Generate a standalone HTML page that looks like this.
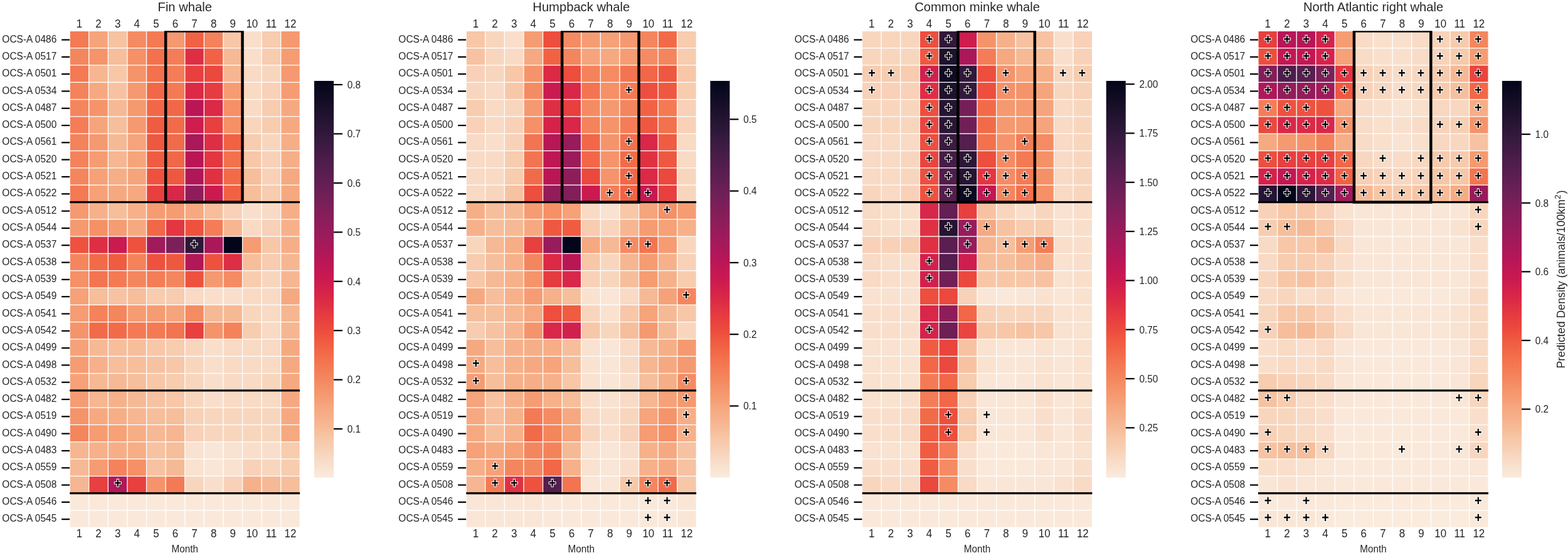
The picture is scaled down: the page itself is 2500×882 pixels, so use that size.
<!DOCTYPE html>
<html><head><meta charset="utf-8"><title>Predicted whale density by lease area and month</title>
<style>
html,body{margin:0;padding:0;background:#fff;}
body{width:2500px;height:882px;overflow:hidden;}
svg{display:block;}
svg text{font-family:'Liberation Sans', Arial, Helvetica, sans-serif;fill:#262626;}
.tl{font-size:17.5px;text-anchor:middle;}
.yl{font-size:16.5px;text-anchor:end;}
.ttl{font-size:20.2px;text-anchor:middle;}
.ml{font-size:15.3px;text-anchor:middle;}
.cl{font-size:16.5px;}
.pl{font-size:20px;font-weight:bold;text-anchor:middle;fill:#000;stroke:#fff;stroke-width:2.0px;paint-order:stroke;stroke-linejoin:round;}
</style></head><body>
<svg width="2500" height="882" viewBox="0 0 2500 882">
<defs>
<linearGradient id="rk" x1="0" y1="1" x2="0" y2="0">

<stop offset="0.0000" stop-color="#faebdd"/>
<stop offset="0.0250" stop-color="#f9e2d0"/>
<stop offset="0.0500" stop-color="#f8d9c3"/>
<stop offset="0.0750" stop-color="#f7cfb3"/>
<stop offset="0.1000" stop-color="#f7c6a6"/>
<stop offset="0.1250" stop-color="#f6bb97"/>
<stop offset="0.1500" stop-color="#f6b18b"/>
<stop offset="0.1750" stop-color="#f6a880"/>
<stop offset="0.2000" stop-color="#f69c73"/>
<stop offset="0.2250" stop-color="#f59269"/>
<stop offset="0.2500" stop-color="#f4865e"/>
<stop offset="0.2750" stop-color="#f47c55"/>
<stop offset="0.3000" stop-color="#f3714d"/>
<stop offset="0.3250" stop-color="#f16445"/>
<stop offset="0.3500" stop-color="#ef5840"/>
<stop offset="0.3750" stop-color="#ec4a3e"/>
<stop offset="0.4000" stop-color="#e83f3f"/>
<stop offset="0.4250" stop-color="#e23442"/>
<stop offset="0.4500" stop-color="#db2946"/>
<stop offset="0.4750" stop-color="#d3214b"/>
<stop offset="0.5000" stop-color="#ca1a50"/>
<stop offset="0.5250" stop-color="#c11754"/>
<stop offset="0.5500" stop-color="#b71657"/>
<stop offset="0.5750" stop-color="#ab185a"/>
<stop offset="0.6000" stop-color="#a11a5b"/>
<stop offset="0.6250" stop-color="#951c5b"/>
<stop offset="0.6500" stop-color="#8b1d5b"/>
<stop offset="0.6750" stop-color="#811e5a"/>
<stop offset="0.7000" stop-color="#751f58"/>
<stop offset="0.7250" stop-color="#6b1f56"/>
<stop offset="0.7500" stop-color="#601f52"/>
<stop offset="0.7750" stop-color="#561e4f"/>
<stop offset="0.8000" stop-color="#4c1d4b"/>
<stop offset="0.8250" stop-color="#421b45"/>
<stop offset="0.8500" stop-color="#381a40"/>
<stop offset="0.8750" stop-color="#2e1739"/>
<stop offset="0.9000" stop-color="#251433"/>
<stop offset="0.9250" stop-color="#1d112c"/>
<stop offset="0.9500" stop-color="#130d25"/>
<stop offset="0.9750" stop-color="#0a091f"/>
<stop offset="1.0000" stop-color="#03051a"/>
</linearGradient>
<clipPath id="c0"><rect x="111.15" y="49.35" width="367.20" height="791.99"/></clipPath>
<clipPath id="c1"><rect x="743.15" y="49.35" width="367.20" height="791.99"/></clipPath>
<clipPath id="c2"><rect x="1374.45" y="49.35" width="367.20" height="791.99"/></clipPath>
<clipPath id="c3"><rect x="2005.95" y="49.35" width="367.20" height="791.99"/></clipPath>
</defs>
<g id="panel1">
<rect x="111.15" y="49.35" width="30.65" height="27.36" fill="#f47a54"/>
<rect x="141.75" y="49.35" width="30.65" height="27.36" fill="#f6a47c"/>
<rect x="172.35" y="49.35" width="30.65" height="27.36" fill="#f7c2a2"/>
<rect x="202.95" y="49.35" width="30.65" height="27.36" fill="#f58b63"/>
<rect x="233.55" y="49.35" width="30.65" height="27.36" fill="#f47a54"/>
<rect x="264.15" y="49.35" width="30.65" height="27.36" fill="#f59970"/>
<rect x="294.75" y="49.35" width="30.65" height="27.36" fill="#f16244"/>
<rect x="325.35" y="49.35" width="30.65" height="27.36" fill="#f4835b"/>
<rect x="355.95" y="49.35" width="30.65" height="27.36" fill="#f7c7a8"/>
<rect x="386.55" y="49.35" width="30.65" height="27.36" fill="#f9dfcb"/>
<rect x="417.15" y="49.35" width="30.65" height="27.36" fill="#f7ccaf"/>
<rect x="447.75" y="49.35" width="30.65" height="27.36" fill="#f59970"/>
<rect x="111.15" y="76.66" width="30.65" height="27.36" fill="#f4865e"/>
<rect x="141.75" y="76.66" width="30.65" height="27.36" fill="#f5946b"/>
<rect x="172.35" y="76.66" width="30.65" height="27.36" fill="#f6be9b"/>
<rect x="202.95" y="76.66" width="30.65" height="27.36" fill="#f59067"/>
<rect x="233.55" y="76.66" width="30.65" height="27.36" fill="#f3714d"/>
<rect x="264.15" y="76.66" width="30.65" height="27.36" fill="#f47d57"/>
<rect x="294.75" y="76.66" width="30.65" height="27.36" fill="#de2e44"/>
<rect x="325.35" y="76.66" width="30.65" height="27.36" fill="#f16244"/>
<rect x="355.95" y="76.66" width="30.65" height="27.36" fill="#f6b995"/>
<rect x="386.55" y="76.66" width="30.65" height="27.36" fill="#f9dfcb"/>
<rect x="417.15" y="76.66" width="30.65" height="27.36" fill="#f7ccaf"/>
<rect x="447.75" y="76.66" width="30.65" height="27.36" fill="#f69c73"/>
<rect x="111.15" y="103.97" width="30.65" height="27.36" fill="#f47a54"/>
<rect x="141.75" y="103.97" width="30.65" height="27.36" fill="#f6b691"/>
<rect x="172.35" y="103.97" width="30.65" height="27.36" fill="#f7c7a8"/>
<rect x="202.95" y="103.97" width="30.65" height="27.36" fill="#f5946b"/>
<rect x="233.55" y="103.97" width="30.65" height="27.36" fill="#f3714d"/>
<rect x="264.15" y="103.97" width="30.65" height="27.36" fill="#f47d57"/>
<rect x="294.75" y="103.97" width="30.65" height="27.36" fill="#e83f3f"/>
<rect x="325.35" y="103.97" width="30.65" height="27.36" fill="#eb483e"/>
<rect x="355.95" y="103.97" width="30.65" height="27.36" fill="#f6b691"/>
<rect x="386.55" y="103.97" width="30.65" height="27.36" fill="#f8dac5"/>
<rect x="417.15" y="103.97" width="30.65" height="27.36" fill="#f8d6be"/>
<rect x="447.75" y="103.97" width="30.65" height="27.36" fill="#f59970"/>
<rect x="111.15" y="131.28" width="30.65" height="27.36" fill="#f4835b"/>
<rect x="141.75" y="131.28" width="30.65" height="27.36" fill="#f6a981"/>
<rect x="172.35" y="131.28" width="30.65" height="27.36" fill="#f7c2a2"/>
<rect x="202.95" y="131.28" width="30.65" height="27.36" fill="#f59970"/>
<rect x="233.55" y="131.28" width="30.65" height="27.36" fill="#f26747"/>
<rect x="264.15" y="131.28" width="30.65" height="27.36" fill="#f47a54"/>
<rect x="294.75" y="131.28" width="30.65" height="27.36" fill="#db2946"/>
<rect x="325.35" y="131.28" width="30.65" height="27.36" fill="#e63b40"/>
<rect x="355.95" y="131.28" width="30.65" height="27.36" fill="#f69c73"/>
<rect x="386.55" y="131.28" width="30.65" height="27.36" fill="#f8dac5"/>
<rect x="417.15" y="131.28" width="30.65" height="27.36" fill="#f8d1b8"/>
<rect x="447.75" y="131.28" width="30.65" height="27.36" fill="#f69c73"/>
<rect x="111.15" y="158.59" width="30.65" height="27.36" fill="#f4865e"/>
<rect x="141.75" y="158.59" width="30.65" height="27.36" fill="#f5946b"/>
<rect x="172.35" y="158.59" width="30.65" height="27.36" fill="#f6b995"/>
<rect x="202.95" y="158.59" width="30.65" height="27.36" fill="#f59970"/>
<rect x="233.55" y="158.59" width="30.65" height="27.36" fill="#f26747"/>
<rect x="264.15" y="158.59" width="30.65" height="27.36" fill="#f26747"/>
<rect x="294.75" y="158.59" width="30.65" height="27.36" fill="#ba1656"/>
<rect x="325.35" y="158.59" width="30.65" height="27.36" fill="#db2946"/>
<rect x="355.95" y="158.59" width="30.65" height="27.36" fill="#f59067"/>
<rect x="386.55" y="158.59" width="30.65" height="27.36" fill="#f8dac5"/>
<rect x="417.15" y="158.59" width="30.65" height="27.36" fill="#f7ccaf"/>
<rect x="447.75" y="158.59" width="30.65" height="27.36" fill="#f6a981"/>
<rect x="111.15" y="185.90" width="30.65" height="27.36" fill="#f47d57"/>
<rect x="141.75" y="185.90" width="30.65" height="27.36" fill="#f6a47c"/>
<rect x="172.35" y="185.90" width="30.65" height="27.36" fill="#f6be9b"/>
<rect x="202.95" y="185.90" width="30.65" height="27.36" fill="#f59970"/>
<rect x="233.55" y="185.90" width="30.65" height="27.36" fill="#f05c42"/>
<rect x="264.15" y="185.90" width="30.65" height="27.36" fill="#f26b49"/>
<rect x="294.75" y="185.90" width="30.65" height="27.36" fill="#ce1d4e"/>
<rect x="325.35" y="185.90" width="30.65" height="27.36" fill="#e83f3f"/>
<rect x="355.95" y="185.90" width="30.65" height="27.36" fill="#f59067"/>
<rect x="386.55" y="185.90" width="30.65" height="27.36" fill="#f8d6be"/>
<rect x="417.15" y="185.90" width="30.65" height="27.36" fill="#f7ccaf"/>
<rect x="447.75" y="185.90" width="30.65" height="27.36" fill="#f6a981"/>
<rect x="111.15" y="213.21" width="30.65" height="27.36" fill="#f4835b"/>
<rect x="141.75" y="213.21" width="30.65" height="27.36" fill="#f59970"/>
<rect x="172.35" y="213.21" width="30.65" height="27.36" fill="#f6b995"/>
<rect x="202.95" y="213.21" width="30.65" height="27.36" fill="#f6a47c"/>
<rect x="233.55" y="213.21" width="30.65" height="27.36" fill="#ef5840"/>
<rect x="264.15" y="213.21" width="30.65" height="27.36" fill="#f26b49"/>
<rect x="294.75" y="213.21" width="30.65" height="27.36" fill="#aa185a"/>
<rect x="325.35" y="213.21" width="30.65" height="27.36" fill="#de2e44"/>
<rect x="355.95" y="213.21" width="30.65" height="27.36" fill="#f16244"/>
<rect x="386.55" y="213.21" width="30.65" height="27.36" fill="#f7ccaf"/>
<rect x="417.15" y="213.21" width="30.65" height="27.36" fill="#f8d6be"/>
<rect x="447.75" y="213.21" width="30.65" height="27.36" fill="#f6ae87"/>
<rect x="111.15" y="240.52" width="30.65" height="27.36" fill="#f4835b"/>
<rect x="141.75" y="240.52" width="30.65" height="27.36" fill="#f69c73"/>
<rect x="172.35" y="240.52" width="30.65" height="27.36" fill="#f6b691"/>
<rect x="202.95" y="240.52" width="30.65" height="27.36" fill="#f6a47c"/>
<rect x="233.55" y="240.52" width="30.65" height="27.36" fill="#f05c42"/>
<rect x="264.15" y="240.52" width="30.65" height="27.36" fill="#f26747"/>
<rect x="294.75" y="240.52" width="30.65" height="27.36" fill="#ba1656"/>
<rect x="325.35" y="240.52" width="30.65" height="27.36" fill="#e33641"/>
<rect x="355.95" y="240.52" width="30.65" height="27.36" fill="#f3714d"/>
<rect x="386.55" y="240.52" width="30.65" height="27.36" fill="#f7c7a8"/>
<rect x="417.15" y="240.52" width="30.65" height="27.36" fill="#f8d1b8"/>
<rect x="447.75" y="240.52" width="30.65" height="27.36" fill="#f6ae87"/>
<rect x="111.15" y="267.83" width="30.65" height="27.36" fill="#f4865e"/>
<rect x="141.75" y="267.83" width="30.65" height="27.36" fill="#f6a178"/>
<rect x="172.35" y="267.83" width="30.65" height="27.36" fill="#f6ae87"/>
<rect x="202.95" y="267.83" width="30.65" height="27.36" fill="#f6a47c"/>
<rect x="233.55" y="267.83" width="30.65" height="27.36" fill="#ee523f"/>
<rect x="264.15" y="267.83" width="30.65" height="27.36" fill="#ef5840"/>
<rect x="294.75" y="267.83" width="30.65" height="27.36" fill="#af1759"/>
<rect x="325.35" y="267.83" width="30.65" height="27.36" fill="#e03143"/>
<rect x="355.95" y="267.83" width="30.65" height="27.36" fill="#f26b49"/>
<rect x="386.55" y="267.83" width="30.65" height="27.36" fill="#f6be9b"/>
<rect x="417.15" y="267.83" width="30.65" height="27.36" fill="#f8d1b8"/>
<rect x="447.75" y="267.83" width="30.65" height="27.36" fill="#f6a981"/>
<rect x="111.15" y="295.14" width="30.65" height="27.36" fill="#f47a54"/>
<rect x="141.75" y="295.14" width="30.65" height="27.36" fill="#f6a178"/>
<rect x="172.35" y="295.14" width="30.65" height="27.36" fill="#f6a981"/>
<rect x="202.95" y="295.14" width="30.65" height="27.36" fill="#f6a981"/>
<rect x="233.55" y="295.14" width="30.65" height="27.36" fill="#e83f3f"/>
<rect x="264.15" y="295.14" width="30.65" height="27.36" fill="#d82748"/>
<rect x="294.75" y="295.14" width="30.65" height="27.36" fill="#901d5b"/>
<rect x="325.35" y="295.14" width="30.65" height="27.36" fill="#ca1a50"/>
<rect x="355.95" y="295.14" width="30.65" height="27.36" fill="#f16244"/>
<rect x="386.55" y="295.14" width="30.65" height="27.36" fill="#f6be9b"/>
<rect x="417.15" y="295.14" width="30.65" height="27.36" fill="#f7ccaf"/>
<rect x="447.75" y="295.14" width="30.65" height="27.36" fill="#f6a981"/>
<rect x="111.15" y="322.45" width="30.65" height="27.36" fill="#f59970"/>
<rect x="141.75" y="322.45" width="30.65" height="27.36" fill="#f6b18b"/>
<rect x="172.35" y="322.45" width="30.65" height="27.36" fill="#f6be9b"/>
<rect x="202.95" y="322.45" width="30.65" height="27.36" fill="#f6b18b"/>
<rect x="233.55" y="322.45" width="30.65" height="27.36" fill="#f69c73"/>
<rect x="264.15" y="322.45" width="30.65" height="27.36" fill="#f69c73"/>
<rect x="294.75" y="322.45" width="30.65" height="27.36" fill="#f6a981"/>
<rect x="325.35" y="322.45" width="30.65" height="27.36" fill="#f6be9b"/>
<rect x="355.95" y="322.45" width="30.65" height="27.36" fill="#f8d1b8"/>
<rect x="386.55" y="322.45" width="30.65" height="27.36" fill="#f9dfcb"/>
<rect x="417.15" y="322.45" width="30.65" height="27.36" fill="#f8dac5"/>
<rect x="447.75" y="322.45" width="30.65" height="27.36" fill="#f6ae87"/>
<rect x="111.15" y="349.76" width="30.65" height="27.36" fill="#f59970"/>
<rect x="141.75" y="349.76" width="30.65" height="27.36" fill="#f59067"/>
<rect x="172.35" y="349.76" width="30.65" height="27.36" fill="#f69c73"/>
<rect x="202.95" y="349.76" width="30.65" height="27.36" fill="#f6a981"/>
<rect x="233.55" y="349.76" width="30.65" height="27.36" fill="#f26747"/>
<rect x="264.15" y="349.76" width="30.65" height="27.36" fill="#e33641"/>
<rect x="294.75" y="349.76" width="30.65" height="27.36" fill="#ee523f"/>
<rect x="325.35" y="349.76" width="30.65" height="27.36" fill="#f47d57"/>
<rect x="355.95" y="349.76" width="30.65" height="27.36" fill="#f6b691"/>
<rect x="386.55" y="349.76" width="30.65" height="27.36" fill="#f8dac5"/>
<rect x="417.15" y="349.76" width="30.65" height="27.36" fill="#f8d1b8"/>
<rect x="447.75" y="349.76" width="30.65" height="27.36" fill="#f6b18b"/>
<rect x="111.15" y="377.07" width="30.65" height="27.36" fill="#ee523f"/>
<rect x="141.75" y="377.07" width="30.65" height="27.36" fill="#de2e44"/>
<rect x="172.35" y="377.07" width="30.65" height="27.36" fill="#ca1a50"/>
<rect x="202.95" y="377.07" width="30.65" height="27.36" fill="#ee523f"/>
<rect x="233.55" y="377.07" width="30.65" height="27.36" fill="#a11a5b"/>
<rect x="264.15" y="377.07" width="30.65" height="27.36" fill="#7d1f5a"/>
<rect x="294.75" y="377.07" width="30.65" height="27.36" fill="#2d1738"/>
<rect x="325.35" y="377.07" width="30.65" height="27.36" fill="#aa185a"/>
<rect x="355.95" y="377.07" width="30.65" height="27.36" fill="#03051a"/>
<rect x="386.55" y="377.07" width="30.65" height="27.36" fill="#f69c73"/>
<rect x="417.15" y="377.07" width="30.65" height="27.36" fill="#f7c7a8"/>
<rect x="447.75" y="377.07" width="30.65" height="27.36" fill="#f6ae87"/>
<rect x="111.15" y="404.38" width="30.65" height="27.36" fill="#f4865e"/>
<rect x="141.75" y="404.38" width="30.65" height="27.36" fill="#f26b49"/>
<rect x="172.35" y="404.38" width="30.65" height="27.36" fill="#f05c42"/>
<rect x="202.95" y="404.38" width="30.65" height="27.36" fill="#f4835b"/>
<rect x="233.55" y="404.38" width="30.65" height="27.36" fill="#ee523f"/>
<rect x="264.15" y="404.38" width="30.65" height="27.36" fill="#ef5840"/>
<rect x="294.75" y="404.38" width="30.65" height="27.36" fill="#b21758"/>
<rect x="325.35" y="404.38" width="30.65" height="27.36" fill="#ee523f"/>
<rect x="355.95" y="404.38" width="30.65" height="27.36" fill="#de2e44"/>
<rect x="386.55" y="404.38" width="30.65" height="27.36" fill="#f6be9b"/>
<rect x="417.15" y="404.38" width="30.65" height="27.36" fill="#f7ccaf"/>
<rect x="447.75" y="404.38" width="30.65" height="27.36" fill="#f6b691"/>
<rect x="111.15" y="431.69" width="30.65" height="27.36" fill="#f59067"/>
<rect x="141.75" y="431.69" width="30.65" height="27.36" fill="#f37450"/>
<rect x="172.35" y="431.69" width="30.65" height="27.36" fill="#f47a54"/>
<rect x="202.95" y="431.69" width="30.65" height="27.36" fill="#f4865e"/>
<rect x="233.55" y="431.69" width="30.65" height="27.36" fill="#f47d57"/>
<rect x="264.15" y="431.69" width="30.65" height="27.36" fill="#f4865e"/>
<rect x="294.75" y="431.69" width="30.65" height="27.36" fill="#ee523f"/>
<rect x="325.35" y="431.69" width="30.65" height="27.36" fill="#f59970"/>
<rect x="355.95" y="431.69" width="30.65" height="27.36" fill="#f58b63"/>
<rect x="386.55" y="431.69" width="30.65" height="27.36" fill="#f7ccaf"/>
<rect x="417.15" y="431.69" width="30.65" height="27.36" fill="#f8d6be"/>
<rect x="447.75" y="431.69" width="30.65" height="27.36" fill="#f6b691"/>
<rect x="111.15" y="459.00" width="30.65" height="27.36" fill="#f6a178"/>
<rect x="141.75" y="459.00" width="30.65" height="27.36" fill="#f6be9b"/>
<rect x="172.35" y="459.00" width="30.65" height="27.36" fill="#f7c2a2"/>
<rect x="202.95" y="459.00" width="30.65" height="27.36" fill="#f6be9b"/>
<rect x="233.55" y="459.00" width="30.65" height="27.36" fill="#f7ccaf"/>
<rect x="264.15" y="459.00" width="30.65" height="27.36" fill="#f7ccaf"/>
<rect x="294.75" y="459.00" width="30.65" height="27.36" fill="#f8dac5"/>
<rect x="325.35" y="459.00" width="30.65" height="27.36" fill="#f9dfcb"/>
<rect x="355.95" y="459.00" width="30.65" height="27.36" fill="#f9dfcb"/>
<rect x="386.55" y="459.00" width="30.65" height="27.36" fill="#f8dac5"/>
<rect x="417.15" y="459.00" width="30.65" height="27.36" fill="#f8dac5"/>
<rect x="447.75" y="459.00" width="30.65" height="27.36" fill="#f6a981"/>
<rect x="111.15" y="486.31" width="30.65" height="27.36" fill="#f69c73"/>
<rect x="141.75" y="486.31" width="30.65" height="27.36" fill="#f4835b"/>
<rect x="172.35" y="486.31" width="30.65" height="27.36" fill="#f4865e"/>
<rect x="202.95" y="486.31" width="30.65" height="27.36" fill="#f69c73"/>
<rect x="233.55" y="486.31" width="30.65" height="27.36" fill="#f69c73"/>
<rect x="264.15" y="486.31" width="30.65" height="27.36" fill="#f6a47c"/>
<rect x="294.75" y="486.31" width="30.65" height="27.36" fill="#f58b63"/>
<rect x="325.35" y="486.31" width="30.65" height="27.36" fill="#f6b995"/>
<rect x="355.95" y="486.31" width="30.65" height="27.36" fill="#f6b995"/>
<rect x="386.55" y="486.31" width="30.65" height="27.36" fill="#f8d6be"/>
<rect x="417.15" y="486.31" width="30.65" height="27.36" fill="#f8dac5"/>
<rect x="447.75" y="486.31" width="30.65" height="27.36" fill="#f6b691"/>
<rect x="111.15" y="513.62" width="30.65" height="27.36" fill="#f5946b"/>
<rect x="141.75" y="513.62" width="30.65" height="27.36" fill="#f26b49"/>
<rect x="172.35" y="513.62" width="30.65" height="27.36" fill="#f26b49"/>
<rect x="202.95" y="513.62" width="30.65" height="27.36" fill="#f47a54"/>
<rect x="233.55" y="513.62" width="30.65" height="27.36" fill="#f47a54"/>
<rect x="264.15" y="513.62" width="30.65" height="27.36" fill="#f37450"/>
<rect x="294.75" y="513.62" width="30.65" height="27.36" fill="#e83f3f"/>
<rect x="325.35" y="513.62" width="30.65" height="27.36" fill="#f5946b"/>
<rect x="355.95" y="513.62" width="30.65" height="27.36" fill="#f4835b"/>
<rect x="386.55" y="513.62" width="30.65" height="27.36" fill="#f7ccaf"/>
<rect x="417.15" y="513.62" width="30.65" height="27.36" fill="#f8dac5"/>
<rect x="447.75" y="513.62" width="30.65" height="27.36" fill="#f6b691"/>
<rect x="111.15" y="540.93" width="30.65" height="27.36" fill="#f6a178"/>
<rect x="141.75" y="540.93" width="30.65" height="27.36" fill="#f6b995"/>
<rect x="172.35" y="540.93" width="30.65" height="27.36" fill="#f6be9b"/>
<rect x="202.95" y="540.93" width="30.65" height="27.36" fill="#f6be9b"/>
<rect x="233.55" y="540.93" width="30.65" height="27.36" fill="#f7c7a8"/>
<rect x="264.15" y="540.93" width="30.65" height="27.36" fill="#f7ccaf"/>
<rect x="294.75" y="540.93" width="30.65" height="27.36" fill="#f8d6be"/>
<rect x="325.35" y="540.93" width="30.65" height="27.36" fill="#f9dfcb"/>
<rect x="355.95" y="540.93" width="30.65" height="27.36" fill="#f8dac5"/>
<rect x="386.55" y="540.93" width="30.65" height="27.36" fill="#f8dac5"/>
<rect x="417.15" y="540.93" width="30.65" height="27.36" fill="#f8dac5"/>
<rect x="447.75" y="540.93" width="30.65" height="27.36" fill="#f6a981"/>
<rect x="111.15" y="568.24" width="30.65" height="27.36" fill="#f69c73"/>
<rect x="141.75" y="568.24" width="30.65" height="27.36" fill="#f6b18b"/>
<rect x="172.35" y="568.24" width="30.65" height="27.36" fill="#f6be9b"/>
<rect x="202.95" y="568.24" width="30.65" height="27.36" fill="#f6be9b"/>
<rect x="233.55" y="568.24" width="30.65" height="27.36" fill="#f7c2a2"/>
<rect x="264.15" y="568.24" width="30.65" height="27.36" fill="#f7c7a8"/>
<rect x="294.75" y="568.24" width="30.65" height="27.36" fill="#f8d6be"/>
<rect x="325.35" y="568.24" width="30.65" height="27.36" fill="#f9dfcb"/>
<rect x="355.95" y="568.24" width="30.65" height="27.36" fill="#f8dac5"/>
<rect x="386.55" y="568.24" width="30.65" height="27.36" fill="#f8dac5"/>
<rect x="417.15" y="568.24" width="30.65" height="27.36" fill="#f8dac5"/>
<rect x="447.75" y="568.24" width="30.65" height="27.36" fill="#f6a981"/>
<rect x="111.15" y="595.55" width="30.65" height="27.36" fill="#f6a178"/>
<rect x="141.75" y="595.55" width="30.65" height="27.36" fill="#f6b995"/>
<rect x="172.35" y="595.55" width="30.65" height="27.36" fill="#f6b995"/>
<rect x="202.95" y="595.55" width="30.65" height="27.36" fill="#f6be9b"/>
<rect x="233.55" y="595.55" width="30.65" height="27.36" fill="#f7c7a8"/>
<rect x="264.15" y="595.55" width="30.65" height="27.36" fill="#f7ccaf"/>
<rect x="294.75" y="595.55" width="30.65" height="27.36" fill="#f8d6be"/>
<rect x="325.35" y="595.55" width="30.65" height="27.36" fill="#f9dfcb"/>
<rect x="355.95" y="595.55" width="30.65" height="27.36" fill="#f8dac5"/>
<rect x="386.55" y="595.55" width="30.65" height="27.36" fill="#f8dac5"/>
<rect x="417.15" y="595.55" width="30.65" height="27.36" fill="#f8d6be"/>
<rect x="447.75" y="595.55" width="30.65" height="27.36" fill="#f6a981"/>
<rect x="111.15" y="622.86" width="30.65" height="27.36" fill="#f69c73"/>
<rect x="141.75" y="622.86" width="30.65" height="27.36" fill="#f6b691"/>
<rect x="172.35" y="622.86" width="30.65" height="27.36" fill="#f6b18b"/>
<rect x="202.95" y="622.86" width="30.65" height="27.36" fill="#f6b995"/>
<rect x="233.55" y="622.86" width="30.65" height="27.36" fill="#f7c2a2"/>
<rect x="264.15" y="622.86" width="30.65" height="27.36" fill="#f7c7a8"/>
<rect x="294.75" y="622.86" width="30.65" height="27.36" fill="#f8d6be"/>
<rect x="325.35" y="622.86" width="30.65" height="27.36" fill="#f9dfcb"/>
<rect x="355.95" y="622.86" width="30.65" height="27.36" fill="#f8dac5"/>
<rect x="386.55" y="622.86" width="30.65" height="27.36" fill="#f8dac5"/>
<rect x="417.15" y="622.86" width="30.65" height="27.36" fill="#f8dac5"/>
<rect x="447.75" y="622.86" width="30.65" height="27.36" fill="#f6a981"/>
<rect x="111.15" y="650.17" width="30.65" height="27.36" fill="#f5946b"/>
<rect x="141.75" y="650.17" width="30.65" height="27.36" fill="#f6a981"/>
<rect x="172.35" y="650.17" width="30.65" height="27.36" fill="#f6ae87"/>
<rect x="202.95" y="650.17" width="30.65" height="27.36" fill="#f6b691"/>
<rect x="233.55" y="650.17" width="30.65" height="27.36" fill="#f6be9b"/>
<rect x="264.15" y="650.17" width="30.65" height="27.36" fill="#f6be9b"/>
<rect x="294.75" y="650.17" width="30.65" height="27.36" fill="#f8d1b8"/>
<rect x="325.35" y="650.17" width="30.65" height="27.36" fill="#f8d6be"/>
<rect x="355.95" y="650.17" width="30.65" height="27.36" fill="#f8d6be"/>
<rect x="386.55" y="650.17" width="30.65" height="27.36" fill="#f8d6be"/>
<rect x="417.15" y="650.17" width="30.65" height="27.36" fill="#f8d6be"/>
<rect x="447.75" y="650.17" width="30.65" height="27.36" fill="#f6a981"/>
<rect x="111.15" y="677.48" width="30.65" height="27.36" fill="#f4865e"/>
<rect x="141.75" y="677.48" width="30.65" height="27.36" fill="#f69c73"/>
<rect x="172.35" y="677.48" width="30.65" height="27.36" fill="#f6a178"/>
<rect x="202.95" y="677.48" width="30.65" height="27.36" fill="#f6ae87"/>
<rect x="233.55" y="677.48" width="30.65" height="27.36" fill="#f6b995"/>
<rect x="264.15" y="677.48" width="30.65" height="27.36" fill="#f6b691"/>
<rect x="294.75" y="677.48" width="30.65" height="27.36" fill="#f8d1b8"/>
<rect x="325.35" y="677.48" width="30.65" height="27.36" fill="#f8d6be"/>
<rect x="355.95" y="677.48" width="30.65" height="27.36" fill="#f8d6be"/>
<rect x="386.55" y="677.48" width="30.65" height="27.36" fill="#f8d6be"/>
<rect x="417.15" y="677.48" width="30.65" height="27.36" fill="#f8d6be"/>
<rect x="447.75" y="677.48" width="30.65" height="27.36" fill="#f6a981"/>
<rect x="111.15" y="704.79" width="30.65" height="27.36" fill="#f6b691"/>
<rect x="141.75" y="704.79" width="30.65" height="27.36" fill="#f6b18b"/>
<rect x="172.35" y="704.79" width="30.65" height="27.36" fill="#f6ae87"/>
<rect x="202.95" y="704.79" width="30.65" height="27.36" fill="#f6ae87"/>
<rect x="233.55" y="704.79" width="30.65" height="27.36" fill="#f7c2a2"/>
<rect x="264.15" y="704.79" width="30.65" height="27.36" fill="#f6be9b"/>
<rect x="294.75" y="704.79" width="30.65" height="27.36" fill="#f9e2d0"/>
<rect x="325.35" y="704.79" width="30.65" height="27.36" fill="#fae6d6"/>
<rect x="355.95" y="704.79" width="30.65" height="27.36" fill="#f9e2d0"/>
<rect x="386.55" y="704.79" width="30.65" height="27.36" fill="#f9dfcb"/>
<rect x="417.15" y="704.79" width="30.65" height="27.36" fill="#f9dfcb"/>
<rect x="447.75" y="704.79" width="30.65" height="27.36" fill="#f7ccaf"/>
<rect x="111.15" y="732.10" width="30.65" height="27.36" fill="#f6b995"/>
<rect x="141.75" y="732.10" width="30.65" height="27.36" fill="#f69c73"/>
<rect x="172.35" y="732.10" width="30.65" height="27.36" fill="#f4835b"/>
<rect x="202.95" y="732.10" width="30.65" height="27.36" fill="#f59067"/>
<rect x="233.55" y="732.10" width="30.65" height="27.36" fill="#f7c2a2"/>
<rect x="264.15" y="732.10" width="30.65" height="27.36" fill="#f6b995"/>
<rect x="294.75" y="732.10" width="30.65" height="27.36" fill="#f9e2d0"/>
<rect x="325.35" y="732.10" width="30.65" height="27.36" fill="#fae6d6"/>
<rect x="355.95" y="732.10" width="30.65" height="27.36" fill="#f9e2d0"/>
<rect x="386.55" y="732.10" width="30.65" height="27.36" fill="#f8d1b8"/>
<rect x="417.15" y="732.10" width="30.65" height="27.36" fill="#f8d6be"/>
<rect x="447.75" y="732.10" width="30.65" height="27.36" fill="#f7ccaf"/>
<rect x="111.15" y="759.41" width="30.65" height="27.36" fill="#f6b691"/>
<rect x="141.75" y="759.41" width="30.65" height="27.36" fill="#e83f3f"/>
<rect x="172.35" y="759.41" width="30.65" height="27.36" fill="#b21758"/>
<rect x="202.95" y="759.41" width="30.65" height="27.36" fill="#e83f3f"/>
<rect x="233.55" y="759.41" width="30.65" height="27.36" fill="#f5946b"/>
<rect x="264.15" y="759.41" width="30.65" height="27.36" fill="#f47a54"/>
<rect x="294.75" y="759.41" width="30.65" height="27.36" fill="#f8d6be"/>
<rect x="325.35" y="759.41" width="30.65" height="27.36" fill="#f9dfcb"/>
<rect x="355.95" y="759.41" width="30.65" height="27.36" fill="#f8d1b8"/>
<rect x="386.55" y="759.41" width="30.65" height="27.36" fill="#f6b18b"/>
<rect x="417.15" y="759.41" width="30.65" height="27.36" fill="#f6b995"/>
<rect x="447.75" y="759.41" width="30.65" height="27.36" fill="#f6be9b"/>
<rect x="111.15" y="786.72" width="30.65" height="27.36" fill="#fae9da"/>
<rect x="141.75" y="786.72" width="30.65" height="27.36" fill="#fae9da"/>
<rect x="172.35" y="786.72" width="30.65" height="27.36" fill="#fae9da"/>
<rect x="202.95" y="786.72" width="30.65" height="27.36" fill="#fae9da"/>
<rect x="233.55" y="786.72" width="30.65" height="27.36" fill="#fae9da"/>
<rect x="264.15" y="786.72" width="30.65" height="27.36" fill="#fae9da"/>
<rect x="294.75" y="786.72" width="30.65" height="27.36" fill="#fae9da"/>
<rect x="325.35" y="786.72" width="30.65" height="27.36" fill="#fae9da"/>
<rect x="355.95" y="786.72" width="30.65" height="27.36" fill="#fae9da"/>
<rect x="386.55" y="786.72" width="30.65" height="27.36" fill="#fae9da"/>
<rect x="417.15" y="786.72" width="30.65" height="27.36" fill="#fae9da"/>
<rect x="447.75" y="786.72" width="30.65" height="27.36" fill="#fae9da"/>
<rect x="111.15" y="814.03" width="30.65" height="27.36" fill="#fae9da"/>
<rect x="141.75" y="814.03" width="30.65" height="27.36" fill="#fae9da"/>
<rect x="172.35" y="814.03" width="30.65" height="27.36" fill="#fae9da"/>
<rect x="202.95" y="814.03" width="30.65" height="27.36" fill="#fae9da"/>
<rect x="233.55" y="814.03" width="30.65" height="27.36" fill="#fae9da"/>
<rect x="264.15" y="814.03" width="30.65" height="27.36" fill="#fae9da"/>
<rect x="294.75" y="814.03" width="30.65" height="27.36" fill="#fae9da"/>
<rect x="325.35" y="814.03" width="30.65" height="27.36" fill="#fae9da"/>
<rect x="355.95" y="814.03" width="30.65" height="27.36" fill="#fae9da"/>
<rect x="386.55" y="814.03" width="30.65" height="27.36" fill="#fae9da"/>
<rect x="417.15" y="814.03" width="30.65" height="27.36" fill="#fae9da"/>
<rect x="447.75" y="814.03" width="30.65" height="27.36" fill="#fae9da"/>
<rect x="110.50" y="48.70" width="1.3" height="793.29" fill="#fff"/>
<rect x="141.10" y="48.70" width="1.3" height="793.29" fill="#fff"/>
<rect x="171.70" y="48.70" width="1.3" height="793.29" fill="#fff"/>
<rect x="202.30" y="48.70" width="1.3" height="793.29" fill="#fff"/>
<rect x="232.90" y="48.70" width="1.3" height="793.29" fill="#fff"/>
<rect x="263.50" y="48.70" width="1.3" height="793.29" fill="#fff"/>
<rect x="294.10" y="48.70" width="1.3" height="793.29" fill="#fff"/>
<rect x="324.70" y="48.70" width="1.3" height="793.29" fill="#fff"/>
<rect x="355.30" y="48.70" width="1.3" height="793.29" fill="#fff"/>
<rect x="385.90" y="48.70" width="1.3" height="793.29" fill="#fff"/>
<rect x="416.50" y="48.70" width="1.3" height="793.29" fill="#fff"/>
<rect x="447.10" y="48.70" width="1.3" height="793.29" fill="#fff"/>
<rect x="477.70" y="48.70" width="1.3" height="793.29" fill="#fff"/>
<rect x="110.50" y="48.70" width="368.50" height="1.3" fill="#fff"/>
<rect x="110.50" y="76.01" width="368.50" height="1.3" fill="#fff"/>
<rect x="110.50" y="103.32" width="368.50" height="1.3" fill="#fff"/>
<rect x="110.50" y="130.63" width="368.50" height="1.3" fill="#fff"/>
<rect x="110.50" y="157.94" width="368.50" height="1.3" fill="#fff"/>
<rect x="110.50" y="185.25" width="368.50" height="1.3" fill="#fff"/>
<rect x="110.50" y="212.56" width="368.50" height="1.3" fill="#fff"/>
<rect x="110.50" y="239.87" width="368.50" height="1.3" fill="#fff"/>
<rect x="110.50" y="267.18" width="368.50" height="1.3" fill="#fff"/>
<rect x="110.50" y="294.49" width="368.50" height="1.3" fill="#fff"/>
<rect x="110.50" y="321.80" width="368.50" height="1.3" fill="#fff"/>
<rect x="110.50" y="349.11" width="368.50" height="1.3" fill="#fff"/>
<rect x="110.50" y="376.42" width="368.50" height="1.3" fill="#fff"/>
<rect x="110.50" y="403.73" width="368.50" height="1.3" fill="#fff"/>
<rect x="110.50" y="431.04" width="368.50" height="1.3" fill="#fff"/>
<rect x="110.50" y="458.35" width="368.50" height="1.3" fill="#fff"/>
<rect x="110.50" y="485.66" width="368.50" height="1.3" fill="#fff"/>
<rect x="110.50" y="512.97" width="368.50" height="1.3" fill="#fff"/>
<rect x="110.50" y="540.28" width="368.50" height="1.3" fill="#fff"/>
<rect x="110.50" y="567.59" width="368.50" height="1.3" fill="#fff"/>
<rect x="110.50" y="594.90" width="368.50" height="1.3" fill="#fff"/>
<rect x="110.50" y="622.21" width="368.50" height="1.3" fill="#fff"/>
<rect x="110.50" y="649.52" width="368.50" height="1.3" fill="#fff"/>
<rect x="110.50" y="676.83" width="368.50" height="1.3" fill="#fff"/>
<rect x="110.50" y="704.14" width="368.50" height="1.3" fill="#fff"/>
<rect x="110.50" y="731.45" width="368.50" height="1.3" fill="#fff"/>
<rect x="110.50" y="758.76" width="368.50" height="1.3" fill="#fff"/>
<rect x="110.50" y="786.07" width="368.50" height="1.3" fill="#fff"/>
<rect x="110.50" y="813.38" width="368.50" height="1.3" fill="#fff"/>
<rect x="110.50" y="840.69" width="368.50" height="1.3" fill="#fff"/>
<g clip-path="url(#c0)">
<rect x="264.15" y="49.35" width="122.40" height="273.10" fill="none" stroke="#000" stroke-width="4.5"/>
<rect x="111.15" y="320.85" width="367.20" height="3.2" fill="#000"/>
<rect x="111.15" y="621.26" width="367.20" height="3.2" fill="#000"/>
<rect x="111.15" y="785.12" width="367.20" height="3.2" fill="#000"/>
</g>
<text class="pl" transform="translate(309.69,396.65) scale(1,1.06)">+</text>
<text class="pl" transform="translate(187.72,778.29) scale(1,1.06)">+</text>
<rect x="98.15" y="62.41" width="13" height="2.2" fill="#000"/>
<text class="yl" transform="translate(90.35,67.61) scale(0.94,1)">OCS-A 0486</text>
<rect x="98.15" y="89.72" width="13" height="2.2" fill="#000"/>
<text class="yl" transform="translate(90.35,94.91) scale(0.94,1)">OCS-A 0517</text>
<rect x="98.15" y="117.03" width="13" height="2.2" fill="#000"/>
<text class="yl" transform="translate(90.35,122.22) scale(0.94,1)">OCS-A 0501</text>
<rect x="98.15" y="144.34" width="13" height="2.2" fill="#000"/>
<text class="yl" transform="translate(90.35,149.53) scale(0.94,1)">OCS-A 0534</text>
<rect x="98.15" y="171.65" width="13" height="2.2" fill="#000"/>
<text class="yl" transform="translate(90.35,176.84) scale(0.94,1)">OCS-A 0487</text>
<rect x="98.15" y="198.95" width="13" height="2.2" fill="#000"/>
<text class="yl" transform="translate(90.35,204.15) scale(0.94,1)">OCS-A 0500</text>
<rect x="98.15" y="226.26" width="13" height="2.2" fill="#000"/>
<text class="yl" transform="translate(90.35,231.46) scale(0.94,1)">OCS-A 0561</text>
<rect x="98.15" y="253.57" width="13" height="2.2" fill="#000"/>
<text class="yl" transform="translate(90.35,258.77) scale(0.94,1)">OCS-A 0520</text>
<rect x="98.15" y="280.88" width="13" height="2.2" fill="#000"/>
<text class="yl" transform="translate(90.35,286.09) scale(0.94,1)">OCS-A 0521</text>
<rect x="98.15" y="308.19" width="13" height="2.2" fill="#000"/>
<text class="yl" transform="translate(90.35,313.40) scale(0.94,1)">OCS-A 0522</text>
<rect x="98.15" y="335.50" width="13" height="2.2" fill="#000"/>
<text class="yl" transform="translate(90.35,340.71) scale(0.94,1)">OCS-A 0512</text>
<rect x="98.15" y="362.81" width="13" height="2.2" fill="#000"/>
<text class="yl" transform="translate(90.35,368.02) scale(0.94,1)">OCS-A 0544</text>
<rect x="98.15" y="390.12" width="13" height="2.2" fill="#000"/>
<text class="yl" transform="translate(90.35,395.33) scale(0.94,1)">OCS-A 0537</text>
<rect x="98.15" y="417.44" width="13" height="2.2" fill="#000"/>
<text class="yl" transform="translate(90.35,422.64) scale(0.94,1)">OCS-A 0538</text>
<rect x="98.15" y="444.75" width="13" height="2.2" fill="#000"/>
<text class="yl" transform="translate(90.35,449.95) scale(0.94,1)">OCS-A 0539</text>
<rect x="98.15" y="472.06" width="13" height="2.2" fill="#000"/>
<text class="yl" transform="translate(90.35,477.26) scale(0.94,1)">OCS-A 0549</text>
<rect x="98.15" y="499.36" width="13" height="2.2" fill="#000"/>
<text class="yl" transform="translate(90.35,504.56) scale(0.94,1)">OCS-A 0541</text>
<rect x="98.15" y="526.67" width="13" height="2.2" fill="#000"/>
<text class="yl" transform="translate(90.35,531.88) scale(0.94,1)">OCS-A 0542</text>
<rect x="98.15" y="553.98" width="13" height="2.2" fill="#000"/>
<text class="yl" transform="translate(90.35,559.18) scale(0.94,1)">OCS-A 0499</text>
<rect x="98.15" y="581.29" width="13" height="2.2" fill="#000"/>
<text class="yl" transform="translate(90.35,586.50) scale(0.94,1)">OCS-A 0498</text>
<rect x="98.15" y="608.61" width="13" height="2.2" fill="#000"/>
<text class="yl" transform="translate(90.35,613.81) scale(0.94,1)">OCS-A 0532</text>
<rect x="98.15" y="635.91" width="13" height="2.2" fill="#000"/>
<text class="yl" transform="translate(90.35,641.12) scale(0.94,1)">OCS-A 0482</text>
<rect x="98.15" y="663.23" width="13" height="2.2" fill="#000"/>
<text class="yl" transform="translate(90.35,668.43) scale(0.94,1)">OCS-A 0519</text>
<rect x="98.15" y="690.53" width="13" height="2.2" fill="#000"/>
<text class="yl" transform="translate(90.35,695.74) scale(0.94,1)">OCS-A 0490</text>
<rect x="98.15" y="717.84" width="13" height="2.2" fill="#000"/>
<text class="yl" transform="translate(90.35,723.04) scale(0.94,1)">OCS-A 0483</text>
<rect x="98.15" y="745.15" width="13" height="2.2" fill="#000"/>
<text class="yl" transform="translate(90.35,750.36) scale(0.94,1)">OCS-A 0559</text>
<rect x="98.15" y="772.46" width="13" height="2.2" fill="#000"/>
<text class="yl" transform="translate(90.35,777.66) scale(0.94,1)">OCS-A 0508</text>
<rect x="98.15" y="799.77" width="13" height="2.2" fill="#000"/>
<text class="yl" transform="translate(90.35,804.98) scale(0.94,1)">OCS-A 0546</text>
<rect x="98.15" y="827.08" width="13" height="2.2" fill="#000"/>
<text class="yl" transform="translate(90.35,832.28) scale(0.94,1)">OCS-A 0545</text>
<text class="tl" transform="translate(126.45,43.5) scale(0.97,1)">1</text>
<text class="tl" transform="translate(126.45,856.5) scale(0.97,1)">1</text>
<text class="tl" transform="translate(157.05,43.5) scale(0.97,1)">2</text>
<text class="tl" transform="translate(157.05,856.5) scale(0.97,1)">2</text>
<text class="tl" transform="translate(187.65,43.5) scale(0.97,1)">3</text>
<text class="tl" transform="translate(187.65,856.5) scale(0.97,1)">3</text>
<text class="tl" transform="translate(218.25,43.5) scale(0.97,1)">4</text>
<text class="tl" transform="translate(218.25,856.5) scale(0.97,1)">4</text>
<text class="tl" transform="translate(248.85,43.5) scale(0.97,1)">5</text>
<text class="tl" transform="translate(248.85,856.5) scale(0.97,1)">5</text>
<text class="tl" transform="translate(279.45,43.5) scale(0.97,1)">6</text>
<text class="tl" transform="translate(279.45,856.5) scale(0.97,1)">6</text>
<text class="tl" transform="translate(310.05,43.5) scale(0.97,1)">7</text>
<text class="tl" transform="translate(310.05,856.5) scale(0.97,1)">7</text>
<text class="tl" transform="translate(340.65,43.5) scale(0.97,1)">8</text>
<text class="tl" transform="translate(340.65,856.5) scale(0.97,1)">8</text>
<text class="tl" transform="translate(371.25,43.5) scale(0.97,1)">9</text>
<text class="tl" transform="translate(371.25,856.5) scale(0.97,1)">9</text>
<text class="tl" transform="translate(401.85,43.5) scale(0.97,1)">10</text>
<text class="tl" transform="translate(401.85,856.5) scale(0.97,1)">10</text>
<text class="tl" transform="translate(432.45,43.5) scale(0.97,1)">11</text>
<text class="tl" transform="translate(432.45,856.5) scale(0.97,1)">11</text>
<text class="tl" transform="translate(463.05,43.5) scale(0.97,1)">12</text>
<text class="tl" transform="translate(463.05,856.5) scale(0.97,1)">12</text>
<text class="ttl" x="294.75" y="17.9">Fin whale</text>
<text class="ml" transform="translate(294.75,880.7) scale(1,1.07)">Month</text>
<rect x="501.00" y="129.0" width="31.1" height="632.80" fill="url(#rk)"/>
<rect x="532.10" y="683.00" width="14" height="2.2" fill="#000"/>
<text class="cl" transform="translate(553.80,689.90) scale(0.93,1)">0.1</text>
<rect x="532.10" y="604.56" width="14" height="2.2" fill="#000"/>
<text class="cl" transform="translate(553.80,611.46) scale(0.93,1)">0.2</text>
<rect x="532.10" y="526.11" width="14" height="2.2" fill="#000"/>
<text class="cl" transform="translate(553.80,533.01) scale(0.93,1)">0.3</text>
<rect x="532.10" y="447.67" width="14" height="2.2" fill="#000"/>
<text class="cl" transform="translate(553.80,454.57) scale(0.93,1)">0.4</text>
<rect x="532.10" y="369.23" width="14" height="2.2" fill="#000"/>
<text class="cl" transform="translate(553.80,376.13) scale(0.93,1)">0.5</text>
<rect x="532.10" y="290.79" width="14" height="2.2" fill="#000"/>
<text class="cl" transform="translate(553.80,297.69) scale(0.93,1)">0.6</text>
<rect x="532.10" y="212.34" width="14" height="2.2" fill="#000"/>
<text class="cl" transform="translate(553.80,219.24) scale(0.93,1)">0.7</text>
<rect x="532.10" y="133.90" width="14" height="2.2" fill="#000"/>
<text class="cl" transform="translate(553.80,140.80) scale(0.93,1)">0.8</text>
</g>
<g id="panel2">
<rect x="743.15" y="49.35" width="30.65" height="27.36" fill="#f7c7a8"/>
<rect x="773.75" y="49.35" width="30.65" height="27.36" fill="#f8d6be"/>
<rect x="804.35" y="49.35" width="30.65" height="27.36" fill="#f9dfcb"/>
<rect x="834.95" y="49.35" width="30.65" height="27.36" fill="#f69c73"/>
<rect x="865.55" y="49.35" width="30.65" height="27.36" fill="#ed4e3e"/>
<rect x="896.15" y="49.35" width="30.65" height="27.36" fill="#f58b63"/>
<rect x="926.75" y="49.35" width="30.65" height="27.36" fill="#f69c73"/>
<rect x="957.35" y="49.35" width="30.65" height="27.36" fill="#f6a178"/>
<rect x="987.95" y="49.35" width="30.65" height="27.36" fill="#f59970"/>
<rect x="1018.55" y="49.35" width="30.65" height="27.36" fill="#f4865e"/>
<rect x="1049.15" y="49.35" width="30.65" height="27.36" fill="#f26b49"/>
<rect x="1079.75" y="49.35" width="30.65" height="27.36" fill="#f7ccaf"/>
<rect x="743.15" y="76.66" width="30.65" height="27.36" fill="#f7c2a2"/>
<rect x="773.75" y="76.66" width="30.65" height="27.36" fill="#f8d6be"/>
<rect x="804.35" y="76.66" width="30.65" height="27.36" fill="#f8dac5"/>
<rect x="834.95" y="76.66" width="30.65" height="27.36" fill="#f6a981"/>
<rect x="865.55" y="76.66" width="30.65" height="27.36" fill="#f16244"/>
<rect x="896.15" y="76.66" width="30.65" height="27.36" fill="#f4865e"/>
<rect x="926.75" y="76.66" width="30.65" height="27.36" fill="#f6a47c"/>
<rect x="957.35" y="76.66" width="30.65" height="27.36" fill="#f6a981"/>
<rect x="987.95" y="76.66" width="30.65" height="27.36" fill="#f69c73"/>
<rect x="1018.55" y="76.66" width="30.65" height="27.36" fill="#f58b63"/>
<rect x="1049.15" y="76.66" width="30.65" height="27.36" fill="#f4865e"/>
<rect x="1079.75" y="76.66" width="30.65" height="27.36" fill="#f7ccaf"/>
<rect x="743.15" y="103.97" width="30.65" height="27.36" fill="#f8d1b8"/>
<rect x="773.75" y="103.97" width="30.65" height="27.36" fill="#f8d6be"/>
<rect x="804.35" y="103.97" width="30.65" height="27.36" fill="#f7c7a8"/>
<rect x="834.95" y="103.97" width="30.65" height="27.36" fill="#f5946b"/>
<rect x="865.55" y="103.97" width="30.65" height="27.36" fill="#db2946"/>
<rect x="896.15" y="103.97" width="30.65" height="27.36" fill="#ed4e3e"/>
<rect x="926.75" y="103.97" width="30.65" height="27.36" fill="#f4835b"/>
<rect x="957.35" y="103.97" width="30.65" height="27.36" fill="#f58b63"/>
<rect x="987.95" y="103.97" width="30.65" height="27.36" fill="#f37450"/>
<rect x="1018.55" y="103.97" width="30.65" height="27.36" fill="#f26747"/>
<rect x="1049.15" y="103.97" width="30.65" height="27.36" fill="#ef5840"/>
<rect x="1079.75" y="103.97" width="30.65" height="27.36" fill="#f7c7a8"/>
<rect x="743.15" y="131.28" width="30.65" height="27.36" fill="#f8d6be"/>
<rect x="773.75" y="131.28" width="30.65" height="27.36" fill="#f8dac5"/>
<rect x="804.35" y="131.28" width="30.65" height="27.36" fill="#f7c7a8"/>
<rect x="834.95" y="131.28" width="30.65" height="27.36" fill="#f58b63"/>
<rect x="865.55" y="131.28" width="30.65" height="27.36" fill="#ca1a50"/>
<rect x="896.15" y="131.28" width="30.65" height="27.36" fill="#d82748"/>
<rect x="926.75" y="131.28" width="30.65" height="27.36" fill="#f37450"/>
<rect x="957.35" y="131.28" width="30.65" height="27.36" fill="#f59067"/>
<rect x="987.95" y="131.28" width="30.65" height="27.36" fill="#f47a54"/>
<rect x="1018.55" y="131.28" width="30.65" height="27.36" fill="#ed4e3e"/>
<rect x="1049.15" y="131.28" width="30.65" height="27.36" fill="#ef5840"/>
<rect x="1079.75" y="131.28" width="30.65" height="27.36" fill="#f7ccaf"/>
<rect x="743.15" y="158.59" width="30.65" height="27.36" fill="#f7ccaf"/>
<rect x="773.75" y="158.59" width="30.65" height="27.36" fill="#f8dac5"/>
<rect x="804.35" y="158.59" width="30.65" height="27.36" fill="#f8d6be"/>
<rect x="834.95" y="158.59" width="30.65" height="27.36" fill="#f59970"/>
<rect x="865.55" y="158.59" width="30.65" height="27.36" fill="#de2e44"/>
<rect x="896.15" y="158.59" width="30.65" height="27.36" fill="#e83f3f"/>
<rect x="926.75" y="158.59" width="30.65" height="27.36" fill="#f58b63"/>
<rect x="957.35" y="158.59" width="30.65" height="27.36" fill="#f59970"/>
<rect x="987.95" y="158.59" width="30.65" height="27.36" fill="#f4865e"/>
<rect x="1018.55" y="158.59" width="30.65" height="27.36" fill="#f16244"/>
<rect x="1049.15" y="158.59" width="30.65" height="27.36" fill="#f47a54"/>
<rect x="1079.75" y="158.59" width="30.65" height="27.36" fill="#f8d1b8"/>
<rect x="743.15" y="185.90" width="30.65" height="27.36" fill="#f8d1b8"/>
<rect x="773.75" y="185.90" width="30.65" height="27.36" fill="#f8dac5"/>
<rect x="804.35" y="185.90" width="30.65" height="27.36" fill="#f8d1b8"/>
<rect x="834.95" y="185.90" width="30.65" height="27.36" fill="#f59067"/>
<rect x="865.55" y="185.90" width="30.65" height="27.36" fill="#d5224a"/>
<rect x="896.15" y="185.90" width="30.65" height="27.36" fill="#d82748"/>
<rect x="926.75" y="185.90" width="30.65" height="27.36" fill="#f4835b"/>
<rect x="957.35" y="185.90" width="30.65" height="27.36" fill="#f5946b"/>
<rect x="987.95" y="185.90" width="30.65" height="27.36" fill="#f47d57"/>
<rect x="1018.55" y="185.90" width="30.65" height="27.36" fill="#ef5840"/>
<rect x="1049.15" y="185.90" width="30.65" height="27.36" fill="#f3714d"/>
<rect x="1079.75" y="185.90" width="30.65" height="27.36" fill="#f8d1b8"/>
<rect x="743.15" y="213.21" width="30.65" height="27.36" fill="#f8dac5"/>
<rect x="773.75" y="213.21" width="30.65" height="27.36" fill="#f9dfcb"/>
<rect x="804.35" y="213.21" width="30.65" height="27.36" fill="#f8d1b8"/>
<rect x="834.95" y="213.21" width="30.65" height="27.36" fill="#f37450"/>
<rect x="865.55" y="213.21" width="30.65" height="27.36" fill="#b71657"/>
<rect x="896.15" y="213.21" width="30.65" height="27.36" fill="#981b5b"/>
<rect x="926.75" y="213.21" width="30.65" height="27.36" fill="#f26747"/>
<rect x="957.35" y="213.21" width="30.65" height="27.36" fill="#f5946b"/>
<rect x="987.95" y="213.21" width="30.65" height="27.36" fill="#f3714d"/>
<rect x="1018.55" y="213.21" width="30.65" height="27.36" fill="#d82748"/>
<rect x="1049.15" y="213.21" width="30.65" height="27.36" fill="#f05c42"/>
<rect x="1079.75" y="213.21" width="30.65" height="27.36" fill="#f8dac5"/>
<rect x="743.15" y="240.52" width="30.65" height="27.36" fill="#f8dac5"/>
<rect x="773.75" y="240.52" width="30.65" height="27.36" fill="#f8dac5"/>
<rect x="804.35" y="240.52" width="30.65" height="27.36" fill="#f7ccaf"/>
<rect x="834.95" y="240.52" width="30.65" height="27.36" fill="#f37450"/>
<rect x="865.55" y="240.52" width="30.65" height="27.36" fill="#bf1654"/>
<rect x="896.15" y="240.52" width="30.65" height="27.36" fill="#9c1b5b"/>
<rect x="926.75" y="240.52" width="30.65" height="27.36" fill="#f26747"/>
<rect x="957.35" y="240.52" width="30.65" height="27.36" fill="#f5946b"/>
<rect x="987.95" y="240.52" width="30.65" height="27.36" fill="#f26b49"/>
<rect x="1018.55" y="240.52" width="30.65" height="27.36" fill="#e03143"/>
<rect x="1049.15" y="240.52" width="30.65" height="27.36" fill="#ef5840"/>
<rect x="1079.75" y="240.52" width="30.65" height="27.36" fill="#f8dac5"/>
<rect x="743.15" y="267.83" width="30.65" height="27.36" fill="#f8dac5"/>
<rect x="773.75" y="267.83" width="30.65" height="27.36" fill="#f8dac5"/>
<rect x="804.35" y="267.83" width="30.65" height="27.36" fill="#f7ccaf"/>
<rect x="834.95" y="267.83" width="30.65" height="27.36" fill="#f26b49"/>
<rect x="865.55" y="267.83" width="30.65" height="27.36" fill="#ba1656"/>
<rect x="896.15" y="267.83" width="30.65" height="27.36" fill="#901d5b"/>
<rect x="926.75" y="267.83" width="30.65" height="27.36" fill="#eb483e"/>
<rect x="957.35" y="267.83" width="30.65" height="27.36" fill="#f5946b"/>
<rect x="987.95" y="267.83" width="30.65" height="27.36" fill="#f26747"/>
<rect x="1018.55" y="267.83" width="30.65" height="27.36" fill="#db2946"/>
<rect x="1049.15" y="267.83" width="30.65" height="27.36" fill="#eb483e"/>
<rect x="1079.75" y="267.83" width="30.65" height="27.36" fill="#f8d6be"/>
<rect x="743.15" y="295.14" width="30.65" height="27.36" fill="#f8dac5"/>
<rect x="773.75" y="295.14" width="30.65" height="27.36" fill="#f8d6be"/>
<rect x="804.35" y="295.14" width="30.65" height="27.36" fill="#f7c2a2"/>
<rect x="834.95" y="295.14" width="30.65" height="27.36" fill="#ed4e3e"/>
<rect x="865.55" y="295.14" width="30.65" height="27.36" fill="#931c5b"/>
<rect x="896.15" y="295.14" width="30.65" height="27.36" fill="#821e5a"/>
<rect x="926.75" y="295.14" width="30.65" height="27.36" fill="#ca1a50"/>
<rect x="957.35" y="295.14" width="30.65" height="27.36" fill="#f47d57"/>
<rect x="987.95" y="295.14" width="30.65" height="27.36" fill="#f16244"/>
<rect x="1018.55" y="295.14" width="30.65" height="27.36" fill="#c71951"/>
<rect x="1049.15" y="295.14" width="30.65" height="27.36" fill="#e83f3f"/>
<rect x="1079.75" y="295.14" width="30.65" height="27.36" fill="#f8d6be"/>
<rect x="743.15" y="322.45" width="30.65" height="27.36" fill="#f6ae87"/>
<rect x="773.75" y="322.45" width="30.65" height="27.36" fill="#f6be9b"/>
<rect x="804.35" y="322.45" width="30.65" height="27.36" fill="#f6b995"/>
<rect x="834.95" y="322.45" width="30.65" height="27.36" fill="#f69c73"/>
<rect x="865.55" y="322.45" width="30.65" height="27.36" fill="#f59067"/>
<rect x="896.15" y="322.45" width="30.65" height="27.36" fill="#f6a178"/>
<rect x="926.75" y="322.45" width="30.65" height="27.36" fill="#f8dac5"/>
<rect x="957.35" y="322.45" width="30.65" height="27.36" fill="#f9e2d0"/>
<rect x="987.95" y="322.45" width="30.65" height="27.36" fill="#f7c7a8"/>
<rect x="1018.55" y="322.45" width="30.65" height="27.36" fill="#f6a47c"/>
<rect x="1049.15" y="322.45" width="30.65" height="27.36" fill="#f59067"/>
<rect x="1079.75" y="322.45" width="30.65" height="27.36" fill="#f69c73"/>
<rect x="743.15" y="349.76" width="30.65" height="27.36" fill="#f6b18b"/>
<rect x="773.75" y="349.76" width="30.65" height="27.36" fill="#f6be9b"/>
<rect x="804.35" y="349.76" width="30.65" height="27.36" fill="#f6b995"/>
<rect x="834.95" y="349.76" width="30.65" height="27.36" fill="#f6a981"/>
<rect x="865.55" y="349.76" width="30.65" height="27.36" fill="#ef5840"/>
<rect x="896.15" y="349.76" width="30.65" height="27.36" fill="#f05c42"/>
<rect x="926.75" y="349.76" width="30.65" height="27.36" fill="#f7ccaf"/>
<rect x="957.35" y="349.76" width="30.65" height="27.36" fill="#f8d6be"/>
<rect x="987.95" y="349.76" width="30.65" height="27.36" fill="#f6b691"/>
<rect x="1018.55" y="349.76" width="30.65" height="27.36" fill="#f69c73"/>
<rect x="1049.15" y="349.76" width="30.65" height="27.36" fill="#f6a178"/>
<rect x="1079.75" y="349.76" width="30.65" height="27.36" fill="#f6b18b"/>
<rect x="743.15" y="377.07" width="30.65" height="27.36" fill="#f8d6be"/>
<rect x="773.75" y="377.07" width="30.65" height="27.36" fill="#f6b995"/>
<rect x="804.35" y="377.07" width="30.65" height="27.36" fill="#f6ae87"/>
<rect x="834.95" y="377.07" width="30.65" height="27.36" fill="#e83f3f"/>
<rect x="865.55" y="377.07" width="30.65" height="27.36" fill="#981b5b"/>
<rect x="896.15" y="377.07" width="30.65" height="27.36" fill="#03051a"/>
<rect x="926.75" y="377.07" width="30.65" height="27.36" fill="#f6a981"/>
<rect x="957.35" y="377.07" width="30.65" height="27.36" fill="#f6b995"/>
<rect x="987.95" y="377.07" width="30.65" height="27.36" fill="#f58b63"/>
<rect x="1018.55" y="377.07" width="30.65" height="27.36" fill="#f37450"/>
<rect x="1049.15" y="377.07" width="30.65" height="27.36" fill="#f69c73"/>
<rect x="1079.75" y="377.07" width="30.65" height="27.36" fill="#f8d6be"/>
<rect x="743.15" y="404.38" width="30.65" height="27.36" fill="#f7ccaf"/>
<rect x="773.75" y="404.38" width="30.65" height="27.36" fill="#f6be9b"/>
<rect x="804.35" y="404.38" width="30.65" height="27.36" fill="#f6b18b"/>
<rect x="834.95" y="404.38" width="30.65" height="27.36" fill="#f4865e"/>
<rect x="865.55" y="404.38" width="30.65" height="27.36" fill="#db2946"/>
<rect x="896.15" y="404.38" width="30.65" height="27.36" fill="#ba1656"/>
<rect x="926.75" y="404.38" width="30.65" height="27.36" fill="#f7c7a8"/>
<rect x="957.35" y="404.38" width="30.65" height="27.36" fill="#f8d6be"/>
<rect x="987.95" y="404.38" width="30.65" height="27.36" fill="#f6b691"/>
<rect x="1018.55" y="404.38" width="30.65" height="27.36" fill="#f69c73"/>
<rect x="1049.15" y="404.38" width="30.65" height="27.36" fill="#f6b18b"/>
<rect x="1079.75" y="404.38" width="30.65" height="27.36" fill="#f8d1b8"/>
<rect x="743.15" y="431.69" width="30.65" height="27.36" fill="#f7c7a8"/>
<rect x="773.75" y="431.69" width="30.65" height="27.36" fill="#f6b995"/>
<rect x="804.35" y="431.69" width="30.65" height="27.36" fill="#f6b18b"/>
<rect x="834.95" y="431.69" width="30.65" height="27.36" fill="#f5946b"/>
<rect x="865.55" y="431.69" width="30.65" height="27.36" fill="#e63b40"/>
<rect x="896.15" y="431.69" width="30.65" height="27.36" fill="#d82748"/>
<rect x="926.75" y="431.69" width="30.65" height="27.36" fill="#f8d1b8"/>
<rect x="957.35" y="431.69" width="30.65" height="27.36" fill="#f8d6be"/>
<rect x="987.95" y="431.69" width="30.65" height="27.36" fill="#f6be9b"/>
<rect x="1018.55" y="431.69" width="30.65" height="27.36" fill="#f69c73"/>
<rect x="1049.15" y="431.69" width="30.65" height="27.36" fill="#f6b18b"/>
<rect x="1079.75" y="431.69" width="30.65" height="27.36" fill="#f7ccaf"/>
<rect x="743.15" y="459.00" width="30.65" height="27.36" fill="#f6a981"/>
<rect x="773.75" y="459.00" width="30.65" height="27.36" fill="#f6be9b"/>
<rect x="804.35" y="459.00" width="30.65" height="27.36" fill="#f6b18b"/>
<rect x="834.95" y="459.00" width="30.65" height="27.36" fill="#f69c73"/>
<rect x="865.55" y="459.00" width="30.65" height="27.36" fill="#f6b18b"/>
<rect x="896.15" y="459.00" width="30.65" height="27.36" fill="#f6be9b"/>
<rect x="926.75" y="459.00" width="30.65" height="27.36" fill="#f9e2d0"/>
<rect x="957.35" y="459.00" width="30.65" height="27.36" fill="#fae6d6"/>
<rect x="987.95" y="459.00" width="30.65" height="27.36" fill="#f8dac5"/>
<rect x="1018.55" y="459.00" width="30.65" height="27.36" fill="#f6b995"/>
<rect x="1049.15" y="459.00" width="30.65" height="27.36" fill="#f6a178"/>
<rect x="1079.75" y="459.00" width="30.65" height="27.36" fill="#f4865e"/>
<rect x="743.15" y="486.31" width="30.65" height="27.36" fill="#f6be9b"/>
<rect x="773.75" y="486.31" width="30.65" height="27.36" fill="#f6be9b"/>
<rect x="804.35" y="486.31" width="30.65" height="27.36" fill="#f6b691"/>
<rect x="834.95" y="486.31" width="30.65" height="27.36" fill="#f6a981"/>
<rect x="865.55" y="486.31" width="30.65" height="27.36" fill="#ed4e3e"/>
<rect x="896.15" y="486.31" width="30.65" height="27.36" fill="#f05c42"/>
<rect x="926.75" y="486.31" width="30.65" height="27.36" fill="#f8d6be"/>
<rect x="957.35" y="486.31" width="30.65" height="27.36" fill="#f9e2d0"/>
<rect x="987.95" y="486.31" width="30.65" height="27.36" fill="#f7c7a8"/>
<rect x="1018.55" y="486.31" width="30.65" height="27.36" fill="#f6a47c"/>
<rect x="1049.15" y="486.31" width="30.65" height="27.36" fill="#f6b995"/>
<rect x="1079.75" y="486.31" width="30.65" height="27.36" fill="#f7c7a8"/>
<rect x="743.15" y="513.62" width="30.65" height="27.36" fill="#f7ccaf"/>
<rect x="773.75" y="513.62" width="30.65" height="27.36" fill="#f7c2a2"/>
<rect x="804.35" y="513.62" width="30.65" height="27.36" fill="#f6b691"/>
<rect x="834.95" y="513.62" width="30.65" height="27.36" fill="#f5946b"/>
<rect x="865.55" y="513.62" width="30.65" height="27.36" fill="#d82748"/>
<rect x="896.15" y="513.62" width="30.65" height="27.36" fill="#d2204c"/>
<rect x="926.75" y="513.62" width="30.65" height="27.36" fill="#f7c7a8"/>
<rect x="957.35" y="513.62" width="30.65" height="27.36" fill="#f8d6be"/>
<rect x="987.95" y="513.62" width="30.65" height="27.36" fill="#f6be9b"/>
<rect x="1018.55" y="513.62" width="30.65" height="27.36" fill="#f59970"/>
<rect x="1049.15" y="513.62" width="30.65" height="27.36" fill="#f6b995"/>
<rect x="1079.75" y="513.62" width="30.65" height="27.36" fill="#f8d6be"/>
<rect x="743.15" y="540.93" width="30.65" height="27.36" fill="#f6a981"/>
<rect x="773.75" y="540.93" width="30.65" height="27.36" fill="#f6be9b"/>
<rect x="804.35" y="540.93" width="30.65" height="27.36" fill="#f6b18b"/>
<rect x="834.95" y="540.93" width="30.65" height="27.36" fill="#f6ae87"/>
<rect x="865.55" y="540.93" width="30.65" height="27.36" fill="#f6ae87"/>
<rect x="896.15" y="540.93" width="30.65" height="27.36" fill="#f6be9b"/>
<rect x="926.75" y="540.93" width="30.65" height="27.36" fill="#f9e2d0"/>
<rect x="957.35" y="540.93" width="30.65" height="27.36" fill="#fae6d6"/>
<rect x="987.95" y="540.93" width="30.65" height="27.36" fill="#f8dac5"/>
<rect x="1018.55" y="540.93" width="30.65" height="27.36" fill="#f6b995"/>
<rect x="1049.15" y="540.93" width="30.65" height="27.36" fill="#f6ae87"/>
<rect x="1079.75" y="540.93" width="30.65" height="27.36" fill="#f59970"/>
<rect x="743.15" y="568.24" width="30.65" height="27.36" fill="#f6a981"/>
<rect x="773.75" y="568.24" width="30.65" height="27.36" fill="#f6be9b"/>
<rect x="804.35" y="568.24" width="30.65" height="27.36" fill="#f6b18b"/>
<rect x="834.95" y="568.24" width="30.65" height="27.36" fill="#f6a981"/>
<rect x="865.55" y="568.24" width="30.65" height="27.36" fill="#f6a47c"/>
<rect x="896.15" y="568.24" width="30.65" height="27.36" fill="#f6be9b"/>
<rect x="926.75" y="568.24" width="30.65" height="27.36" fill="#f9e2d0"/>
<rect x="957.35" y="568.24" width="30.65" height="27.36" fill="#fae6d6"/>
<rect x="987.95" y="568.24" width="30.65" height="27.36" fill="#f8dac5"/>
<rect x="1018.55" y="568.24" width="30.65" height="27.36" fill="#f6b691"/>
<rect x="1049.15" y="568.24" width="30.65" height="27.36" fill="#f6a981"/>
<rect x="1079.75" y="568.24" width="30.65" height="27.36" fill="#f59970"/>
<rect x="743.15" y="595.55" width="30.65" height="27.36" fill="#f69c73"/>
<rect x="773.75" y="595.55" width="30.65" height="27.36" fill="#f6be9b"/>
<rect x="804.35" y="595.55" width="30.65" height="27.36" fill="#f6b18b"/>
<rect x="834.95" y="595.55" width="30.65" height="27.36" fill="#f6ae87"/>
<rect x="865.55" y="595.55" width="30.65" height="27.36" fill="#f6b18b"/>
<rect x="896.15" y="595.55" width="30.65" height="27.36" fill="#f7c7a8"/>
<rect x="926.75" y="595.55" width="30.65" height="27.36" fill="#f9e2d0"/>
<rect x="957.35" y="595.55" width="30.65" height="27.36" fill="#fae6d6"/>
<rect x="987.95" y="595.55" width="30.65" height="27.36" fill="#f9dfcb"/>
<rect x="1018.55" y="595.55" width="30.65" height="27.36" fill="#f6be9b"/>
<rect x="1049.15" y="595.55" width="30.65" height="27.36" fill="#f6ae87"/>
<rect x="1079.75" y="595.55" width="30.65" height="27.36" fill="#f58b63"/>
<rect x="743.15" y="622.86" width="30.65" height="27.36" fill="#f6a47c"/>
<rect x="773.75" y="622.86" width="30.65" height="27.36" fill="#f7c2a2"/>
<rect x="804.35" y="622.86" width="30.65" height="27.36" fill="#f6b18b"/>
<rect x="834.95" y="622.86" width="30.65" height="27.36" fill="#f69c73"/>
<rect x="865.55" y="622.86" width="30.65" height="27.36" fill="#f6b18b"/>
<rect x="896.15" y="622.86" width="30.65" height="27.36" fill="#f6be9b"/>
<rect x="926.75" y="622.86" width="30.65" height="27.36" fill="#f9dfcb"/>
<rect x="957.35" y="622.86" width="30.65" height="27.36" fill="#f9e2d0"/>
<rect x="987.95" y="622.86" width="30.65" height="27.36" fill="#f8dac5"/>
<rect x="1018.55" y="622.86" width="30.65" height="27.36" fill="#f6b691"/>
<rect x="1049.15" y="622.86" width="30.65" height="27.36" fill="#f6a178"/>
<rect x="1079.75" y="622.86" width="30.65" height="27.36" fill="#f59970"/>
<rect x="743.15" y="650.17" width="30.65" height="27.36" fill="#f6a981"/>
<rect x="773.75" y="650.17" width="30.65" height="27.36" fill="#f6be9b"/>
<rect x="804.35" y="650.17" width="30.65" height="27.36" fill="#f6b18b"/>
<rect x="834.95" y="650.17" width="30.65" height="27.36" fill="#f47a54"/>
<rect x="865.55" y="650.17" width="30.65" height="27.36" fill="#f58b63"/>
<rect x="896.15" y="650.17" width="30.65" height="27.36" fill="#f6a981"/>
<rect x="926.75" y="650.17" width="30.65" height="27.36" fill="#f8dac5"/>
<rect x="957.35" y="650.17" width="30.65" height="27.36" fill="#f9dfcb"/>
<rect x="987.95" y="650.17" width="30.65" height="27.36" fill="#f8d6be"/>
<rect x="1018.55" y="650.17" width="30.65" height="27.36" fill="#f6a47c"/>
<rect x="1049.15" y="650.17" width="30.65" height="27.36" fill="#f5946b"/>
<rect x="1079.75" y="650.17" width="30.65" height="27.36" fill="#f6ae87"/>
<rect x="743.15" y="677.48" width="30.65" height="27.36" fill="#f6a981"/>
<rect x="773.75" y="677.48" width="30.65" height="27.36" fill="#f6be9b"/>
<rect x="804.35" y="677.48" width="30.65" height="27.36" fill="#f6b18b"/>
<rect x="834.95" y="677.48" width="30.65" height="27.36" fill="#f26b49"/>
<rect x="865.55" y="677.48" width="30.65" height="27.36" fill="#f4865e"/>
<rect x="896.15" y="677.48" width="30.65" height="27.36" fill="#f6a47c"/>
<rect x="926.75" y="677.48" width="30.65" height="27.36" fill="#f8d6be"/>
<rect x="957.35" y="677.48" width="30.65" height="27.36" fill="#f9dfcb"/>
<rect x="987.95" y="677.48" width="30.65" height="27.36" fill="#f8d1b8"/>
<rect x="1018.55" y="677.48" width="30.65" height="27.36" fill="#f69c73"/>
<rect x="1049.15" y="677.48" width="30.65" height="27.36" fill="#f59067"/>
<rect x="1079.75" y="677.48" width="30.65" height="27.36" fill="#f6b18b"/>
<rect x="743.15" y="704.79" width="30.65" height="27.36" fill="#f6a178"/>
<rect x="773.75" y="704.79" width="30.65" height="27.36" fill="#f6a981"/>
<rect x="804.35" y="704.79" width="30.65" height="27.36" fill="#f6a178"/>
<rect x="834.95" y="704.79" width="30.65" height="27.36" fill="#f4865e"/>
<rect x="865.55" y="704.79" width="30.65" height="27.36" fill="#f4835b"/>
<rect x="896.15" y="704.79" width="30.65" height="27.36" fill="#f6b995"/>
<rect x="926.75" y="704.79" width="30.65" height="27.36" fill="#f9e2d0"/>
<rect x="957.35" y="704.79" width="30.65" height="27.36" fill="#fae6d6"/>
<rect x="987.95" y="704.79" width="30.65" height="27.36" fill="#f9dfcb"/>
<rect x="1018.55" y="704.79" width="30.65" height="27.36" fill="#f6b18b"/>
<rect x="1049.15" y="704.79" width="30.65" height="27.36" fill="#f6a981"/>
<rect x="1079.75" y="704.79" width="30.65" height="27.36" fill="#f7c2a2"/>
<rect x="743.15" y="732.10" width="30.65" height="27.36" fill="#f6ae87"/>
<rect x="773.75" y="732.10" width="30.65" height="27.36" fill="#f6a178"/>
<rect x="804.35" y="732.10" width="30.65" height="27.36" fill="#f4865e"/>
<rect x="834.95" y="732.10" width="30.65" height="27.36" fill="#f4865e"/>
<rect x="865.55" y="732.10" width="30.65" height="27.36" fill="#f26747"/>
<rect x="896.15" y="732.10" width="30.65" height="27.36" fill="#f6b18b"/>
<rect x="926.75" y="732.10" width="30.65" height="27.36" fill="#f9e2d0"/>
<rect x="957.35" y="732.10" width="30.65" height="27.36" fill="#fae6d6"/>
<rect x="987.95" y="732.10" width="30.65" height="27.36" fill="#f9dfcb"/>
<rect x="1018.55" y="732.10" width="30.65" height="27.36" fill="#f6b18b"/>
<rect x="1049.15" y="732.10" width="30.65" height="27.36" fill="#f6a981"/>
<rect x="1079.75" y="732.10" width="30.65" height="27.36" fill="#f7c2a2"/>
<rect x="743.15" y="759.41" width="30.65" height="27.36" fill="#f6b691"/>
<rect x="773.75" y="759.41" width="30.65" height="27.36" fill="#f47a54"/>
<rect x="804.35" y="759.41" width="30.65" height="27.36" fill="#e03143"/>
<rect x="834.95" y="759.41" width="30.65" height="27.36" fill="#ee523f"/>
<rect x="865.55" y="759.41" width="30.65" height="27.36" fill="#541e4e"/>
<rect x="896.15" y="759.41" width="30.65" height="27.36" fill="#f37450"/>
<rect x="926.75" y="759.41" width="30.65" height="27.36" fill="#fae6d6"/>
<rect x="957.35" y="759.41" width="30.65" height="27.36" fill="#fae6d6"/>
<rect x="987.95" y="759.41" width="30.65" height="27.36" fill="#f7c7a8"/>
<rect x="1018.55" y="759.41" width="30.65" height="27.36" fill="#f4865e"/>
<rect x="1049.15" y="759.41" width="30.65" height="27.36" fill="#f26b49"/>
<rect x="1079.75" y="759.41" width="30.65" height="27.36" fill="#f7c7a8"/>
<rect x="743.15" y="786.72" width="30.65" height="27.36" fill="#fae6d6"/>
<rect x="773.75" y="786.72" width="30.65" height="27.36" fill="#fae6d6"/>
<rect x="804.35" y="786.72" width="30.65" height="27.36" fill="#fae6d6"/>
<rect x="834.95" y="786.72" width="30.65" height="27.36" fill="#fae6d6"/>
<rect x="865.55" y="786.72" width="30.65" height="27.36" fill="#fae9da"/>
<rect x="896.15" y="786.72" width="30.65" height="27.36" fill="#fae9da"/>
<rect x="926.75" y="786.72" width="30.65" height="27.36" fill="#fae9da"/>
<rect x="957.35" y="786.72" width="30.65" height="27.36" fill="#fae9da"/>
<rect x="987.95" y="786.72" width="30.65" height="27.36" fill="#fae9da"/>
<rect x="1018.55" y="786.72" width="30.65" height="27.36" fill="#fae9da"/>
<rect x="1049.15" y="786.72" width="30.65" height="27.36" fill="#fae9da"/>
<rect x="1079.75" y="786.72" width="30.65" height="27.36" fill="#fae6d6"/>
<rect x="743.15" y="814.03" width="30.65" height="27.36" fill="#fae6d6"/>
<rect x="773.75" y="814.03" width="30.65" height="27.36" fill="#fae6d6"/>
<rect x="804.35" y="814.03" width="30.65" height="27.36" fill="#fae6d6"/>
<rect x="834.95" y="814.03" width="30.65" height="27.36" fill="#fae6d6"/>
<rect x="865.55" y="814.03" width="30.65" height="27.36" fill="#fae9da"/>
<rect x="896.15" y="814.03" width="30.65" height="27.36" fill="#fae9da"/>
<rect x="926.75" y="814.03" width="30.65" height="27.36" fill="#fae9da"/>
<rect x="957.35" y="814.03" width="30.65" height="27.36" fill="#fae9da"/>
<rect x="987.95" y="814.03" width="30.65" height="27.36" fill="#fae9da"/>
<rect x="1018.55" y="814.03" width="30.65" height="27.36" fill="#fae9da"/>
<rect x="1049.15" y="814.03" width="30.65" height="27.36" fill="#fae9da"/>
<rect x="1079.75" y="814.03" width="30.65" height="27.36" fill="#fae6d6"/>
<rect x="742.50" y="48.70" width="1.3" height="793.29" fill="#fff"/>
<rect x="773.10" y="48.70" width="1.3" height="793.29" fill="#fff"/>
<rect x="803.70" y="48.70" width="1.3" height="793.29" fill="#fff"/>
<rect x="834.30" y="48.70" width="1.3" height="793.29" fill="#fff"/>
<rect x="864.90" y="48.70" width="1.3" height="793.29" fill="#fff"/>
<rect x="895.50" y="48.70" width="1.3" height="793.29" fill="#fff"/>
<rect x="926.10" y="48.70" width="1.3" height="793.29" fill="#fff"/>
<rect x="956.70" y="48.70" width="1.3" height="793.29" fill="#fff"/>
<rect x="987.30" y="48.70" width="1.3" height="793.29" fill="#fff"/>
<rect x="1017.90" y="48.70" width="1.3" height="793.29" fill="#fff"/>
<rect x="1048.50" y="48.70" width="1.3" height="793.29" fill="#fff"/>
<rect x="1079.10" y="48.70" width="1.3" height="793.29" fill="#fff"/>
<rect x="1109.70" y="48.70" width="1.3" height="793.29" fill="#fff"/>
<rect x="742.50" y="48.70" width="368.50" height="1.3" fill="#fff"/>
<rect x="742.50" y="76.01" width="368.50" height="1.3" fill="#fff"/>
<rect x="742.50" y="103.32" width="368.50" height="1.3" fill="#fff"/>
<rect x="742.50" y="130.63" width="368.50" height="1.3" fill="#fff"/>
<rect x="742.50" y="157.94" width="368.50" height="1.3" fill="#fff"/>
<rect x="742.50" y="185.25" width="368.50" height="1.3" fill="#fff"/>
<rect x="742.50" y="212.56" width="368.50" height="1.3" fill="#fff"/>
<rect x="742.50" y="239.87" width="368.50" height="1.3" fill="#fff"/>
<rect x="742.50" y="267.18" width="368.50" height="1.3" fill="#fff"/>
<rect x="742.50" y="294.49" width="368.50" height="1.3" fill="#fff"/>
<rect x="742.50" y="321.80" width="368.50" height="1.3" fill="#fff"/>
<rect x="742.50" y="349.11" width="368.50" height="1.3" fill="#fff"/>
<rect x="742.50" y="376.42" width="368.50" height="1.3" fill="#fff"/>
<rect x="742.50" y="403.73" width="368.50" height="1.3" fill="#fff"/>
<rect x="742.50" y="431.04" width="368.50" height="1.3" fill="#fff"/>
<rect x="742.50" y="458.35" width="368.50" height="1.3" fill="#fff"/>
<rect x="742.50" y="485.66" width="368.50" height="1.3" fill="#fff"/>
<rect x="742.50" y="512.97" width="368.50" height="1.3" fill="#fff"/>
<rect x="742.50" y="540.28" width="368.50" height="1.3" fill="#fff"/>
<rect x="742.50" y="567.59" width="368.50" height="1.3" fill="#fff"/>
<rect x="742.50" y="594.90" width="368.50" height="1.3" fill="#fff"/>
<rect x="742.50" y="622.21" width="368.50" height="1.3" fill="#fff"/>
<rect x="742.50" y="649.52" width="368.50" height="1.3" fill="#fff"/>
<rect x="742.50" y="676.83" width="368.50" height="1.3" fill="#fff"/>
<rect x="742.50" y="704.14" width="368.50" height="1.3" fill="#fff"/>
<rect x="742.50" y="731.45" width="368.50" height="1.3" fill="#fff"/>
<rect x="742.50" y="758.76" width="368.50" height="1.3" fill="#fff"/>
<rect x="742.50" y="786.07" width="368.50" height="1.3" fill="#fff"/>
<rect x="742.50" y="813.38" width="368.50" height="1.3" fill="#fff"/>
<rect x="742.50" y="840.69" width="368.50" height="1.3" fill="#fff"/>
<g clip-path="url(#c1)">
<rect x="896.15" y="49.35" width="122.40" height="273.10" fill="none" stroke="#000" stroke-width="4.5"/>
<rect x="743.15" y="320.85" width="367.20" height="3.2" fill="#000"/>
<rect x="743.15" y="621.26" width="367.20" height="3.2" fill="#000"/>
<rect x="743.15" y="785.12" width="367.20" height="3.2" fill="#000"/>
</g>
<text class="pl" transform="translate(1002.66,151.31) scale(1,1.06)">+</text>
<text class="pl" transform="translate(1002.66,233.09) scale(1,1.06)">+</text>
<text class="pl" transform="translate(1002.66,260.35) scale(1,1.06)">+</text>
<text class="pl" transform="translate(1002.66,287.61) scale(1,1.06)">+</text>
<text class="pl" transform="translate(972.17,314.87) scale(1,1.06)">+</text>
<text class="pl" transform="translate(1002.66,314.87) scale(1,1.06)">+</text>
<text class="pl" transform="translate(1033.15,314.87) scale(1,1.06)">+</text>
<text class="pl" transform="translate(1063.64,342.13) scale(1,1.06)">+</text>
<text class="pl" transform="translate(1002.66,396.65) scale(1,1.06)">+</text>
<text class="pl" transform="translate(1033.15,396.65) scale(1,1.06)">+</text>
<text class="pl" transform="translate(1094.13,478.43) scale(1,1.06)">+</text>
<text class="pl" transform="translate(758.75,587.47) scale(1,1.06)">+</text>
<text class="pl" transform="translate(758.75,614.73) scale(1,1.06)">+</text>
<text class="pl" transform="translate(1094.13,614.73) scale(1,1.06)">+</text>
<text class="pl" transform="translate(1094.13,641.99) scale(1,1.06)">+</text>
<text class="pl" transform="translate(1094.13,669.25) scale(1,1.06)">+</text>
<text class="pl" transform="translate(1094.13,696.51) scale(1,1.06)">+</text>
<text class="pl" transform="translate(789.24,751.03) scale(1,1.06)">+</text>
<text class="pl" transform="translate(789.24,778.29) scale(1,1.06)">+</text>
<text class="pl" transform="translate(819.73,778.29) scale(1,1.06)">+</text>
<text class="pl" transform="translate(880.70,778.29) scale(1,1.06)">+</text>
<text class="pl" transform="translate(1002.66,778.29) scale(1,1.06)">+</text>
<text class="pl" transform="translate(1033.15,778.29) scale(1,1.06)">+</text>
<text class="pl" transform="translate(1063.64,778.29) scale(1,1.06)">+</text>
<text class="pl" transform="translate(1033.15,805.55) scale(1,1.06)">+</text>
<text class="pl" transform="translate(1063.64,805.55) scale(1,1.06)">+</text>
<text class="pl" transform="translate(1033.15,832.81) scale(1,1.06)">+</text>
<text class="pl" transform="translate(1063.64,832.81) scale(1,1.06)">+</text>
<rect x="730.15" y="62.41" width="13" height="2.2" fill="#000"/>
<text class="yl" transform="translate(722.35,67.61) scale(0.94,1)">OCS-A 0486</text>
<rect x="730.15" y="89.72" width="13" height="2.2" fill="#000"/>
<text class="yl" transform="translate(722.35,94.91) scale(0.94,1)">OCS-A 0517</text>
<rect x="730.15" y="117.03" width="13" height="2.2" fill="#000"/>
<text class="yl" transform="translate(722.35,122.22) scale(0.94,1)">OCS-A 0501</text>
<rect x="730.15" y="144.34" width="13" height="2.2" fill="#000"/>
<text class="yl" transform="translate(722.35,149.53) scale(0.94,1)">OCS-A 0534</text>
<rect x="730.15" y="171.65" width="13" height="2.2" fill="#000"/>
<text class="yl" transform="translate(722.35,176.84) scale(0.94,1)">OCS-A 0487</text>
<rect x="730.15" y="198.95" width="13" height="2.2" fill="#000"/>
<text class="yl" transform="translate(722.35,204.15) scale(0.94,1)">OCS-A 0500</text>
<rect x="730.15" y="226.26" width="13" height="2.2" fill="#000"/>
<text class="yl" transform="translate(722.35,231.46) scale(0.94,1)">OCS-A 0561</text>
<rect x="730.15" y="253.57" width="13" height="2.2" fill="#000"/>
<text class="yl" transform="translate(722.35,258.77) scale(0.94,1)">OCS-A 0520</text>
<rect x="730.15" y="280.88" width="13" height="2.2" fill="#000"/>
<text class="yl" transform="translate(722.35,286.09) scale(0.94,1)">OCS-A 0521</text>
<rect x="730.15" y="308.19" width="13" height="2.2" fill="#000"/>
<text class="yl" transform="translate(722.35,313.40) scale(0.94,1)">OCS-A 0522</text>
<rect x="730.15" y="335.50" width="13" height="2.2" fill="#000"/>
<text class="yl" transform="translate(722.35,340.71) scale(0.94,1)">OCS-A 0512</text>
<rect x="730.15" y="362.81" width="13" height="2.2" fill="#000"/>
<text class="yl" transform="translate(722.35,368.02) scale(0.94,1)">OCS-A 0544</text>
<rect x="730.15" y="390.12" width="13" height="2.2" fill="#000"/>
<text class="yl" transform="translate(722.35,395.33) scale(0.94,1)">OCS-A 0537</text>
<rect x="730.15" y="417.44" width="13" height="2.2" fill="#000"/>
<text class="yl" transform="translate(722.35,422.64) scale(0.94,1)">OCS-A 0538</text>
<rect x="730.15" y="444.75" width="13" height="2.2" fill="#000"/>
<text class="yl" transform="translate(722.35,449.95) scale(0.94,1)">OCS-A 0539</text>
<rect x="730.15" y="472.06" width="13" height="2.2" fill="#000"/>
<text class="yl" transform="translate(722.35,477.26) scale(0.94,1)">OCS-A 0549</text>
<rect x="730.15" y="499.36" width="13" height="2.2" fill="#000"/>
<text class="yl" transform="translate(722.35,504.56) scale(0.94,1)">OCS-A 0541</text>
<rect x="730.15" y="526.67" width="13" height="2.2" fill="#000"/>
<text class="yl" transform="translate(722.35,531.88) scale(0.94,1)">OCS-A 0542</text>
<rect x="730.15" y="553.98" width="13" height="2.2" fill="#000"/>
<text class="yl" transform="translate(722.35,559.18) scale(0.94,1)">OCS-A 0499</text>
<rect x="730.15" y="581.29" width="13" height="2.2" fill="#000"/>
<text class="yl" transform="translate(722.35,586.50) scale(0.94,1)">OCS-A 0498</text>
<rect x="730.15" y="608.61" width="13" height="2.2" fill="#000"/>
<text class="yl" transform="translate(722.35,613.81) scale(0.94,1)">OCS-A 0532</text>
<rect x="730.15" y="635.91" width="13" height="2.2" fill="#000"/>
<text class="yl" transform="translate(722.35,641.12) scale(0.94,1)">OCS-A 0482</text>
<rect x="730.15" y="663.23" width="13" height="2.2" fill="#000"/>
<text class="yl" transform="translate(722.35,668.43) scale(0.94,1)">OCS-A 0519</text>
<rect x="730.15" y="690.53" width="13" height="2.2" fill="#000"/>
<text class="yl" transform="translate(722.35,695.74) scale(0.94,1)">OCS-A 0490</text>
<rect x="730.15" y="717.84" width="13" height="2.2" fill="#000"/>
<text class="yl" transform="translate(722.35,723.04) scale(0.94,1)">OCS-A 0483</text>
<rect x="730.15" y="745.15" width="13" height="2.2" fill="#000"/>
<text class="yl" transform="translate(722.35,750.36) scale(0.94,1)">OCS-A 0559</text>
<rect x="730.15" y="772.46" width="13" height="2.2" fill="#000"/>
<text class="yl" transform="translate(722.35,777.66) scale(0.94,1)">OCS-A 0508</text>
<rect x="730.15" y="799.77" width="13" height="2.2" fill="#000"/>
<text class="yl" transform="translate(722.35,804.98) scale(0.94,1)">OCS-A 0546</text>
<rect x="730.15" y="827.08" width="13" height="2.2" fill="#000"/>
<text class="yl" transform="translate(722.35,832.28) scale(0.94,1)">OCS-A 0545</text>
<text class="tl" transform="translate(758.45,43.5) scale(0.97,1)">1</text>
<text class="tl" transform="translate(758.45,856.5) scale(0.97,1)">1</text>
<text class="tl" transform="translate(789.05,43.5) scale(0.97,1)">2</text>
<text class="tl" transform="translate(789.05,856.5) scale(0.97,1)">2</text>
<text class="tl" transform="translate(819.65,43.5) scale(0.97,1)">3</text>
<text class="tl" transform="translate(819.65,856.5) scale(0.97,1)">3</text>
<text class="tl" transform="translate(850.25,43.5) scale(0.97,1)">4</text>
<text class="tl" transform="translate(850.25,856.5) scale(0.97,1)">4</text>
<text class="tl" transform="translate(880.85,43.5) scale(0.97,1)">5</text>
<text class="tl" transform="translate(880.85,856.5) scale(0.97,1)">5</text>
<text class="tl" transform="translate(911.45,43.5) scale(0.97,1)">6</text>
<text class="tl" transform="translate(911.45,856.5) scale(0.97,1)">6</text>
<text class="tl" transform="translate(942.05,43.5) scale(0.97,1)">7</text>
<text class="tl" transform="translate(942.05,856.5) scale(0.97,1)">7</text>
<text class="tl" transform="translate(972.65,43.5) scale(0.97,1)">8</text>
<text class="tl" transform="translate(972.65,856.5) scale(0.97,1)">8</text>
<text class="tl" transform="translate(1003.25,43.5) scale(0.97,1)">9</text>
<text class="tl" transform="translate(1003.25,856.5) scale(0.97,1)">9</text>
<text class="tl" transform="translate(1033.85,43.5) scale(0.97,1)">10</text>
<text class="tl" transform="translate(1033.85,856.5) scale(0.97,1)">10</text>
<text class="tl" transform="translate(1064.45,43.5) scale(0.97,1)">11</text>
<text class="tl" transform="translate(1064.45,856.5) scale(0.97,1)">11</text>
<text class="tl" transform="translate(1095.05,43.5) scale(0.97,1)">12</text>
<text class="tl" transform="translate(1095.05,856.5) scale(0.97,1)">12</text>
<text class="ttl" x="926.75" y="17.9">Humpback whale</text>
<text class="ml" transform="translate(926.75,880.7) scale(1,1.07)">Month</text>
<rect x="1132.40" y="129.0" width="31.1" height="632.80" fill="url(#rk)"/>
<rect x="1163.50" y="646.40" width="14" height="2.2" fill="#000"/>
<text class="cl" transform="translate(1185.20,653.30) scale(0.93,1)">0.1</text>
<rect x="1163.50" y="532.10" width="14" height="2.2" fill="#000"/>
<text class="cl" transform="translate(1185.20,539.00) scale(0.93,1)">0.2</text>
<rect x="1163.50" y="417.80" width="14" height="2.2" fill="#000"/>
<text class="cl" transform="translate(1185.20,424.70) scale(0.93,1)">0.3</text>
<rect x="1163.50" y="303.50" width="14" height="2.2" fill="#000"/>
<text class="cl" transform="translate(1185.20,310.40) scale(0.93,1)">0.4</text>
<rect x="1163.50" y="189.20" width="14" height="2.2" fill="#000"/>
<text class="cl" transform="translate(1185.20,196.10) scale(0.93,1)">0.5</text>
</g>
<g id="panel3">
<rect x="1374.45" y="49.35" width="30.65" height="27.36" fill="#f8d6be"/>
<rect x="1405.05" y="49.35" width="30.65" height="27.36" fill="#f8d6be"/>
<rect x="1435.65" y="49.35" width="30.65" height="27.36" fill="#f8d6be"/>
<rect x="1466.25" y="49.35" width="30.65" height="27.36" fill="#ed4e3e"/>
<rect x="1496.85" y="49.35" width="30.65" height="27.36" fill="#31183b"/>
<rect x="1527.45" y="49.35" width="30.65" height="27.36" fill="#ce1d4e"/>
<rect x="1558.05" y="49.35" width="30.65" height="27.36" fill="#f5946b"/>
<rect x="1588.65" y="49.35" width="30.65" height="27.36" fill="#f6b18b"/>
<rect x="1619.25" y="49.35" width="30.65" height="27.36" fill="#f7c2a2"/>
<rect x="1649.85" y="49.35" width="30.65" height="27.36" fill="#f7c2a2"/>
<rect x="1680.45" y="49.35" width="30.65" height="27.36" fill="#f9dfcb"/>
<rect x="1711.05" y="49.35" width="30.65" height="27.36" fill="#f8d1b8"/>
<rect x="1374.45" y="76.66" width="30.65" height="27.36" fill="#f8d6be"/>
<rect x="1405.05" y="76.66" width="30.65" height="27.36" fill="#f8d6be"/>
<rect x="1435.65" y="76.66" width="30.65" height="27.36" fill="#f8d6be"/>
<rect x="1466.25" y="76.66" width="30.65" height="27.36" fill="#ef5840"/>
<rect x="1496.85" y="76.66" width="30.65" height="27.36" fill="#1e122d"/>
<rect x="1527.45" y="76.66" width="30.65" height="27.36" fill="#aa185a"/>
<rect x="1558.05" y="76.66" width="30.65" height="27.36" fill="#f47d57"/>
<rect x="1588.65" y="76.66" width="30.65" height="27.36" fill="#f6a981"/>
<rect x="1619.25" y="76.66" width="30.65" height="27.36" fill="#f6b995"/>
<rect x="1649.85" y="76.66" width="30.65" height="27.36" fill="#f6be9b"/>
<rect x="1680.45" y="76.66" width="30.65" height="27.36" fill="#f9dfcb"/>
<rect x="1711.05" y="76.66" width="30.65" height="27.36" fill="#f8d1b8"/>
<rect x="1374.45" y="103.97" width="30.65" height="27.36" fill="#f7ccaf"/>
<rect x="1405.05" y="103.97" width="30.65" height="27.36" fill="#f7ccaf"/>
<rect x="1435.65" y="103.97" width="30.65" height="27.36" fill="#f7ccaf"/>
<rect x="1466.25" y="103.97" width="30.65" height="27.36" fill="#d2204c"/>
<rect x="1496.85" y="103.97" width="30.65" height="27.36" fill="#100b23"/>
<rect x="1527.45" y="103.97" width="30.65" height="27.36" fill="#31183b"/>
<rect x="1558.05" y="103.97" width="30.65" height="27.36" fill="#ed4e3e"/>
<rect x="1588.65" y="103.97" width="30.65" height="27.36" fill="#f5946b"/>
<rect x="1619.25" y="103.97" width="30.65" height="27.36" fill="#f6a47c"/>
<rect x="1649.85" y="103.97" width="30.65" height="27.36" fill="#f6ae87"/>
<rect x="1680.45" y="103.97" width="30.65" height="27.36" fill="#f8d6be"/>
<rect x="1711.05" y="103.97" width="30.65" height="27.36" fill="#f7ccaf"/>
<rect x="1374.45" y="131.28" width="30.65" height="27.36" fill="#f8d1b8"/>
<rect x="1405.05" y="131.28" width="30.65" height="27.36" fill="#f8d1b8"/>
<rect x="1435.65" y="131.28" width="30.65" height="27.36" fill="#f8d1b8"/>
<rect x="1466.25" y="131.28" width="30.65" height="27.36" fill="#de2e44"/>
<rect x="1496.85" y="131.28" width="30.65" height="27.36" fill="#1e122d"/>
<rect x="1527.45" y="131.28" width="30.65" height="27.36" fill="#34193d"/>
<rect x="1558.05" y="131.28" width="30.65" height="27.36" fill="#ed4e3e"/>
<rect x="1588.65" y="131.28" width="30.65" height="27.36" fill="#f59067"/>
<rect x="1619.25" y="131.28" width="30.65" height="27.36" fill="#f5946b"/>
<rect x="1649.85" y="131.28" width="30.65" height="27.36" fill="#f6a47c"/>
<rect x="1680.45" y="131.28" width="30.65" height="27.36" fill="#f8d6be"/>
<rect x="1711.05" y="131.28" width="30.65" height="27.36" fill="#f8d1b8"/>
<rect x="1374.45" y="158.59" width="30.65" height="27.36" fill="#f8d6be"/>
<rect x="1405.05" y="158.59" width="30.65" height="27.36" fill="#f8d6be"/>
<rect x="1435.65" y="158.59" width="30.65" height="27.36" fill="#f8d6be"/>
<rect x="1466.25" y="158.59" width="30.65" height="27.36" fill="#ed4e3e"/>
<rect x="1496.85" y="158.59" width="30.65" height="27.36" fill="#251433"/>
<rect x="1527.45" y="158.59" width="30.65" height="27.36" fill="#751f58"/>
<rect x="1558.05" y="158.59" width="30.65" height="27.36" fill="#f26b49"/>
<rect x="1588.65" y="158.59" width="30.65" height="27.36" fill="#f59970"/>
<rect x="1619.25" y="158.59" width="30.65" height="27.36" fill="#f59970"/>
<rect x="1649.85" y="158.59" width="30.65" height="27.36" fill="#f6a47c"/>
<rect x="1680.45" y="158.59" width="30.65" height="27.36" fill="#f8dac5"/>
<rect x="1711.05" y="158.59" width="30.65" height="27.36" fill="#f8d6be"/>
<rect x="1374.45" y="185.90" width="30.65" height="27.36" fill="#f8d6be"/>
<rect x="1405.05" y="185.90" width="30.65" height="27.36" fill="#f8d6be"/>
<rect x="1435.65" y="185.90" width="30.65" height="27.36" fill="#f8d6be"/>
<rect x="1466.25" y="185.90" width="30.65" height="27.36" fill="#ea443e"/>
<rect x="1496.85" y="185.90" width="30.65" height="27.36" fill="#2a1636"/>
<rect x="1527.45" y="185.90" width="30.65" height="27.36" fill="#711f57"/>
<rect x="1558.05" y="185.90" width="30.65" height="27.36" fill="#f26b49"/>
<rect x="1588.65" y="185.90" width="30.65" height="27.36" fill="#f59970"/>
<rect x="1619.25" y="185.90" width="30.65" height="27.36" fill="#f59970"/>
<rect x="1649.85" y="185.90" width="30.65" height="27.36" fill="#f6a47c"/>
<rect x="1680.45" y="185.90" width="30.65" height="27.36" fill="#f8dac5"/>
<rect x="1711.05" y="185.90" width="30.65" height="27.36" fill="#f8d6be"/>
<rect x="1374.45" y="213.21" width="30.65" height="27.36" fill="#f8dac5"/>
<rect x="1405.05" y="213.21" width="30.65" height="27.36" fill="#f8dac5"/>
<rect x="1435.65" y="213.21" width="30.65" height="27.36" fill="#f8dac5"/>
<rect x="1466.25" y="213.21" width="30.65" height="27.36" fill="#ed4e3e"/>
<rect x="1496.85" y="213.21" width="30.65" height="27.36" fill="#3c1a42"/>
<rect x="1527.45" y="213.21" width="30.65" height="27.36" fill="#541e4e"/>
<rect x="1558.05" y="213.21" width="30.65" height="27.36" fill="#f3714d"/>
<rect x="1588.65" y="213.21" width="30.65" height="27.36" fill="#f5946b"/>
<rect x="1619.25" y="213.21" width="30.65" height="27.36" fill="#f47d57"/>
<rect x="1649.85" y="213.21" width="30.65" height="27.36" fill="#f58b63"/>
<rect x="1680.45" y="213.21" width="30.65" height="27.36" fill="#f8dac5"/>
<rect x="1711.05" y="213.21" width="30.65" height="27.36" fill="#f8d6be"/>
<rect x="1374.45" y="240.52" width="30.65" height="27.36" fill="#f8dac5"/>
<rect x="1405.05" y="240.52" width="30.65" height="27.36" fill="#f8dac5"/>
<rect x="1435.65" y="240.52" width="30.65" height="27.36" fill="#f8d6be"/>
<rect x="1466.25" y="240.52" width="30.65" height="27.36" fill="#ea443e"/>
<rect x="1496.85" y="240.52" width="30.65" height="27.36" fill="#451c47"/>
<rect x="1527.45" y="240.52" width="30.65" height="27.36" fill="#2d1738"/>
<rect x="1558.05" y="240.52" width="30.65" height="27.36" fill="#ed4e3e"/>
<rect x="1588.65" y="240.52" width="30.65" height="27.36" fill="#f58b63"/>
<rect x="1619.25" y="240.52" width="30.65" height="27.36" fill="#f47a54"/>
<rect x="1649.85" y="240.52" width="30.65" height="27.36" fill="#f59067"/>
<rect x="1680.45" y="240.52" width="30.65" height="27.36" fill="#f8dac5"/>
<rect x="1711.05" y="240.52" width="30.65" height="27.36" fill="#f8d6be"/>
<rect x="1374.45" y="267.83" width="30.65" height="27.36" fill="#f8dac5"/>
<rect x="1405.05" y="267.83" width="30.65" height="27.36" fill="#f8dac5"/>
<rect x="1435.65" y="267.83" width="30.65" height="27.36" fill="#f8d6be"/>
<rect x="1466.25" y="267.83" width="30.65" height="27.36" fill="#ed4e3e"/>
<rect x="1496.85" y="267.83" width="30.65" height="27.36" fill="#501d4c"/>
<rect x="1527.45" y="267.83" width="30.65" height="27.36" fill="#251433"/>
<rect x="1558.05" y="267.83" width="30.65" height="27.36" fill="#e33641"/>
<rect x="1588.65" y="267.83" width="30.65" height="27.36" fill="#f58b63"/>
<rect x="1619.25" y="267.83" width="30.65" height="27.36" fill="#f47a54"/>
<rect x="1649.85" y="267.83" width="30.65" height="27.36" fill="#f59067"/>
<rect x="1680.45" y="267.83" width="30.65" height="27.36" fill="#f8dac5"/>
<rect x="1711.05" y="267.83" width="30.65" height="27.36" fill="#f8d6be"/>
<rect x="1374.45" y="295.14" width="30.65" height="27.36" fill="#f8d6be"/>
<rect x="1405.05" y="295.14" width="30.65" height="27.36" fill="#f8dac5"/>
<rect x="1435.65" y="295.14" width="30.65" height="27.36" fill="#f8d1b8"/>
<rect x="1466.25" y="295.14" width="30.65" height="27.36" fill="#ee523f"/>
<rect x="1496.85" y="295.14" width="30.65" height="27.36" fill="#541e4e"/>
<rect x="1527.45" y="295.14" width="30.65" height="27.36" fill="#0b0920"/>
<rect x="1558.05" y="295.14" width="30.65" height="27.36" fill="#c21753"/>
<rect x="1588.65" y="295.14" width="30.65" height="27.36" fill="#f4865e"/>
<rect x="1619.25" y="295.14" width="30.65" height="27.36" fill="#f3714d"/>
<rect x="1649.85" y="295.14" width="30.65" height="27.36" fill="#f59067"/>
<rect x="1680.45" y="295.14" width="30.65" height="27.36" fill="#f8dac5"/>
<rect x="1711.05" y="295.14" width="30.65" height="27.36" fill="#f8d6be"/>
<rect x="1374.45" y="322.45" width="30.65" height="27.36" fill="#f8dac5"/>
<rect x="1405.05" y="322.45" width="30.65" height="27.36" fill="#f9dfcb"/>
<rect x="1435.65" y="322.45" width="30.65" height="27.36" fill="#f9dfcb"/>
<rect x="1466.25" y="322.45" width="30.65" height="27.36" fill="#d82748"/>
<rect x="1496.85" y="322.45" width="30.65" height="27.36" fill="#641f54"/>
<rect x="1527.45" y="322.45" width="30.65" height="27.36" fill="#e83f3f"/>
<rect x="1558.05" y="322.45" width="30.65" height="27.36" fill="#f7c2a2"/>
<rect x="1588.65" y="322.45" width="30.65" height="27.36" fill="#f8d6be"/>
<rect x="1619.25" y="322.45" width="30.65" height="27.36" fill="#f9dfcb"/>
<rect x="1649.85" y="322.45" width="30.65" height="27.36" fill="#f8d6be"/>
<rect x="1680.45" y="322.45" width="30.65" height="27.36" fill="#f9e2d0"/>
<rect x="1711.05" y="322.45" width="30.65" height="27.36" fill="#f9dfcb"/>
<rect x="1374.45" y="349.76" width="30.65" height="27.36" fill="#f8dac5"/>
<rect x="1405.05" y="349.76" width="30.65" height="27.36" fill="#f9dfcb"/>
<rect x="1435.65" y="349.76" width="30.65" height="27.36" fill="#f9dfcb"/>
<rect x="1466.25" y="349.76" width="30.65" height="27.36" fill="#e03143"/>
<rect x="1496.85" y="349.76" width="30.65" height="27.36" fill="#251433"/>
<rect x="1527.45" y="349.76" width="30.65" height="27.36" fill="#981b5b"/>
<rect x="1558.05" y="349.76" width="30.65" height="27.36" fill="#f6a981"/>
<rect x="1588.65" y="349.76" width="30.65" height="27.36" fill="#f7c2a2"/>
<rect x="1619.25" y="349.76" width="30.65" height="27.36" fill="#f7ccaf"/>
<rect x="1649.85" y="349.76" width="30.65" height="27.36" fill="#f7ccaf"/>
<rect x="1680.45" y="349.76" width="30.65" height="27.36" fill="#f9e2d0"/>
<rect x="1711.05" y="349.76" width="30.65" height="27.36" fill="#f9dfcb"/>
<rect x="1374.45" y="377.07" width="30.65" height="27.36" fill="#f8d1b8"/>
<rect x="1405.05" y="377.07" width="30.65" height="27.36" fill="#f8d1b8"/>
<rect x="1435.65" y="377.07" width="30.65" height="27.36" fill="#f7ccaf"/>
<rect x="1466.25" y="377.07" width="30.65" height="27.36" fill="#e03143"/>
<rect x="1496.85" y="377.07" width="30.65" height="27.36" fill="#5c1e51"/>
<rect x="1527.45" y="377.07" width="30.65" height="27.36" fill="#981b5b"/>
<rect x="1558.05" y="377.07" width="30.65" height="27.36" fill="#f6b691"/>
<rect x="1588.65" y="377.07" width="30.65" height="27.36" fill="#f6be9b"/>
<rect x="1619.25" y="377.07" width="30.65" height="27.36" fill="#f69c73"/>
<rect x="1649.85" y="377.07" width="30.65" height="27.36" fill="#f47d57"/>
<rect x="1680.45" y="377.07" width="30.65" height="27.36" fill="#f9dfcb"/>
<rect x="1711.05" y="377.07" width="30.65" height="27.36" fill="#f9dfcb"/>
<rect x="1374.45" y="404.38" width="30.65" height="27.36" fill="#f8dac5"/>
<rect x="1405.05" y="404.38" width="30.65" height="27.36" fill="#f9dfcb"/>
<rect x="1435.65" y="404.38" width="30.65" height="27.36" fill="#f9dfcb"/>
<rect x="1466.25" y="404.38" width="30.65" height="27.36" fill="#d2204c"/>
<rect x="1496.85" y="404.38" width="30.65" height="27.36" fill="#541e4e"/>
<rect x="1527.45" y="404.38" width="30.65" height="27.36" fill="#ce1d4e"/>
<rect x="1558.05" y="404.38" width="30.65" height="27.36" fill="#f6be9b"/>
<rect x="1588.65" y="404.38" width="30.65" height="27.36" fill="#f6be9b"/>
<rect x="1619.25" y="404.38" width="30.65" height="27.36" fill="#f6b691"/>
<rect x="1649.85" y="404.38" width="30.65" height="27.36" fill="#f6ae87"/>
<rect x="1680.45" y="404.38" width="30.65" height="27.36" fill="#f9e2d0"/>
<rect x="1711.05" y="404.38" width="30.65" height="27.36" fill="#f9dfcb"/>
<rect x="1374.45" y="431.69" width="30.65" height="27.36" fill="#f8dac5"/>
<rect x="1405.05" y="431.69" width="30.65" height="27.36" fill="#f9dfcb"/>
<rect x="1435.65" y="431.69" width="30.65" height="27.36" fill="#f9dfcb"/>
<rect x="1466.25" y="431.69" width="30.65" height="27.36" fill="#d2204c"/>
<rect x="1496.85" y="431.69" width="30.65" height="27.36" fill="#711f57"/>
<rect x="1527.45" y="431.69" width="30.65" height="27.36" fill="#eb483e"/>
<rect x="1558.05" y="431.69" width="30.65" height="27.36" fill="#f7c7a8"/>
<rect x="1588.65" y="431.69" width="30.65" height="27.36" fill="#f7c7a8"/>
<rect x="1619.25" y="431.69" width="30.65" height="27.36" fill="#f7c7a8"/>
<rect x="1649.85" y="431.69" width="30.65" height="27.36" fill="#f7c2a2"/>
<rect x="1680.45" y="431.69" width="30.65" height="27.36" fill="#f9e2d0"/>
<rect x="1711.05" y="431.69" width="30.65" height="27.36" fill="#f9dfcb"/>
<rect x="1374.45" y="459.00" width="30.65" height="27.36" fill="#f9e2d0"/>
<rect x="1405.05" y="459.00" width="30.65" height="27.36" fill="#f9e2d0"/>
<rect x="1435.65" y="459.00" width="30.65" height="27.36" fill="#f9e2d0"/>
<rect x="1466.25" y="459.00" width="30.65" height="27.36" fill="#ed4e3e"/>
<rect x="1496.85" y="459.00" width="30.65" height="27.36" fill="#eb483e"/>
<rect x="1527.45" y="459.00" width="30.65" height="27.36" fill="#f8d1b8"/>
<rect x="1558.05" y="459.00" width="30.65" height="27.36" fill="#fae6d6"/>
<rect x="1588.65" y="459.00" width="30.65" height="27.36" fill="#fae9da"/>
<rect x="1619.25" y="459.00" width="30.65" height="27.36" fill="#fae6d6"/>
<rect x="1649.85" y="459.00" width="30.65" height="27.36" fill="#f9e2d0"/>
<rect x="1680.45" y="459.00" width="30.65" height="27.36" fill="#fae6d6"/>
<rect x="1711.05" y="459.00" width="30.65" height="27.36" fill="#f9e2d0"/>
<rect x="1374.45" y="486.31" width="30.65" height="27.36" fill="#f9dfcb"/>
<rect x="1405.05" y="486.31" width="30.65" height="27.36" fill="#f9dfcb"/>
<rect x="1435.65" y="486.31" width="30.65" height="27.36" fill="#f9dfcb"/>
<rect x="1466.25" y="486.31" width="30.65" height="27.36" fill="#d82748"/>
<rect x="1496.85" y="486.31" width="30.65" height="27.36" fill="#901d5b"/>
<rect x="1527.45" y="486.31" width="30.65" height="27.36" fill="#f26747"/>
<rect x="1558.05" y="486.31" width="30.65" height="27.36" fill="#f8d1b8"/>
<rect x="1588.65" y="486.31" width="30.65" height="27.36" fill="#f8d6be"/>
<rect x="1619.25" y="486.31" width="30.65" height="27.36" fill="#f8d6be"/>
<rect x="1649.85" y="486.31" width="30.65" height="27.36" fill="#f8d6be"/>
<rect x="1680.45" y="486.31" width="30.65" height="27.36" fill="#f9e2d0"/>
<rect x="1711.05" y="486.31" width="30.65" height="27.36" fill="#f9e2d0"/>
<rect x="1374.45" y="513.62" width="30.65" height="27.36" fill="#f9dfcb"/>
<rect x="1405.05" y="513.62" width="30.65" height="27.36" fill="#f9dfcb"/>
<rect x="1435.65" y="513.62" width="30.65" height="27.36" fill="#f9dfcb"/>
<rect x="1466.25" y="513.62" width="30.65" height="27.36" fill="#d5224a"/>
<rect x="1496.85" y="513.62" width="30.65" height="27.36" fill="#6d1f56"/>
<rect x="1527.45" y="513.62" width="30.65" height="27.36" fill="#ea443e"/>
<rect x="1558.05" y="513.62" width="30.65" height="27.36" fill="#f7c7a8"/>
<rect x="1588.65" y="513.62" width="30.65" height="27.36" fill="#f7c7a8"/>
<rect x="1619.25" y="513.62" width="30.65" height="27.36" fill="#f7c2a2"/>
<rect x="1649.85" y="513.62" width="30.65" height="27.36" fill="#f7c7a8"/>
<rect x="1680.45" y="513.62" width="30.65" height="27.36" fill="#f9e2d0"/>
<rect x="1711.05" y="513.62" width="30.65" height="27.36" fill="#f9e2d0"/>
<rect x="1374.45" y="540.93" width="30.65" height="27.36" fill="#f9e2d0"/>
<rect x="1405.05" y="540.93" width="30.65" height="27.36" fill="#f9e2d0"/>
<rect x="1435.65" y="540.93" width="30.65" height="27.36" fill="#f9e2d0"/>
<rect x="1466.25" y="540.93" width="30.65" height="27.36" fill="#f05c42"/>
<rect x="1496.85" y="540.93" width="30.65" height="27.36" fill="#ea443e"/>
<rect x="1527.45" y="540.93" width="30.65" height="27.36" fill="#f7c2a2"/>
<rect x="1558.05" y="540.93" width="30.65" height="27.36" fill="#f9e2d0"/>
<rect x="1588.65" y="540.93" width="30.65" height="27.36" fill="#fae6d6"/>
<rect x="1619.25" y="540.93" width="30.65" height="27.36" fill="#fae6d6"/>
<rect x="1649.85" y="540.93" width="30.65" height="27.36" fill="#f9e2d0"/>
<rect x="1680.45" y="540.93" width="30.65" height="27.36" fill="#fae6d6"/>
<rect x="1711.05" y="540.93" width="30.65" height="27.36" fill="#f9e2d0"/>
<rect x="1374.45" y="568.24" width="30.65" height="27.36" fill="#f9e2d0"/>
<rect x="1405.05" y="568.24" width="30.65" height="27.36" fill="#f9e2d0"/>
<rect x="1435.65" y="568.24" width="30.65" height="27.36" fill="#f9e2d0"/>
<rect x="1466.25" y="568.24" width="30.65" height="27.36" fill="#f26747"/>
<rect x="1496.85" y="568.24" width="30.65" height="27.36" fill="#eb483e"/>
<rect x="1527.45" y="568.24" width="30.65" height="27.36" fill="#f7c2a2"/>
<rect x="1558.05" y="568.24" width="30.65" height="27.36" fill="#f9e2d0"/>
<rect x="1588.65" y="568.24" width="30.65" height="27.36" fill="#fae6d6"/>
<rect x="1619.25" y="568.24" width="30.65" height="27.36" fill="#fae6d6"/>
<rect x="1649.85" y="568.24" width="30.65" height="27.36" fill="#f9e2d0"/>
<rect x="1680.45" y="568.24" width="30.65" height="27.36" fill="#fae6d6"/>
<rect x="1711.05" y="568.24" width="30.65" height="27.36" fill="#f9e2d0"/>
<rect x="1374.45" y="595.55" width="30.65" height="27.36" fill="#f9e2d0"/>
<rect x="1405.05" y="595.55" width="30.65" height="27.36" fill="#f9e2d0"/>
<rect x="1435.65" y="595.55" width="30.65" height="27.36" fill="#f9e2d0"/>
<rect x="1466.25" y="595.55" width="30.65" height="27.36" fill="#f47a54"/>
<rect x="1496.85" y="595.55" width="30.65" height="27.36" fill="#f26747"/>
<rect x="1527.45" y="595.55" width="30.65" height="27.36" fill="#f7ccaf"/>
<rect x="1558.05" y="595.55" width="30.65" height="27.36" fill="#fae6d6"/>
<rect x="1588.65" y="595.55" width="30.65" height="27.36" fill="#fae9da"/>
<rect x="1619.25" y="595.55" width="30.65" height="27.36" fill="#fae6d6"/>
<rect x="1649.85" y="595.55" width="30.65" height="27.36" fill="#f9e2d0"/>
<rect x="1680.45" y="595.55" width="30.65" height="27.36" fill="#fae6d6"/>
<rect x="1711.05" y="595.55" width="30.65" height="27.36" fill="#f9e2d0"/>
<rect x="1374.45" y="622.86" width="30.65" height="27.36" fill="#f9e2d0"/>
<rect x="1405.05" y="622.86" width="30.65" height="27.36" fill="#f9e2d0"/>
<rect x="1435.65" y="622.86" width="30.65" height="27.36" fill="#f9dfcb"/>
<rect x="1466.25" y="622.86" width="30.65" height="27.36" fill="#f47d57"/>
<rect x="1496.85" y="622.86" width="30.65" height="27.36" fill="#f26747"/>
<rect x="1527.45" y="622.86" width="30.65" height="27.36" fill="#f8d1b8"/>
<rect x="1558.05" y="622.86" width="30.65" height="27.36" fill="#fae6d6"/>
<rect x="1588.65" y="622.86" width="30.65" height="27.36" fill="#fae6d6"/>
<rect x="1619.25" y="622.86" width="30.65" height="27.36" fill="#fae6d6"/>
<rect x="1649.85" y="622.86" width="30.65" height="27.36" fill="#f9dfcb"/>
<rect x="1680.45" y="622.86" width="30.65" height="27.36" fill="#fae6d6"/>
<rect x="1711.05" y="622.86" width="30.65" height="27.36" fill="#f9e2d0"/>
<rect x="1374.45" y="650.17" width="30.65" height="27.36" fill="#f9dfcb"/>
<rect x="1405.05" y="650.17" width="30.65" height="27.36" fill="#f9dfcb"/>
<rect x="1435.65" y="650.17" width="30.65" height="27.36" fill="#f8dac5"/>
<rect x="1466.25" y="650.17" width="30.65" height="27.36" fill="#f26b49"/>
<rect x="1496.85" y="650.17" width="30.65" height="27.36" fill="#ed4e3e"/>
<rect x="1527.45" y="650.17" width="30.65" height="27.36" fill="#f7ccaf"/>
<rect x="1558.05" y="650.17" width="30.65" height="27.36" fill="#fae6d6"/>
<rect x="1588.65" y="650.17" width="30.65" height="27.36" fill="#fae6d6"/>
<rect x="1619.25" y="650.17" width="30.65" height="27.36" fill="#fae6d6"/>
<rect x="1649.85" y="650.17" width="30.65" height="27.36" fill="#f9dfcb"/>
<rect x="1680.45" y="650.17" width="30.65" height="27.36" fill="#fae6d6"/>
<rect x="1711.05" y="650.17" width="30.65" height="27.36" fill="#f9dfcb"/>
<rect x="1374.45" y="677.48" width="30.65" height="27.36" fill="#f9dfcb"/>
<rect x="1405.05" y="677.48" width="30.65" height="27.36" fill="#f9dfcb"/>
<rect x="1435.65" y="677.48" width="30.65" height="27.36" fill="#f8dac5"/>
<rect x="1466.25" y="677.48" width="30.65" height="27.36" fill="#f05c42"/>
<rect x="1496.85" y="677.48" width="30.65" height="27.36" fill="#ed4e3e"/>
<rect x="1527.45" y="677.48" width="30.65" height="27.36" fill="#f7ccaf"/>
<rect x="1558.05" y="677.48" width="30.65" height="27.36" fill="#fae6d6"/>
<rect x="1588.65" y="677.48" width="30.65" height="27.36" fill="#fae6d6"/>
<rect x="1619.25" y="677.48" width="30.65" height="27.36" fill="#fae6d6"/>
<rect x="1649.85" y="677.48" width="30.65" height="27.36" fill="#f9dfcb"/>
<rect x="1680.45" y="677.48" width="30.65" height="27.36" fill="#fae6d6"/>
<rect x="1711.05" y="677.48" width="30.65" height="27.36" fill="#f9dfcb"/>
<rect x="1374.45" y="704.79" width="30.65" height="27.36" fill="#f9e2d0"/>
<rect x="1405.05" y="704.79" width="30.65" height="27.36" fill="#f9e2d0"/>
<rect x="1435.65" y="704.79" width="30.65" height="27.36" fill="#f9e2d0"/>
<rect x="1466.25" y="704.79" width="30.65" height="27.36" fill="#f05c42"/>
<rect x="1496.85" y="704.79" width="30.65" height="27.36" fill="#f47d57"/>
<rect x="1527.45" y="704.79" width="30.65" height="27.36" fill="#f9dfcb"/>
<rect x="1558.05" y="704.79" width="30.65" height="27.36" fill="#fae9da"/>
<rect x="1588.65" y="704.79" width="30.65" height="27.36" fill="#fae9da"/>
<rect x="1619.25" y="704.79" width="30.65" height="27.36" fill="#fae9da"/>
<rect x="1649.85" y="704.79" width="30.65" height="27.36" fill="#fae6d6"/>
<rect x="1680.45" y="704.79" width="30.65" height="27.36" fill="#fae6d6"/>
<rect x="1711.05" y="704.79" width="30.65" height="27.36" fill="#f9e2d0"/>
<rect x="1374.45" y="732.10" width="30.65" height="27.36" fill="#f9dfcb"/>
<rect x="1405.05" y="732.10" width="30.65" height="27.36" fill="#f9dfcb"/>
<rect x="1435.65" y="732.10" width="30.65" height="27.36" fill="#f9dfcb"/>
<rect x="1466.25" y="732.10" width="30.65" height="27.36" fill="#f05c42"/>
<rect x="1496.85" y="732.10" width="30.65" height="27.36" fill="#f58b63"/>
<rect x="1527.45" y="732.10" width="30.65" height="27.36" fill="#f9dfcb"/>
<rect x="1558.05" y="732.10" width="30.65" height="27.36" fill="#fae9da"/>
<rect x="1588.65" y="732.10" width="30.65" height="27.36" fill="#fae9da"/>
<rect x="1619.25" y="732.10" width="30.65" height="27.36" fill="#fae9da"/>
<rect x="1649.85" y="732.10" width="30.65" height="27.36" fill="#fae6d6"/>
<rect x="1680.45" y="732.10" width="30.65" height="27.36" fill="#fae6d6"/>
<rect x="1711.05" y="732.10" width="30.65" height="27.36" fill="#f9dfcb"/>
<rect x="1374.45" y="759.41" width="30.65" height="27.36" fill="#f8d6be"/>
<rect x="1405.05" y="759.41" width="30.65" height="27.36" fill="#f8dac5"/>
<rect x="1435.65" y="759.41" width="30.65" height="27.36" fill="#f8dac5"/>
<rect x="1466.25" y="759.41" width="30.65" height="27.36" fill="#eb483e"/>
<rect x="1496.85" y="759.41" width="30.65" height="27.36" fill="#f58b63"/>
<rect x="1527.45" y="759.41" width="30.65" height="27.36" fill="#f8dac5"/>
<rect x="1558.05" y="759.41" width="30.65" height="27.36" fill="#fae6d6"/>
<rect x="1588.65" y="759.41" width="30.65" height="27.36" fill="#fae6d6"/>
<rect x="1619.25" y="759.41" width="30.65" height="27.36" fill="#fae6d6"/>
<rect x="1649.85" y="759.41" width="30.65" height="27.36" fill="#fae6d6"/>
<rect x="1680.45" y="759.41" width="30.65" height="27.36" fill="#f9e2d0"/>
<rect x="1711.05" y="759.41" width="30.65" height="27.36" fill="#f8dac5"/>
<rect x="1374.45" y="786.72" width="30.65" height="27.36" fill="#fae9da"/>
<rect x="1405.05" y="786.72" width="30.65" height="27.36" fill="#fae9da"/>
<rect x="1435.65" y="786.72" width="30.65" height="27.36" fill="#fae9da"/>
<rect x="1466.25" y="786.72" width="30.65" height="27.36" fill="#fae9da"/>
<rect x="1496.85" y="786.72" width="30.65" height="27.36" fill="#fae9da"/>
<rect x="1527.45" y="786.72" width="30.65" height="27.36" fill="#fae9da"/>
<rect x="1558.05" y="786.72" width="30.65" height="27.36" fill="#fae9da"/>
<rect x="1588.65" y="786.72" width="30.65" height="27.36" fill="#fae9da"/>
<rect x="1619.25" y="786.72" width="30.65" height="27.36" fill="#fae9da"/>
<rect x="1649.85" y="786.72" width="30.65" height="27.36" fill="#fae9da"/>
<rect x="1680.45" y="786.72" width="30.65" height="27.36" fill="#fae9da"/>
<rect x="1711.05" y="786.72" width="30.65" height="27.36" fill="#fae9da"/>
<rect x="1374.45" y="814.03" width="30.65" height="27.36" fill="#fae9da"/>
<rect x="1405.05" y="814.03" width="30.65" height="27.36" fill="#fae9da"/>
<rect x="1435.65" y="814.03" width="30.65" height="27.36" fill="#fae9da"/>
<rect x="1466.25" y="814.03" width="30.65" height="27.36" fill="#fae9da"/>
<rect x="1496.85" y="814.03" width="30.65" height="27.36" fill="#fae9da"/>
<rect x="1527.45" y="814.03" width="30.65" height="27.36" fill="#fae9da"/>
<rect x="1558.05" y="814.03" width="30.65" height="27.36" fill="#fae9da"/>
<rect x="1588.65" y="814.03" width="30.65" height="27.36" fill="#fae9da"/>
<rect x="1619.25" y="814.03" width="30.65" height="27.36" fill="#fae9da"/>
<rect x="1649.85" y="814.03" width="30.65" height="27.36" fill="#fae9da"/>
<rect x="1680.45" y="814.03" width="30.65" height="27.36" fill="#fae9da"/>
<rect x="1711.05" y="814.03" width="30.65" height="27.36" fill="#fae9da"/>
<rect x="1373.80" y="48.70" width="1.3" height="793.29" fill="#fff"/>
<rect x="1404.40" y="48.70" width="1.3" height="793.29" fill="#fff"/>
<rect x="1435.00" y="48.70" width="1.3" height="793.29" fill="#fff"/>
<rect x="1465.60" y="48.70" width="1.3" height="793.29" fill="#fff"/>
<rect x="1496.20" y="48.70" width="1.3" height="793.29" fill="#fff"/>
<rect x="1526.80" y="48.70" width="1.3" height="793.29" fill="#fff"/>
<rect x="1557.40" y="48.70" width="1.3" height="793.29" fill="#fff"/>
<rect x="1588.00" y="48.70" width="1.3" height="793.29" fill="#fff"/>
<rect x="1618.60" y="48.70" width="1.3" height="793.29" fill="#fff"/>
<rect x="1649.20" y="48.70" width="1.3" height="793.29" fill="#fff"/>
<rect x="1679.80" y="48.70" width="1.3" height="793.29" fill="#fff"/>
<rect x="1710.40" y="48.70" width="1.3" height="793.29" fill="#fff"/>
<rect x="1741.00" y="48.70" width="1.3" height="793.29" fill="#fff"/>
<rect x="1373.80" y="48.70" width="368.50" height="1.3" fill="#fff"/>
<rect x="1373.80" y="76.01" width="368.50" height="1.3" fill="#fff"/>
<rect x="1373.80" y="103.32" width="368.50" height="1.3" fill="#fff"/>
<rect x="1373.80" y="130.63" width="368.50" height="1.3" fill="#fff"/>
<rect x="1373.80" y="157.94" width="368.50" height="1.3" fill="#fff"/>
<rect x="1373.80" y="185.25" width="368.50" height="1.3" fill="#fff"/>
<rect x="1373.80" y="212.56" width="368.50" height="1.3" fill="#fff"/>
<rect x="1373.80" y="239.87" width="368.50" height="1.3" fill="#fff"/>
<rect x="1373.80" y="267.18" width="368.50" height="1.3" fill="#fff"/>
<rect x="1373.80" y="294.49" width="368.50" height="1.3" fill="#fff"/>
<rect x="1373.80" y="321.80" width="368.50" height="1.3" fill="#fff"/>
<rect x="1373.80" y="349.11" width="368.50" height="1.3" fill="#fff"/>
<rect x="1373.80" y="376.42" width="368.50" height="1.3" fill="#fff"/>
<rect x="1373.80" y="403.73" width="368.50" height="1.3" fill="#fff"/>
<rect x="1373.80" y="431.04" width="368.50" height="1.3" fill="#fff"/>
<rect x="1373.80" y="458.35" width="368.50" height="1.3" fill="#fff"/>
<rect x="1373.80" y="485.66" width="368.50" height="1.3" fill="#fff"/>
<rect x="1373.80" y="512.97" width="368.50" height="1.3" fill="#fff"/>
<rect x="1373.80" y="540.28" width="368.50" height="1.3" fill="#fff"/>
<rect x="1373.80" y="567.59" width="368.50" height="1.3" fill="#fff"/>
<rect x="1373.80" y="594.90" width="368.50" height="1.3" fill="#fff"/>
<rect x="1373.80" y="622.21" width="368.50" height="1.3" fill="#fff"/>
<rect x="1373.80" y="649.52" width="368.50" height="1.3" fill="#fff"/>
<rect x="1373.80" y="676.83" width="368.50" height="1.3" fill="#fff"/>
<rect x="1373.80" y="704.14" width="368.50" height="1.3" fill="#fff"/>
<rect x="1373.80" y="731.45" width="368.50" height="1.3" fill="#fff"/>
<rect x="1373.80" y="758.76" width="368.50" height="1.3" fill="#fff"/>
<rect x="1373.80" y="786.07" width="368.50" height="1.3" fill="#fff"/>
<rect x="1373.80" y="813.38" width="368.50" height="1.3" fill="#fff"/>
<rect x="1373.80" y="840.69" width="368.50" height="1.3" fill="#fff"/>
<g clip-path="url(#c2)">
<rect x="1527.45" y="49.35" width="122.40" height="273.10" fill="none" stroke="#000" stroke-width="4.5"/>
<rect x="1374.45" y="320.85" width="367.20" height="3.2" fill="#000"/>
<rect x="1374.45" y="621.26" width="367.20" height="3.2" fill="#000"/>
<rect x="1374.45" y="785.12" width="367.20" height="3.2" fill="#000"/>
</g>
<text class="pl" transform="translate(1481.51,69.53) scale(1,1.06)">+</text>
<text class="pl" transform="translate(1512.00,69.53) scale(1,1.06)">+</text>
<text class="pl" transform="translate(1481.51,96.79) scale(1,1.06)">+</text>
<text class="pl" transform="translate(1512.00,96.79) scale(1,1.06)">+</text>
<text class="pl" transform="translate(1390.04,124.05) scale(1,1.06)">+</text>
<text class="pl" transform="translate(1420.53,124.05) scale(1,1.06)">+</text>
<text class="pl" transform="translate(1481.51,124.05) scale(1,1.06)">+</text>
<text class="pl" transform="translate(1512.00,124.05) scale(1,1.06)">+</text>
<text class="pl" transform="translate(1542.49,124.05) scale(1,1.06)">+</text>
<text class="pl" transform="translate(1603.47,124.05) scale(1,1.06)">+</text>
<text class="pl" transform="translate(1694.94,124.05) scale(1,1.06)">+</text>
<text class="pl" transform="translate(1725.43,124.05) scale(1,1.06)">+</text>
<text class="pl" transform="translate(1390.04,151.31) scale(1,1.06)">+</text>
<text class="pl" transform="translate(1481.51,151.31) scale(1,1.06)">+</text>
<text class="pl" transform="translate(1512.00,151.31) scale(1,1.06)">+</text>
<text class="pl" transform="translate(1542.49,151.31) scale(1,1.06)">+</text>
<text class="pl" transform="translate(1603.47,151.31) scale(1,1.06)">+</text>
<text class="pl" transform="translate(1481.51,178.57) scale(1,1.06)">+</text>
<text class="pl" transform="translate(1512.00,178.57) scale(1,1.06)">+</text>
<text class="pl" transform="translate(1481.51,205.83) scale(1,1.06)">+</text>
<text class="pl" transform="translate(1512.00,205.83) scale(1,1.06)">+</text>
<text class="pl" transform="translate(1481.51,233.09) scale(1,1.06)">+</text>
<text class="pl" transform="translate(1512.00,233.09) scale(1,1.06)">+</text>
<text class="pl" transform="translate(1633.96,233.09) scale(1,1.06)">+</text>
<text class="pl" transform="translate(1481.51,260.35) scale(1,1.06)">+</text>
<text class="pl" transform="translate(1512.00,260.35) scale(1,1.06)">+</text>
<text class="pl" transform="translate(1542.49,260.35) scale(1,1.06)">+</text>
<text class="pl" transform="translate(1603.47,260.35) scale(1,1.06)">+</text>
<text class="pl" transform="translate(1481.51,287.61) scale(1,1.06)">+</text>
<text class="pl" transform="translate(1512.00,287.61) scale(1,1.06)">+</text>
<text class="pl" transform="translate(1542.49,287.61) scale(1,1.06)">+</text>
<text class="pl" transform="translate(1572.98,287.61) scale(1,1.06)">+</text>
<text class="pl" transform="translate(1603.47,287.61) scale(1,1.06)">+</text>
<text class="pl" transform="translate(1633.96,287.61) scale(1,1.06)">+</text>
<text class="pl" transform="translate(1481.51,314.87) scale(1,1.06)">+</text>
<text class="pl" transform="translate(1512.00,314.87) scale(1,1.06)">+</text>
<text class="pl" transform="translate(1542.49,314.87) scale(1,1.06)">+</text>
<text class="pl" transform="translate(1572.98,314.87) scale(1,1.06)">+</text>
<text class="pl" transform="translate(1603.47,314.87) scale(1,1.06)">+</text>
<text class="pl" transform="translate(1633.96,314.87) scale(1,1.06)">+</text>
<text class="pl" transform="translate(1512.00,369.39) scale(1,1.06)">+</text>
<text class="pl" transform="translate(1542.49,369.39) scale(1,1.06)">+</text>
<text class="pl" transform="translate(1572.98,369.39) scale(1,1.06)">+</text>
<text class="pl" transform="translate(1542.49,396.65) scale(1,1.06)">+</text>
<text class="pl" transform="translate(1603.47,396.65) scale(1,1.06)">+</text>
<text class="pl" transform="translate(1633.96,396.65) scale(1,1.06)">+</text>
<text class="pl" transform="translate(1664.45,396.65) scale(1,1.06)">+</text>
<text class="pl" transform="translate(1481.51,423.91) scale(1,1.06)">+</text>
<text class="pl" transform="translate(1481.51,451.17) scale(1,1.06)">+</text>
<text class="pl" transform="translate(1481.51,532.95) scale(1,1.06)">+</text>
<text class="pl" transform="translate(1512.00,669.25) scale(1,1.06)">+</text>
<text class="pl" transform="translate(1572.98,669.25) scale(1,1.06)">+</text>
<text class="pl" transform="translate(1512.00,696.51) scale(1,1.06)">+</text>
<text class="pl" transform="translate(1572.98,696.51) scale(1,1.06)">+</text>
<rect x="1361.45" y="62.41" width="13" height="2.2" fill="#000"/>
<text class="yl" transform="translate(1353.65,67.61) scale(0.94,1)">OCS-A 0486</text>
<rect x="1361.45" y="89.72" width="13" height="2.2" fill="#000"/>
<text class="yl" transform="translate(1353.65,94.91) scale(0.94,1)">OCS-A 0517</text>
<rect x="1361.45" y="117.03" width="13" height="2.2" fill="#000"/>
<text class="yl" transform="translate(1353.65,122.22) scale(0.94,1)">OCS-A 0501</text>
<rect x="1361.45" y="144.34" width="13" height="2.2" fill="#000"/>
<text class="yl" transform="translate(1353.65,149.53) scale(0.94,1)">OCS-A 0534</text>
<rect x="1361.45" y="171.65" width="13" height="2.2" fill="#000"/>
<text class="yl" transform="translate(1353.65,176.84) scale(0.94,1)">OCS-A 0487</text>
<rect x="1361.45" y="198.95" width="13" height="2.2" fill="#000"/>
<text class="yl" transform="translate(1353.65,204.15) scale(0.94,1)">OCS-A 0500</text>
<rect x="1361.45" y="226.26" width="13" height="2.2" fill="#000"/>
<text class="yl" transform="translate(1353.65,231.46) scale(0.94,1)">OCS-A 0561</text>
<rect x="1361.45" y="253.57" width="13" height="2.2" fill="#000"/>
<text class="yl" transform="translate(1353.65,258.77) scale(0.94,1)">OCS-A 0520</text>
<rect x="1361.45" y="280.88" width="13" height="2.2" fill="#000"/>
<text class="yl" transform="translate(1353.65,286.09) scale(0.94,1)">OCS-A 0521</text>
<rect x="1361.45" y="308.19" width="13" height="2.2" fill="#000"/>
<text class="yl" transform="translate(1353.65,313.40) scale(0.94,1)">OCS-A 0522</text>
<rect x="1361.45" y="335.50" width="13" height="2.2" fill="#000"/>
<text class="yl" transform="translate(1353.65,340.71) scale(0.94,1)">OCS-A 0512</text>
<rect x="1361.45" y="362.81" width="13" height="2.2" fill="#000"/>
<text class="yl" transform="translate(1353.65,368.02) scale(0.94,1)">OCS-A 0544</text>
<rect x="1361.45" y="390.12" width="13" height="2.2" fill="#000"/>
<text class="yl" transform="translate(1353.65,395.33) scale(0.94,1)">OCS-A 0537</text>
<rect x="1361.45" y="417.44" width="13" height="2.2" fill="#000"/>
<text class="yl" transform="translate(1353.65,422.64) scale(0.94,1)">OCS-A 0538</text>
<rect x="1361.45" y="444.75" width="13" height="2.2" fill="#000"/>
<text class="yl" transform="translate(1353.65,449.95) scale(0.94,1)">OCS-A 0539</text>
<rect x="1361.45" y="472.06" width="13" height="2.2" fill="#000"/>
<text class="yl" transform="translate(1353.65,477.26) scale(0.94,1)">OCS-A 0549</text>
<rect x="1361.45" y="499.36" width="13" height="2.2" fill="#000"/>
<text class="yl" transform="translate(1353.65,504.56) scale(0.94,1)">OCS-A 0541</text>
<rect x="1361.45" y="526.67" width="13" height="2.2" fill="#000"/>
<text class="yl" transform="translate(1353.65,531.88) scale(0.94,1)">OCS-A 0542</text>
<rect x="1361.45" y="553.98" width="13" height="2.2" fill="#000"/>
<text class="yl" transform="translate(1353.65,559.18) scale(0.94,1)">OCS-A 0499</text>
<rect x="1361.45" y="581.29" width="13" height="2.2" fill="#000"/>
<text class="yl" transform="translate(1353.65,586.50) scale(0.94,1)">OCS-A 0498</text>
<rect x="1361.45" y="608.61" width="13" height="2.2" fill="#000"/>
<text class="yl" transform="translate(1353.65,613.81) scale(0.94,1)">OCS-A 0532</text>
<rect x="1361.45" y="635.91" width="13" height="2.2" fill="#000"/>
<text class="yl" transform="translate(1353.65,641.12) scale(0.94,1)">OCS-A 0482</text>
<rect x="1361.45" y="663.23" width="13" height="2.2" fill="#000"/>
<text class="yl" transform="translate(1353.65,668.43) scale(0.94,1)">OCS-A 0519</text>
<rect x="1361.45" y="690.53" width="13" height="2.2" fill="#000"/>
<text class="yl" transform="translate(1353.65,695.74) scale(0.94,1)">OCS-A 0490</text>
<rect x="1361.45" y="717.84" width="13" height="2.2" fill="#000"/>
<text class="yl" transform="translate(1353.65,723.04) scale(0.94,1)">OCS-A 0483</text>
<rect x="1361.45" y="745.15" width="13" height="2.2" fill="#000"/>
<text class="yl" transform="translate(1353.65,750.36) scale(0.94,1)">OCS-A 0559</text>
<rect x="1361.45" y="772.46" width="13" height="2.2" fill="#000"/>
<text class="yl" transform="translate(1353.65,777.66) scale(0.94,1)">OCS-A 0508</text>
<rect x="1361.45" y="799.77" width="13" height="2.2" fill="#000"/>
<text class="yl" transform="translate(1353.65,804.98) scale(0.94,1)">OCS-A 0546</text>
<rect x="1361.45" y="827.08" width="13" height="2.2" fill="#000"/>
<text class="yl" transform="translate(1353.65,832.28) scale(0.94,1)">OCS-A 0545</text>
<text class="tl" transform="translate(1389.75,43.5) scale(0.97,1)">1</text>
<text class="tl" transform="translate(1389.75,856.5) scale(0.97,1)">1</text>
<text class="tl" transform="translate(1420.35,43.5) scale(0.97,1)">2</text>
<text class="tl" transform="translate(1420.35,856.5) scale(0.97,1)">2</text>
<text class="tl" transform="translate(1450.95,43.5) scale(0.97,1)">3</text>
<text class="tl" transform="translate(1450.95,856.5) scale(0.97,1)">3</text>
<text class="tl" transform="translate(1481.55,43.5) scale(0.97,1)">4</text>
<text class="tl" transform="translate(1481.55,856.5) scale(0.97,1)">4</text>
<text class="tl" transform="translate(1512.15,43.5) scale(0.97,1)">5</text>
<text class="tl" transform="translate(1512.15,856.5) scale(0.97,1)">5</text>
<text class="tl" transform="translate(1542.75,43.5) scale(0.97,1)">6</text>
<text class="tl" transform="translate(1542.75,856.5) scale(0.97,1)">6</text>
<text class="tl" transform="translate(1573.35,43.5) scale(0.97,1)">7</text>
<text class="tl" transform="translate(1573.35,856.5) scale(0.97,1)">7</text>
<text class="tl" transform="translate(1603.95,43.5) scale(0.97,1)">8</text>
<text class="tl" transform="translate(1603.95,856.5) scale(0.97,1)">8</text>
<text class="tl" transform="translate(1634.55,43.5) scale(0.97,1)">9</text>
<text class="tl" transform="translate(1634.55,856.5) scale(0.97,1)">9</text>
<text class="tl" transform="translate(1665.15,43.5) scale(0.97,1)">10</text>
<text class="tl" transform="translate(1665.15,856.5) scale(0.97,1)">10</text>
<text class="tl" transform="translate(1695.75,43.5) scale(0.97,1)">11</text>
<text class="tl" transform="translate(1695.75,856.5) scale(0.97,1)">11</text>
<text class="tl" transform="translate(1726.35,43.5) scale(0.97,1)">12</text>
<text class="tl" transform="translate(1726.35,856.5) scale(0.97,1)">12</text>
<text class="ttl" x="1558.05" y="17.9">Common minke whale</text>
<text class="ml" transform="translate(1558.05,880.7) scale(1,1.07)">Month</text>
<rect x="1763.70" y="129.0" width="31.1" height="632.80" fill="url(#rk)"/>
<rect x="1794.80" y="681.20" width="14" height="2.2" fill="#000"/>
<text class="cl" transform="translate(1816.50,688.10) scale(0.93,1)">0.25</text>
<rect x="1794.80" y="602.90" width="14" height="2.2" fill="#000"/>
<text class="cl" transform="translate(1816.50,609.80) scale(0.93,1)">0.50</text>
<rect x="1794.80" y="524.60" width="14" height="2.2" fill="#000"/>
<text class="cl" transform="translate(1816.50,531.50) scale(0.93,1)">0.75</text>
<rect x="1794.80" y="446.30" width="14" height="2.2" fill="#000"/>
<text class="cl" transform="translate(1816.50,453.20) scale(0.93,1)">1.00</text>
<rect x="1794.80" y="368.00" width="14" height="2.2" fill="#000"/>
<text class="cl" transform="translate(1816.50,374.90) scale(0.93,1)">1.25</text>
<rect x="1794.80" y="289.70" width="14" height="2.2" fill="#000"/>
<text class="cl" transform="translate(1816.50,296.60) scale(0.93,1)">1.50</text>
<rect x="1794.80" y="211.40" width="14" height="2.2" fill="#000"/>
<text class="cl" transform="translate(1816.50,218.30) scale(0.93,1)">1.75</text>
<rect x="1794.80" y="133.10" width="14" height="2.2" fill="#000"/>
<text class="cl" transform="translate(1816.50,140.00) scale(0.93,1)">2.00</text>
</g>
<g id="panel4">
<rect x="2005.95" y="49.35" width="30.65" height="27.36" fill="#e83f3f"/>
<rect x="2036.55" y="49.35" width="30.65" height="27.36" fill="#b71657"/>
<rect x="2067.15" y="49.35" width="30.65" height="27.36" fill="#b71657"/>
<rect x="2097.75" y="49.35" width="30.65" height="27.36" fill="#d5224a"/>
<rect x="2128.35" y="49.35" width="30.65" height="27.36" fill="#f69c73"/>
<rect x="2158.95" y="49.35" width="30.65" height="27.36" fill="#f8dcc7"/>
<rect x="2189.55" y="49.35" width="30.65" height="27.36" fill="#f9e0cd"/>
<rect x="2220.15" y="49.35" width="30.65" height="27.36" fill="#f9e0cd"/>
<rect x="2250.75" y="49.35" width="30.65" height="27.36" fill="#f8dcc7"/>
<rect x="2281.35" y="49.35" width="30.65" height="27.36" fill="#f8d3ba"/>
<rect x="2311.95" y="49.35" width="30.65" height="27.36" fill="#f7caac"/>
<rect x="2342.55" y="49.35" width="30.65" height="27.36" fill="#f4865e"/>
<rect x="2005.95" y="76.66" width="30.65" height="27.36" fill="#ed4e3e"/>
<rect x="2036.55" y="76.66" width="30.65" height="27.36" fill="#c21753"/>
<rect x="2067.15" y="76.66" width="30.65" height="27.36" fill="#c21753"/>
<rect x="2097.75" y="76.66" width="30.65" height="27.36" fill="#d5224a"/>
<rect x="2128.35" y="76.66" width="30.65" height="27.36" fill="#f6a178"/>
<rect x="2158.95" y="76.66" width="30.65" height="27.36" fill="#f8dcc7"/>
<rect x="2189.55" y="76.66" width="30.65" height="27.36" fill="#f9e0cd"/>
<rect x="2220.15" y="76.66" width="30.65" height="27.36" fill="#f9e0cd"/>
<rect x="2250.75" y="76.66" width="30.65" height="27.36" fill="#f8dcc7"/>
<rect x="2281.35" y="76.66" width="30.65" height="27.36" fill="#f8d3ba"/>
<rect x="2311.95" y="76.66" width="30.65" height="27.36" fill="#f7caac"/>
<rect x="2342.55" y="76.66" width="30.65" height="27.36" fill="#f69c73"/>
<rect x="2005.95" y="103.97" width="30.65" height="27.36" fill="#821e5a"/>
<rect x="2036.55" y="103.97" width="30.65" height="27.36" fill="#4c1d4b"/>
<rect x="2067.15" y="103.97" width="30.65" height="27.36" fill="#581e4f"/>
<rect x="2097.75" y="103.97" width="30.65" height="27.36" fill="#7d1f5a"/>
<rect x="2128.35" y="103.97" width="30.65" height="27.36" fill="#e33641"/>
<rect x="2158.95" y="103.97" width="30.65" height="27.36" fill="#f8d1b8"/>
<rect x="2189.55" y="103.97" width="30.65" height="27.36" fill="#f8d7c0"/>
<rect x="2220.15" y="103.97" width="30.65" height="27.36" fill="#f8dcc7"/>
<rect x="2250.75" y="103.97" width="30.65" height="27.36" fill="#f8d7c0"/>
<rect x="2281.35" y="103.97" width="30.65" height="27.36" fill="#f7caac"/>
<rect x="2311.95" y="103.97" width="30.65" height="27.36" fill="#f6b893"/>
<rect x="2342.55" y="103.97" width="30.65" height="27.36" fill="#ea443e"/>
<rect x="2005.95" y="131.28" width="30.65" height="27.36" fill="#af1759"/>
<rect x="2036.55" y="131.28" width="30.65" height="27.36" fill="#931c5b"/>
<rect x="2067.15" y="131.28" width="30.65" height="27.36" fill="#931c5b"/>
<rect x="2097.75" y="131.28" width="30.65" height="27.36" fill="#a11a5b"/>
<rect x="2128.35" y="131.28" width="30.65" height="27.36" fill="#ef5840"/>
<rect x="2158.95" y="131.28" width="30.65" height="27.36" fill="#f8d1b8"/>
<rect x="2189.55" y="131.28" width="30.65" height="27.36" fill="#f8d7c0"/>
<rect x="2220.15" y="131.28" width="30.65" height="27.36" fill="#f8dcc7"/>
<rect x="2250.75" y="131.28" width="30.65" height="27.36" fill="#f8d7c0"/>
<rect x="2281.35" y="131.28" width="30.65" height="27.36" fill="#f7caac"/>
<rect x="2311.95" y="131.28" width="30.65" height="27.36" fill="#f6bf9d"/>
<rect x="2342.55" y="131.28" width="30.65" height="27.36" fill="#f26747"/>
<rect x="2005.95" y="158.59" width="30.65" height="27.36" fill="#f47d57"/>
<rect x="2036.55" y="158.59" width="30.65" height="27.36" fill="#ee523f"/>
<rect x="2067.15" y="158.59" width="30.65" height="27.36" fill="#ee523f"/>
<rect x="2097.75" y="158.59" width="30.65" height="27.36" fill="#ee523f"/>
<rect x="2128.35" y="158.59" width="30.65" height="27.36" fill="#f6a981"/>
<rect x="2158.95" y="158.59" width="30.65" height="27.36" fill="#f8dcc7"/>
<rect x="2189.55" y="158.59" width="30.65" height="27.36" fill="#f9e0cd"/>
<rect x="2220.15" y="158.59" width="30.65" height="27.36" fill="#f9e3d2"/>
<rect x="2250.75" y="158.59" width="30.65" height="27.36" fill="#f9e0cd"/>
<rect x="2281.35" y="158.59" width="30.65" height="27.36" fill="#f8d7c0"/>
<rect x="2311.95" y="158.59" width="30.65" height="27.36" fill="#f8d7c0"/>
<rect x="2342.55" y="158.59" width="30.65" height="27.36" fill="#f6ae87"/>
<rect x="2005.95" y="185.90" width="30.65" height="27.36" fill="#eb483e"/>
<rect x="2036.55" y="185.90" width="30.65" height="27.36" fill="#d82748"/>
<rect x="2067.15" y="185.90" width="30.65" height="27.36" fill="#db2946"/>
<rect x="2097.75" y="185.90" width="30.65" height="27.36" fill="#d82748"/>
<rect x="2128.35" y="185.90" width="30.65" height="27.36" fill="#f5946b"/>
<rect x="2158.95" y="185.90" width="30.65" height="27.36" fill="#f8dcc7"/>
<rect x="2189.55" y="185.90" width="30.65" height="27.36" fill="#f9e0cd"/>
<rect x="2220.15" y="185.90" width="30.65" height="27.36" fill="#f9e0cd"/>
<rect x="2250.75" y="185.90" width="30.65" height="27.36" fill="#f8dcc7"/>
<rect x="2281.35" y="185.90" width="30.65" height="27.36" fill="#f8d3ba"/>
<rect x="2311.95" y="185.90" width="30.65" height="27.36" fill="#f7cfb3"/>
<rect x="2342.55" y="185.90" width="30.65" height="27.36" fill="#f5946b"/>
<rect x="2005.95" y="213.21" width="30.65" height="27.36" fill="#f6a981"/>
<rect x="2036.55" y="213.21" width="30.65" height="27.36" fill="#f59970"/>
<rect x="2067.15" y="213.21" width="30.65" height="27.36" fill="#f5946b"/>
<rect x="2097.75" y="213.21" width="30.65" height="27.36" fill="#f4835b"/>
<rect x="2128.35" y="213.21" width="30.65" height="27.36" fill="#f6ae87"/>
<rect x="2158.95" y="213.21" width="30.65" height="27.36" fill="#f8dcc7"/>
<rect x="2189.55" y="213.21" width="30.65" height="27.36" fill="#f9e0cd"/>
<rect x="2220.15" y="213.21" width="30.65" height="27.36" fill="#f9e3d2"/>
<rect x="2250.75" y="213.21" width="30.65" height="27.36" fill="#f9e0cd"/>
<rect x="2281.35" y="213.21" width="30.65" height="27.36" fill="#f8d7c0"/>
<rect x="2311.95" y="213.21" width="30.65" height="27.36" fill="#f8d7c0"/>
<rect x="2342.55" y="213.21" width="30.65" height="27.36" fill="#f7c2a2"/>
<rect x="2005.95" y="240.52" width="30.65" height="27.36" fill="#ed4e3e"/>
<rect x="2036.55" y="240.52" width="30.65" height="27.36" fill="#e83f3f"/>
<rect x="2067.15" y="240.52" width="30.65" height="27.36" fill="#e83f3f"/>
<rect x="2097.75" y="240.52" width="30.65" height="27.36" fill="#e83f3f"/>
<rect x="2128.35" y="240.52" width="30.65" height="27.36" fill="#f26747"/>
<rect x="2158.95" y="240.52" width="30.65" height="27.36" fill="#f8d7c0"/>
<rect x="2189.55" y="240.52" width="30.65" height="27.36" fill="#f8dcc7"/>
<rect x="2220.15" y="240.52" width="30.65" height="27.36" fill="#f8dcc7"/>
<rect x="2250.75" y="240.52" width="30.65" height="27.36" fill="#f8d7c0"/>
<rect x="2281.35" y="240.52" width="30.65" height="27.36" fill="#f7caac"/>
<rect x="2311.95" y="240.52" width="30.65" height="27.36" fill="#f7caac"/>
<rect x="2342.55" y="240.52" width="30.65" height="27.36" fill="#f59970"/>
<rect x="2005.95" y="267.83" width="30.65" height="27.36" fill="#d5224a"/>
<rect x="2036.55" y="267.83" width="30.65" height="27.36" fill="#c21753"/>
<rect x="2067.15" y="267.83" width="30.65" height="27.36" fill="#d5224a"/>
<rect x="2097.75" y="267.83" width="30.65" height="27.36" fill="#db2946"/>
<rect x="2128.35" y="267.83" width="30.65" height="27.36" fill="#f16244"/>
<rect x="2158.95" y="267.83" width="30.65" height="27.36" fill="#f7cfb3"/>
<rect x="2189.55" y="267.83" width="30.65" height="27.36" fill="#f8d3ba"/>
<rect x="2220.15" y="267.83" width="30.65" height="27.36" fill="#f8d7c0"/>
<rect x="2250.75" y="267.83" width="30.65" height="27.36" fill="#f8d3ba"/>
<rect x="2281.35" y="267.83" width="30.65" height="27.36" fill="#f7c6a6"/>
<rect x="2311.95" y="267.83" width="30.65" height="27.36" fill="#f7c6a6"/>
<rect x="2342.55" y="267.83" width="30.65" height="27.36" fill="#f37450"/>
<rect x="2005.95" y="295.14" width="30.65" height="27.36" fill="#251433"/>
<rect x="2036.55" y="295.14" width="30.65" height="27.36" fill="#03051a"/>
<rect x="2067.15" y="295.14" width="30.65" height="27.36" fill="#2d1738"/>
<rect x="2097.75" y="295.14" width="30.65" height="27.36" fill="#541e4e"/>
<rect x="2128.35" y="295.14" width="30.65" height="27.36" fill="#a11a5b"/>
<rect x="2158.95" y="295.14" width="30.65" height="27.36" fill="#f6b893"/>
<rect x="2189.55" y="295.14" width="30.65" height="27.36" fill="#f7c6a6"/>
<rect x="2220.15" y="295.14" width="30.65" height="27.36" fill="#f7caac"/>
<rect x="2250.75" y="295.14" width="30.65" height="27.36" fill="#f7c6a6"/>
<rect x="2281.35" y="295.14" width="30.65" height="27.36" fill="#f6bb97"/>
<rect x="2311.95" y="295.14" width="30.65" height="27.36" fill="#f6ab83"/>
<rect x="2342.55" y="295.14" width="30.65" height="27.36" fill="#981b5b"/>
<rect x="2005.95" y="322.45" width="30.65" height="27.36" fill="#f8d1b8"/>
<rect x="2036.55" y="322.45" width="30.65" height="27.36" fill="#f7c7a8"/>
<rect x="2067.15" y="322.45" width="30.65" height="27.36" fill="#f7c7a8"/>
<rect x="2097.75" y="322.45" width="30.65" height="27.36" fill="#f8d1b8"/>
<rect x="2128.35" y="322.45" width="30.65" height="27.36" fill="#f9e2d0"/>
<rect x="2158.95" y="322.45" width="30.65" height="27.36" fill="#fae6d6"/>
<rect x="2189.55" y="322.45" width="30.65" height="27.36" fill="#fae6d6"/>
<rect x="2220.15" y="322.45" width="30.65" height="27.36" fill="#fae6d6"/>
<rect x="2250.75" y="322.45" width="30.65" height="27.36" fill="#fae6d6"/>
<rect x="2281.35" y="322.45" width="30.65" height="27.36" fill="#fae6d6"/>
<rect x="2311.95" y="322.45" width="30.65" height="27.36" fill="#fae6d6"/>
<rect x="2342.55" y="322.45" width="30.65" height="27.36" fill="#f8d6be"/>
<rect x="2005.95" y="349.76" width="30.65" height="27.36" fill="#f7ccaf"/>
<rect x="2036.55" y="349.76" width="30.65" height="27.36" fill="#f6be9b"/>
<rect x="2067.15" y="349.76" width="30.65" height="27.36" fill="#f6b995"/>
<rect x="2097.75" y="349.76" width="30.65" height="27.36" fill="#f7c7a8"/>
<rect x="2128.35" y="349.76" width="30.65" height="27.36" fill="#f8dac5"/>
<rect x="2158.95" y="349.76" width="30.65" height="27.36" fill="#fae6d6"/>
<rect x="2189.55" y="349.76" width="30.65" height="27.36" fill="#fae6d6"/>
<rect x="2220.15" y="349.76" width="30.65" height="27.36" fill="#fae6d6"/>
<rect x="2250.75" y="349.76" width="30.65" height="27.36" fill="#fae6d6"/>
<rect x="2281.35" y="349.76" width="30.65" height="27.36" fill="#fae6d6"/>
<rect x="2311.95" y="349.76" width="30.65" height="27.36" fill="#f9e2d0"/>
<rect x="2342.55" y="349.76" width="30.65" height="27.36" fill="#f8d6be"/>
<rect x="2005.95" y="377.07" width="30.65" height="27.36" fill="#f8dac5"/>
<rect x="2036.55" y="377.07" width="30.65" height="27.36" fill="#f7c7a8"/>
<rect x="2067.15" y="377.07" width="30.65" height="27.36" fill="#f7c7a8"/>
<rect x="2097.75" y="377.07" width="30.65" height="27.36" fill="#f6be9b"/>
<rect x="2128.35" y="377.07" width="30.65" height="27.36" fill="#f8dac5"/>
<rect x="2158.95" y="377.07" width="30.65" height="27.36" fill="#fae6d6"/>
<rect x="2189.55" y="377.07" width="30.65" height="27.36" fill="#fae6d6"/>
<rect x="2220.15" y="377.07" width="30.65" height="27.36" fill="#fae6d6"/>
<rect x="2250.75" y="377.07" width="30.65" height="27.36" fill="#fae6d6"/>
<rect x="2281.35" y="377.07" width="30.65" height="27.36" fill="#fae6d6"/>
<rect x="2311.95" y="377.07" width="30.65" height="27.36" fill="#fae6d6"/>
<rect x="2342.55" y="377.07" width="30.65" height="27.36" fill="#f9dfcb"/>
<rect x="2005.95" y="404.38" width="30.65" height="27.36" fill="#f8dac5"/>
<rect x="2036.55" y="404.38" width="30.65" height="27.36" fill="#f7ccaf"/>
<rect x="2067.15" y="404.38" width="30.65" height="27.36" fill="#f7ccaf"/>
<rect x="2097.75" y="404.38" width="30.65" height="27.36" fill="#f8d1b8"/>
<rect x="2128.35" y="404.38" width="30.65" height="27.36" fill="#f9dfcb"/>
<rect x="2158.95" y="404.38" width="30.65" height="27.36" fill="#fae6d6"/>
<rect x="2189.55" y="404.38" width="30.65" height="27.36" fill="#fae6d6"/>
<rect x="2220.15" y="404.38" width="30.65" height="27.36" fill="#fae6d6"/>
<rect x="2250.75" y="404.38" width="30.65" height="27.36" fill="#fae6d6"/>
<rect x="2281.35" y="404.38" width="30.65" height="27.36" fill="#fae6d6"/>
<rect x="2311.95" y="404.38" width="30.65" height="27.36" fill="#fae6d6"/>
<rect x="2342.55" y="404.38" width="30.65" height="27.36" fill="#f9dfcb"/>
<rect x="2005.95" y="431.69" width="30.65" height="27.36" fill="#f8d6be"/>
<rect x="2036.55" y="431.69" width="30.65" height="27.36" fill="#f7c7a8"/>
<rect x="2067.15" y="431.69" width="30.65" height="27.36" fill="#f7c2a2"/>
<rect x="2097.75" y="431.69" width="30.65" height="27.36" fill="#f7ccaf"/>
<rect x="2128.35" y="431.69" width="30.65" height="27.36" fill="#f9dfcb"/>
<rect x="2158.95" y="431.69" width="30.65" height="27.36" fill="#fae6d6"/>
<rect x="2189.55" y="431.69" width="30.65" height="27.36" fill="#fae6d6"/>
<rect x="2220.15" y="431.69" width="30.65" height="27.36" fill="#fae6d6"/>
<rect x="2250.75" y="431.69" width="30.65" height="27.36" fill="#fae6d6"/>
<rect x="2281.35" y="431.69" width="30.65" height="27.36" fill="#fae6d6"/>
<rect x="2311.95" y="431.69" width="30.65" height="27.36" fill="#fae6d6"/>
<rect x="2342.55" y="431.69" width="30.65" height="27.36" fill="#f9dfcb"/>
<rect x="2005.95" y="459.00" width="30.65" height="27.36" fill="#f8dac5"/>
<rect x="2036.55" y="459.00" width="30.65" height="27.36" fill="#f8d6be"/>
<rect x="2067.15" y="459.00" width="30.65" height="27.36" fill="#f9dfcb"/>
<rect x="2097.75" y="459.00" width="30.65" height="27.36" fill="#f8dac5"/>
<rect x="2128.35" y="459.00" width="30.65" height="27.36" fill="#fae6d6"/>
<rect x="2158.95" y="459.00" width="30.65" height="27.36" fill="#fae9da"/>
<rect x="2189.55" y="459.00" width="30.65" height="27.36" fill="#fae9da"/>
<rect x="2220.15" y="459.00" width="30.65" height="27.36" fill="#fae9da"/>
<rect x="2250.75" y="459.00" width="30.65" height="27.36" fill="#fae9da"/>
<rect x="2281.35" y="459.00" width="30.65" height="27.36" fill="#fae9da"/>
<rect x="2311.95" y="459.00" width="30.65" height="27.36" fill="#fae6d6"/>
<rect x="2342.55" y="459.00" width="30.65" height="27.36" fill="#f8dac5"/>
<rect x="2005.95" y="486.31" width="30.65" height="27.36" fill="#f8d6be"/>
<rect x="2036.55" y="486.31" width="30.65" height="27.36" fill="#f7c7a8"/>
<rect x="2067.15" y="486.31" width="30.65" height="27.36" fill="#f7c7a8"/>
<rect x="2097.75" y="486.31" width="30.65" height="27.36" fill="#f8d1b8"/>
<rect x="2128.35" y="486.31" width="30.65" height="27.36" fill="#f9dfcb"/>
<rect x="2158.95" y="486.31" width="30.65" height="27.36" fill="#fae6d6"/>
<rect x="2189.55" y="486.31" width="30.65" height="27.36" fill="#fae6d6"/>
<rect x="2220.15" y="486.31" width="30.65" height="27.36" fill="#fae6d6"/>
<rect x="2250.75" y="486.31" width="30.65" height="27.36" fill="#fae6d6"/>
<rect x="2281.35" y="486.31" width="30.65" height="27.36" fill="#fae6d6"/>
<rect x="2311.95" y="486.31" width="30.65" height="27.36" fill="#f9e2d0"/>
<rect x="2342.55" y="486.31" width="30.65" height="27.36" fill="#f8dac5"/>
<rect x="2005.95" y="513.62" width="30.65" height="27.36" fill="#f8d1b8"/>
<rect x="2036.55" y="513.62" width="30.65" height="27.36" fill="#f6be9b"/>
<rect x="2067.15" y="513.62" width="30.65" height="27.36" fill="#f6b995"/>
<rect x="2097.75" y="513.62" width="30.65" height="27.36" fill="#f7c7a8"/>
<rect x="2128.35" y="513.62" width="30.65" height="27.36" fill="#f8dac5"/>
<rect x="2158.95" y="513.62" width="30.65" height="27.36" fill="#fae6d6"/>
<rect x="2189.55" y="513.62" width="30.65" height="27.36" fill="#fae6d6"/>
<rect x="2220.15" y="513.62" width="30.65" height="27.36" fill="#fae6d6"/>
<rect x="2250.75" y="513.62" width="30.65" height="27.36" fill="#fae6d6"/>
<rect x="2281.35" y="513.62" width="30.65" height="27.36" fill="#fae6d6"/>
<rect x="2311.95" y="513.62" width="30.65" height="27.36" fill="#f9e2d0"/>
<rect x="2342.55" y="513.62" width="30.65" height="27.36" fill="#f8dac5"/>
<rect x="2005.95" y="540.93" width="30.65" height="27.36" fill="#f9dfcb"/>
<rect x="2036.55" y="540.93" width="30.65" height="27.36" fill="#f8dac5"/>
<rect x="2067.15" y="540.93" width="30.65" height="27.36" fill="#f9dfcb"/>
<rect x="2097.75" y="540.93" width="30.65" height="27.36" fill="#f8dac5"/>
<rect x="2128.35" y="540.93" width="30.65" height="27.36" fill="#fae6d6"/>
<rect x="2158.95" y="540.93" width="30.65" height="27.36" fill="#fae9da"/>
<rect x="2189.55" y="540.93" width="30.65" height="27.36" fill="#fae9da"/>
<rect x="2220.15" y="540.93" width="30.65" height="27.36" fill="#fae9da"/>
<rect x="2250.75" y="540.93" width="30.65" height="27.36" fill="#fae9da"/>
<rect x="2281.35" y="540.93" width="30.65" height="27.36" fill="#fae9da"/>
<rect x="2311.95" y="540.93" width="30.65" height="27.36" fill="#fae6d6"/>
<rect x="2342.55" y="540.93" width="30.65" height="27.36" fill="#f8dac5"/>
<rect x="2005.95" y="568.24" width="30.65" height="27.36" fill="#f9dfcb"/>
<rect x="2036.55" y="568.24" width="30.65" height="27.36" fill="#f8dac5"/>
<rect x="2067.15" y="568.24" width="30.65" height="27.36" fill="#f9dfcb"/>
<rect x="2097.75" y="568.24" width="30.65" height="27.36" fill="#f8dac5"/>
<rect x="2128.35" y="568.24" width="30.65" height="27.36" fill="#fae6d6"/>
<rect x="2158.95" y="568.24" width="30.65" height="27.36" fill="#fae9da"/>
<rect x="2189.55" y="568.24" width="30.65" height="27.36" fill="#fae9da"/>
<rect x="2220.15" y="568.24" width="30.65" height="27.36" fill="#fae9da"/>
<rect x="2250.75" y="568.24" width="30.65" height="27.36" fill="#fae9da"/>
<rect x="2281.35" y="568.24" width="30.65" height="27.36" fill="#fae9da"/>
<rect x="2311.95" y="568.24" width="30.65" height="27.36" fill="#fae6d6"/>
<rect x="2342.55" y="568.24" width="30.65" height="27.36" fill="#f8dac5"/>
<rect x="2005.95" y="595.55" width="30.65" height="27.36" fill="#f7ccaf"/>
<rect x="2036.55" y="595.55" width="30.65" height="27.36" fill="#f8d1b8"/>
<rect x="2067.15" y="595.55" width="30.65" height="27.36" fill="#f8d6be"/>
<rect x="2097.75" y="595.55" width="30.65" height="27.36" fill="#f8dac5"/>
<rect x="2128.35" y="595.55" width="30.65" height="27.36" fill="#fae6d6"/>
<rect x="2158.95" y="595.55" width="30.65" height="27.36" fill="#fae9da"/>
<rect x="2189.55" y="595.55" width="30.65" height="27.36" fill="#fae9da"/>
<rect x="2220.15" y="595.55" width="30.65" height="27.36" fill="#fae9da"/>
<rect x="2250.75" y="595.55" width="30.65" height="27.36" fill="#fae9da"/>
<rect x="2281.35" y="595.55" width="30.65" height="27.36" fill="#fae9da"/>
<rect x="2311.95" y="595.55" width="30.65" height="27.36" fill="#fae6d6"/>
<rect x="2342.55" y="595.55" width="30.65" height="27.36" fill="#f8d6be"/>
<rect x="2005.95" y="622.86" width="30.65" height="27.36" fill="#f7c2a2"/>
<rect x="2036.55" y="622.86" width="30.65" height="27.36" fill="#f7ccaf"/>
<rect x="2067.15" y="622.86" width="30.65" height="27.36" fill="#f8dac5"/>
<rect x="2097.75" y="622.86" width="30.65" height="27.36" fill="#f9dfcb"/>
<rect x="2128.35" y="622.86" width="30.65" height="27.36" fill="#fae6d6"/>
<rect x="2158.95" y="622.86" width="30.65" height="27.36" fill="#fae9da"/>
<rect x="2189.55" y="622.86" width="30.65" height="27.36" fill="#fae9da"/>
<rect x="2220.15" y="622.86" width="30.65" height="27.36" fill="#fae9da"/>
<rect x="2250.75" y="622.86" width="30.65" height="27.36" fill="#fae9da"/>
<rect x="2281.35" y="622.86" width="30.65" height="27.36" fill="#fae9da"/>
<rect x="2311.95" y="622.86" width="30.65" height="27.36" fill="#fae6d6"/>
<rect x="2342.55" y="622.86" width="30.65" height="27.36" fill="#f8d6be"/>
<rect x="2005.95" y="650.17" width="30.65" height="27.36" fill="#f8d6be"/>
<rect x="2036.55" y="650.17" width="30.65" height="27.36" fill="#f8d6be"/>
<rect x="2067.15" y="650.17" width="30.65" height="27.36" fill="#f8dac5"/>
<rect x="2097.75" y="650.17" width="30.65" height="27.36" fill="#f9dfcb"/>
<rect x="2128.35" y="650.17" width="30.65" height="27.36" fill="#fae9da"/>
<rect x="2158.95" y="650.17" width="30.65" height="27.36" fill="#fae9da"/>
<rect x="2189.55" y="650.17" width="30.65" height="27.36" fill="#fae9da"/>
<rect x="2220.15" y="650.17" width="30.65" height="27.36" fill="#fae9da"/>
<rect x="2250.75" y="650.17" width="30.65" height="27.36" fill="#fae9da"/>
<rect x="2281.35" y="650.17" width="30.65" height="27.36" fill="#fae9da"/>
<rect x="2311.95" y="650.17" width="30.65" height="27.36" fill="#fae9da"/>
<rect x="2342.55" y="650.17" width="30.65" height="27.36" fill="#f9dfcb"/>
<rect x="2005.95" y="677.48" width="30.65" height="27.36" fill="#f8d1b8"/>
<rect x="2036.55" y="677.48" width="30.65" height="27.36" fill="#f8d6be"/>
<rect x="2067.15" y="677.48" width="30.65" height="27.36" fill="#f8dac5"/>
<rect x="2097.75" y="677.48" width="30.65" height="27.36" fill="#f9dfcb"/>
<rect x="2128.35" y="677.48" width="30.65" height="27.36" fill="#fae9da"/>
<rect x="2158.95" y="677.48" width="30.65" height="27.36" fill="#fae9da"/>
<rect x="2189.55" y="677.48" width="30.65" height="27.36" fill="#fae9da"/>
<rect x="2220.15" y="677.48" width="30.65" height="27.36" fill="#fae9da"/>
<rect x="2250.75" y="677.48" width="30.65" height="27.36" fill="#fae9da"/>
<rect x="2281.35" y="677.48" width="30.65" height="27.36" fill="#fae9da"/>
<rect x="2311.95" y="677.48" width="30.65" height="27.36" fill="#fae9da"/>
<rect x="2342.55" y="677.48" width="30.65" height="27.36" fill="#f9dfcb"/>
<rect x="2005.95" y="704.79" width="30.65" height="27.36" fill="#f7c2a2"/>
<rect x="2036.55" y="704.79" width="30.65" height="27.36" fill="#f6be9b"/>
<rect x="2067.15" y="704.79" width="30.65" height="27.36" fill="#f6be9b"/>
<rect x="2097.75" y="704.79" width="30.65" height="27.36" fill="#f8d6be"/>
<rect x="2128.35" y="704.79" width="30.65" height="27.36" fill="#fae9da"/>
<rect x="2158.95" y="704.79" width="30.65" height="27.36" fill="#fae9da"/>
<rect x="2189.55" y="704.79" width="30.65" height="27.36" fill="#fae9da"/>
<rect x="2220.15" y="704.79" width="30.65" height="27.36" fill="#fae9da"/>
<rect x="2250.75" y="704.79" width="30.65" height="27.36" fill="#fae9da"/>
<rect x="2281.35" y="704.79" width="30.65" height="27.36" fill="#fae9da"/>
<rect x="2311.95" y="704.79" width="30.65" height="27.36" fill="#fae6d6"/>
<rect x="2342.55" y="704.79" width="30.65" height="27.36" fill="#f8d6be"/>
<rect x="2005.95" y="732.10" width="30.65" height="27.36" fill="#f9dfcb"/>
<rect x="2036.55" y="732.10" width="30.65" height="27.36" fill="#f9dfcb"/>
<rect x="2067.15" y="732.10" width="30.65" height="27.36" fill="#f9e2d0"/>
<rect x="2097.75" y="732.10" width="30.65" height="27.36" fill="#fae6d6"/>
<rect x="2128.35" y="732.10" width="30.65" height="27.36" fill="#fae9da"/>
<rect x="2158.95" y="732.10" width="30.65" height="27.36" fill="#fae9da"/>
<rect x="2189.55" y="732.10" width="30.65" height="27.36" fill="#fae9da"/>
<rect x="2220.15" y="732.10" width="30.65" height="27.36" fill="#fae9da"/>
<rect x="2250.75" y="732.10" width="30.65" height="27.36" fill="#fae9da"/>
<rect x="2281.35" y="732.10" width="30.65" height="27.36" fill="#fae9da"/>
<rect x="2311.95" y="732.10" width="30.65" height="27.36" fill="#fae9da"/>
<rect x="2342.55" y="732.10" width="30.65" height="27.36" fill="#fae6d6"/>
<rect x="2005.95" y="759.41" width="30.65" height="27.36" fill="#fae6d6"/>
<rect x="2036.55" y="759.41" width="30.65" height="27.36" fill="#f9e2d0"/>
<rect x="2067.15" y="759.41" width="30.65" height="27.36" fill="#fae6d6"/>
<rect x="2097.75" y="759.41" width="30.65" height="27.36" fill="#fae6d6"/>
<rect x="2128.35" y="759.41" width="30.65" height="27.36" fill="#fae9da"/>
<rect x="2158.95" y="759.41" width="30.65" height="27.36" fill="#fae9da"/>
<rect x="2189.55" y="759.41" width="30.65" height="27.36" fill="#fae9da"/>
<rect x="2220.15" y="759.41" width="30.65" height="27.36" fill="#fae9da"/>
<rect x="2250.75" y="759.41" width="30.65" height="27.36" fill="#fae9da"/>
<rect x="2281.35" y="759.41" width="30.65" height="27.36" fill="#fae9da"/>
<rect x="2311.95" y="759.41" width="30.65" height="27.36" fill="#fae9da"/>
<rect x="2342.55" y="759.41" width="30.65" height="27.36" fill="#fae9da"/>
<rect x="2005.95" y="786.72" width="30.65" height="27.36" fill="#fae9da"/>
<rect x="2036.55" y="786.72" width="30.65" height="27.36" fill="#fae9da"/>
<rect x="2067.15" y="786.72" width="30.65" height="27.36" fill="#fae9da"/>
<rect x="2097.75" y="786.72" width="30.65" height="27.36" fill="#fae9da"/>
<rect x="2128.35" y="786.72" width="30.65" height="27.36" fill="#faebdd"/>
<rect x="2158.95" y="786.72" width="30.65" height="27.36" fill="#faebdd"/>
<rect x="2189.55" y="786.72" width="30.65" height="27.36" fill="#faebdd"/>
<rect x="2220.15" y="786.72" width="30.65" height="27.36" fill="#faebdd"/>
<rect x="2250.75" y="786.72" width="30.65" height="27.36" fill="#faebdd"/>
<rect x="2281.35" y="786.72" width="30.65" height="27.36" fill="#faebdd"/>
<rect x="2311.95" y="786.72" width="30.65" height="27.36" fill="#faebdd"/>
<rect x="2342.55" y="786.72" width="30.65" height="27.36" fill="#fae9da"/>
<rect x="2005.95" y="814.03" width="30.65" height="27.36" fill="#fae6d6"/>
<rect x="2036.55" y="814.03" width="30.65" height="27.36" fill="#fae6d6"/>
<rect x="2067.15" y="814.03" width="30.65" height="27.36" fill="#fae6d6"/>
<rect x="2097.75" y="814.03" width="30.65" height="27.36" fill="#fae9da"/>
<rect x="2128.35" y="814.03" width="30.65" height="27.36" fill="#faebdd"/>
<rect x="2158.95" y="814.03" width="30.65" height="27.36" fill="#faebdd"/>
<rect x="2189.55" y="814.03" width="30.65" height="27.36" fill="#faebdd"/>
<rect x="2220.15" y="814.03" width="30.65" height="27.36" fill="#faebdd"/>
<rect x="2250.75" y="814.03" width="30.65" height="27.36" fill="#faebdd"/>
<rect x="2281.35" y="814.03" width="30.65" height="27.36" fill="#faebdd"/>
<rect x="2311.95" y="814.03" width="30.65" height="27.36" fill="#faebdd"/>
<rect x="2342.55" y="814.03" width="30.65" height="27.36" fill="#fae9da"/>
<rect x="2005.30" y="48.70" width="1.3" height="793.29" fill="#fff"/>
<rect x="2035.90" y="48.70" width="1.3" height="793.29" fill="#fff"/>
<rect x="2066.50" y="48.70" width="1.3" height="793.29" fill="#fff"/>
<rect x="2097.10" y="48.70" width="1.3" height="793.29" fill="#fff"/>
<rect x="2127.70" y="48.70" width="1.3" height="793.29" fill="#fff"/>
<rect x="2158.30" y="48.70" width="1.3" height="793.29" fill="#fff"/>
<rect x="2188.90" y="48.70" width="1.3" height="793.29" fill="#fff"/>
<rect x="2219.50" y="48.70" width="1.3" height="793.29" fill="#fff"/>
<rect x="2250.10" y="48.70" width="1.3" height="793.29" fill="#fff"/>
<rect x="2280.70" y="48.70" width="1.3" height="793.29" fill="#fff"/>
<rect x="2311.30" y="48.70" width="1.3" height="793.29" fill="#fff"/>
<rect x="2341.90" y="48.70" width="1.3" height="793.29" fill="#fff"/>
<rect x="2372.50" y="48.70" width="1.3" height="793.29" fill="#fff"/>
<rect x="2005.30" y="48.70" width="368.50" height="1.3" fill="#fff"/>
<rect x="2005.30" y="76.01" width="368.50" height="1.3" fill="#fff"/>
<rect x="2005.30" y="103.32" width="368.50" height="1.3" fill="#fff"/>
<rect x="2005.30" y="130.63" width="368.50" height="1.3" fill="#fff"/>
<rect x="2005.30" y="157.94" width="368.50" height="1.3" fill="#fff"/>
<rect x="2005.30" y="185.25" width="368.50" height="1.3" fill="#fff"/>
<rect x="2005.30" y="212.56" width="368.50" height="1.3" fill="#fff"/>
<rect x="2005.30" y="239.87" width="368.50" height="1.3" fill="#fff"/>
<rect x="2005.30" y="267.18" width="368.50" height="1.3" fill="#fff"/>
<rect x="2005.30" y="294.49" width="368.50" height="1.3" fill="#fff"/>
<rect x="2005.30" y="321.80" width="368.50" height="1.3" fill="#fff"/>
<rect x="2005.30" y="349.11" width="368.50" height="1.3" fill="#fff"/>
<rect x="2005.30" y="376.42" width="368.50" height="1.3" fill="#fff"/>
<rect x="2005.30" y="403.73" width="368.50" height="1.3" fill="#fff"/>
<rect x="2005.30" y="431.04" width="368.50" height="1.3" fill="#fff"/>
<rect x="2005.30" y="458.35" width="368.50" height="1.3" fill="#fff"/>
<rect x="2005.30" y="485.66" width="368.50" height="1.3" fill="#fff"/>
<rect x="2005.30" y="512.97" width="368.50" height="1.3" fill="#fff"/>
<rect x="2005.30" y="540.28" width="368.50" height="1.3" fill="#fff"/>
<rect x="2005.30" y="567.59" width="368.50" height="1.3" fill="#fff"/>
<rect x="2005.30" y="594.90" width="368.50" height="1.3" fill="#fff"/>
<rect x="2005.30" y="622.21" width="368.50" height="1.3" fill="#fff"/>
<rect x="2005.30" y="649.52" width="368.50" height="1.3" fill="#fff"/>
<rect x="2005.30" y="676.83" width="368.50" height="1.3" fill="#fff"/>
<rect x="2005.30" y="704.14" width="368.50" height="1.3" fill="#fff"/>
<rect x="2005.30" y="731.45" width="368.50" height="1.3" fill="#fff"/>
<rect x="2005.30" y="758.76" width="368.50" height="1.3" fill="#fff"/>
<rect x="2005.30" y="786.07" width="368.50" height="1.3" fill="#fff"/>
<rect x="2005.30" y="813.38" width="368.50" height="1.3" fill="#fff"/>
<rect x="2005.30" y="840.69" width="368.50" height="1.3" fill="#fff"/>
<g clip-path="url(#c3)">
<rect x="2158.95" y="49.35" width="122.40" height="273.10" fill="none" stroke="#000" stroke-width="4.5"/>
<rect x="2005.95" y="320.85" width="367.20" height="3.2" fill="#000"/>
<rect x="2005.95" y="621.26" width="367.20" height="3.2" fill="#000"/>
<rect x="2005.95" y="785.12" width="367.20" height="3.2" fill="#000"/>
</g>
<text class="pl" transform="translate(2021.54,69.53) scale(1,1.06)">+</text>
<text class="pl" transform="translate(2052.03,69.53) scale(1,1.06)">+</text>
<text class="pl" transform="translate(2082.52,69.53) scale(1,1.06)">+</text>
<text class="pl" transform="translate(2113.01,69.53) scale(1,1.06)">+</text>
<text class="pl" transform="translate(2295.95,69.53) scale(1,1.06)">+</text>
<text class="pl" transform="translate(2326.44,69.53) scale(1,1.06)">+</text>
<text class="pl" transform="translate(2356.93,69.53) scale(1,1.06)">+</text>
<text class="pl" transform="translate(2021.54,96.79) scale(1,1.06)">+</text>
<text class="pl" transform="translate(2052.03,96.79) scale(1,1.06)">+</text>
<text class="pl" transform="translate(2082.52,96.79) scale(1,1.06)">+</text>
<text class="pl" transform="translate(2113.01,96.79) scale(1,1.06)">+</text>
<text class="pl" transform="translate(2295.95,96.79) scale(1,1.06)">+</text>
<text class="pl" transform="translate(2326.44,96.79) scale(1,1.06)">+</text>
<text class="pl" transform="translate(2356.93,96.79) scale(1,1.06)">+</text>
<text class="pl" transform="translate(2021.54,124.05) scale(1,1.06)">+</text>
<text class="pl" transform="translate(2052.03,124.05) scale(1,1.06)">+</text>
<text class="pl" transform="translate(2082.52,124.05) scale(1,1.06)">+</text>
<text class="pl" transform="translate(2113.01,124.05) scale(1,1.06)">+</text>
<text class="pl" transform="translate(2143.50,124.05) scale(1,1.06)">+</text>
<text class="pl" transform="translate(2173.99,124.05) scale(1,1.06)">+</text>
<text class="pl" transform="translate(2204.48,124.05) scale(1,1.06)">+</text>
<text class="pl" transform="translate(2234.97,124.05) scale(1,1.06)">+</text>
<text class="pl" transform="translate(2265.46,124.05) scale(1,1.06)">+</text>
<text class="pl" transform="translate(2295.95,124.05) scale(1,1.06)">+</text>
<text class="pl" transform="translate(2326.44,124.05) scale(1,1.06)">+</text>
<text class="pl" transform="translate(2356.93,124.05) scale(1,1.06)">+</text>
<text class="pl" transform="translate(2021.54,151.31) scale(1,1.06)">+</text>
<text class="pl" transform="translate(2052.03,151.31) scale(1,1.06)">+</text>
<text class="pl" transform="translate(2082.52,151.31) scale(1,1.06)">+</text>
<text class="pl" transform="translate(2113.01,151.31) scale(1,1.06)">+</text>
<text class="pl" transform="translate(2143.50,151.31) scale(1,1.06)">+</text>
<text class="pl" transform="translate(2173.99,151.31) scale(1,1.06)">+</text>
<text class="pl" transform="translate(2204.48,151.31) scale(1,1.06)">+</text>
<text class="pl" transform="translate(2234.97,151.31) scale(1,1.06)">+</text>
<text class="pl" transform="translate(2265.46,151.31) scale(1,1.06)">+</text>
<text class="pl" transform="translate(2295.95,151.31) scale(1,1.06)">+</text>
<text class="pl" transform="translate(2326.44,151.31) scale(1,1.06)">+</text>
<text class="pl" transform="translate(2356.93,151.31) scale(1,1.06)">+</text>
<text class="pl" transform="translate(2021.54,178.57) scale(1,1.06)">+</text>
<text class="pl" transform="translate(2052.03,178.57) scale(1,1.06)">+</text>
<text class="pl" transform="translate(2082.52,178.57) scale(1,1.06)">+</text>
<text class="pl" transform="translate(2356.93,178.57) scale(1,1.06)">+</text>
<text class="pl" transform="translate(2021.54,205.83) scale(1,1.06)">+</text>
<text class="pl" transform="translate(2052.03,205.83) scale(1,1.06)">+</text>
<text class="pl" transform="translate(2082.52,205.83) scale(1,1.06)">+</text>
<text class="pl" transform="translate(2113.01,205.83) scale(1,1.06)">+</text>
<text class="pl" transform="translate(2143.50,205.83) scale(1,1.06)">+</text>
<text class="pl" transform="translate(2295.95,205.83) scale(1,1.06)">+</text>
<text class="pl" transform="translate(2326.44,205.83) scale(1,1.06)">+</text>
<text class="pl" transform="translate(2356.93,205.83) scale(1,1.06)">+</text>
<text class="pl" transform="translate(2021.54,260.35) scale(1,1.06)">+</text>
<text class="pl" transform="translate(2052.03,260.35) scale(1,1.06)">+</text>
<text class="pl" transform="translate(2082.52,260.35) scale(1,1.06)">+</text>
<text class="pl" transform="translate(2113.01,260.35) scale(1,1.06)">+</text>
<text class="pl" transform="translate(2143.50,260.35) scale(1,1.06)">+</text>
<text class="pl" transform="translate(2204.48,260.35) scale(1,1.06)">+</text>
<text class="pl" transform="translate(2265.46,260.35) scale(1,1.06)">+</text>
<text class="pl" transform="translate(2295.95,260.35) scale(1,1.06)">+</text>
<text class="pl" transform="translate(2326.44,260.35) scale(1,1.06)">+</text>
<text class="pl" transform="translate(2356.93,260.35) scale(1,1.06)">+</text>
<text class="pl" transform="translate(2021.54,287.61) scale(1,1.06)">+</text>
<text class="pl" transform="translate(2052.03,287.61) scale(1,1.06)">+</text>
<text class="pl" transform="translate(2082.52,287.61) scale(1,1.06)">+</text>
<text class="pl" transform="translate(2113.01,287.61) scale(1,1.06)">+</text>
<text class="pl" transform="translate(2143.50,287.61) scale(1,1.06)">+</text>
<text class="pl" transform="translate(2173.99,287.61) scale(1,1.06)">+</text>
<text class="pl" transform="translate(2204.48,287.61) scale(1,1.06)">+</text>
<text class="pl" transform="translate(2234.97,287.61) scale(1,1.06)">+</text>
<text class="pl" transform="translate(2265.46,287.61) scale(1,1.06)">+</text>
<text class="pl" transform="translate(2295.95,287.61) scale(1,1.06)">+</text>
<text class="pl" transform="translate(2326.44,287.61) scale(1,1.06)">+</text>
<text class="pl" transform="translate(2356.93,287.61) scale(1,1.06)">+</text>
<text class="pl" transform="translate(2021.54,314.87) scale(1,1.06)">+</text>
<text class="pl" transform="translate(2052.03,314.87) scale(1,1.06)">+</text>
<text class="pl" transform="translate(2082.52,314.87) scale(1,1.06)">+</text>
<text class="pl" transform="translate(2113.01,314.87) scale(1,1.06)">+</text>
<text class="pl" transform="translate(2143.50,314.87) scale(1,1.06)">+</text>
<text class="pl" transform="translate(2173.99,314.87) scale(1,1.06)">+</text>
<text class="pl" transform="translate(2204.48,314.87) scale(1,1.06)">+</text>
<text class="pl" transform="translate(2234.97,314.87) scale(1,1.06)">+</text>
<text class="pl" transform="translate(2265.46,314.87) scale(1,1.06)">+</text>
<text class="pl" transform="translate(2295.95,314.87) scale(1,1.06)">+</text>
<text class="pl" transform="translate(2326.44,314.87) scale(1,1.06)">+</text>
<text class="pl" transform="translate(2356.93,314.87) scale(1,1.06)">+</text>
<text class="pl" transform="translate(2356.93,342.13) scale(1,1.06)">+</text>
<text class="pl" transform="translate(2021.54,369.39) scale(1,1.06)">+</text>
<text class="pl" transform="translate(2052.03,369.39) scale(1,1.06)">+</text>
<text class="pl" transform="translate(2356.93,369.39) scale(1,1.06)">+</text>
<text class="pl" transform="translate(2021.54,532.95) scale(1,1.06)">+</text>
<text class="pl" transform="translate(2021.54,641.99) scale(1,1.06)">+</text>
<text class="pl" transform="translate(2052.03,641.99) scale(1,1.06)">+</text>
<text class="pl" transform="translate(2326.44,641.99) scale(1,1.06)">+</text>
<text class="pl" transform="translate(2356.93,641.99) scale(1,1.06)">+</text>
<text class="pl" transform="translate(2021.54,696.51) scale(1,1.06)">+</text>
<text class="pl" transform="translate(2356.93,696.51) scale(1,1.06)">+</text>
<text class="pl" transform="translate(2021.54,723.77) scale(1,1.06)">+</text>
<text class="pl" transform="translate(2052.03,723.77) scale(1,1.06)">+</text>
<text class="pl" transform="translate(2082.52,723.77) scale(1,1.06)">+</text>
<text class="pl" transform="translate(2113.01,723.77) scale(1,1.06)">+</text>
<text class="pl" transform="translate(2234.97,723.77) scale(1,1.06)">+</text>
<text class="pl" transform="translate(2326.44,723.77) scale(1,1.06)">+</text>
<text class="pl" transform="translate(2356.93,723.77) scale(1,1.06)">+</text>
<text class="pl" transform="translate(2021.54,805.55) scale(1,1.06)">+</text>
<text class="pl" transform="translate(2082.52,805.55) scale(1,1.06)">+</text>
<text class="pl" transform="translate(2356.93,805.55) scale(1,1.06)">+</text>
<text class="pl" transform="translate(2021.54,832.81) scale(1,1.06)">+</text>
<text class="pl" transform="translate(2052.03,832.81) scale(1,1.06)">+</text>
<text class="pl" transform="translate(2082.52,832.81) scale(1,1.06)">+</text>
<text class="pl" transform="translate(2113.01,832.81) scale(1,1.06)">+</text>
<text class="pl" transform="translate(2356.93,832.81) scale(1,1.06)">+</text>
<rect x="1992.95" y="62.41" width="13" height="2.2" fill="#000"/>
<text class="yl" transform="translate(1985.15,67.61) scale(0.94,1)">OCS-A 0486</text>
<rect x="1992.95" y="89.72" width="13" height="2.2" fill="#000"/>
<text class="yl" transform="translate(1985.15,94.91) scale(0.94,1)">OCS-A 0517</text>
<rect x="1992.95" y="117.03" width="13" height="2.2" fill="#000"/>
<text class="yl" transform="translate(1985.15,122.22) scale(0.94,1)">OCS-A 0501</text>
<rect x="1992.95" y="144.34" width="13" height="2.2" fill="#000"/>
<text class="yl" transform="translate(1985.15,149.53) scale(0.94,1)">OCS-A 0534</text>
<rect x="1992.95" y="171.65" width="13" height="2.2" fill="#000"/>
<text class="yl" transform="translate(1985.15,176.84) scale(0.94,1)">OCS-A 0487</text>
<rect x="1992.95" y="198.95" width="13" height="2.2" fill="#000"/>
<text class="yl" transform="translate(1985.15,204.15) scale(0.94,1)">OCS-A 0500</text>
<rect x="1992.95" y="226.26" width="13" height="2.2" fill="#000"/>
<text class="yl" transform="translate(1985.15,231.46) scale(0.94,1)">OCS-A 0561</text>
<rect x="1992.95" y="253.57" width="13" height="2.2" fill="#000"/>
<text class="yl" transform="translate(1985.15,258.77) scale(0.94,1)">OCS-A 0520</text>
<rect x="1992.95" y="280.88" width="13" height="2.2" fill="#000"/>
<text class="yl" transform="translate(1985.15,286.09) scale(0.94,1)">OCS-A 0521</text>
<rect x="1992.95" y="308.19" width="13" height="2.2" fill="#000"/>
<text class="yl" transform="translate(1985.15,313.40) scale(0.94,1)">OCS-A 0522</text>
<rect x="1992.95" y="335.50" width="13" height="2.2" fill="#000"/>
<text class="yl" transform="translate(1985.15,340.71) scale(0.94,1)">OCS-A 0512</text>
<rect x="1992.95" y="362.81" width="13" height="2.2" fill="#000"/>
<text class="yl" transform="translate(1985.15,368.02) scale(0.94,1)">OCS-A 0544</text>
<rect x="1992.95" y="390.12" width="13" height="2.2" fill="#000"/>
<text class="yl" transform="translate(1985.15,395.33) scale(0.94,1)">OCS-A 0537</text>
<rect x="1992.95" y="417.44" width="13" height="2.2" fill="#000"/>
<text class="yl" transform="translate(1985.15,422.64) scale(0.94,1)">OCS-A 0538</text>
<rect x="1992.95" y="444.75" width="13" height="2.2" fill="#000"/>
<text class="yl" transform="translate(1985.15,449.95) scale(0.94,1)">OCS-A 0539</text>
<rect x="1992.95" y="472.06" width="13" height="2.2" fill="#000"/>
<text class="yl" transform="translate(1985.15,477.26) scale(0.94,1)">OCS-A 0549</text>
<rect x="1992.95" y="499.36" width="13" height="2.2" fill="#000"/>
<text class="yl" transform="translate(1985.15,504.56) scale(0.94,1)">OCS-A 0541</text>
<rect x="1992.95" y="526.67" width="13" height="2.2" fill="#000"/>
<text class="yl" transform="translate(1985.15,531.88) scale(0.94,1)">OCS-A 0542</text>
<rect x="1992.95" y="553.98" width="13" height="2.2" fill="#000"/>
<text class="yl" transform="translate(1985.15,559.18) scale(0.94,1)">OCS-A 0499</text>
<rect x="1992.95" y="581.29" width="13" height="2.2" fill="#000"/>
<text class="yl" transform="translate(1985.15,586.50) scale(0.94,1)">OCS-A 0498</text>
<rect x="1992.95" y="608.61" width="13" height="2.2" fill="#000"/>
<text class="yl" transform="translate(1985.15,613.81) scale(0.94,1)">OCS-A 0532</text>
<rect x="1992.95" y="635.91" width="13" height="2.2" fill="#000"/>
<text class="yl" transform="translate(1985.15,641.12) scale(0.94,1)">OCS-A 0482</text>
<rect x="1992.95" y="663.23" width="13" height="2.2" fill="#000"/>
<text class="yl" transform="translate(1985.15,668.43) scale(0.94,1)">OCS-A 0519</text>
<rect x="1992.95" y="690.53" width="13" height="2.2" fill="#000"/>
<text class="yl" transform="translate(1985.15,695.74) scale(0.94,1)">OCS-A 0490</text>
<rect x="1992.95" y="717.84" width="13" height="2.2" fill="#000"/>
<text class="yl" transform="translate(1985.15,723.04) scale(0.94,1)">OCS-A 0483</text>
<rect x="1992.95" y="745.15" width="13" height="2.2" fill="#000"/>
<text class="yl" transform="translate(1985.15,750.36) scale(0.94,1)">OCS-A 0559</text>
<rect x="1992.95" y="772.46" width="13" height="2.2" fill="#000"/>
<text class="yl" transform="translate(1985.15,777.66) scale(0.94,1)">OCS-A 0508</text>
<rect x="1992.95" y="799.77" width="13" height="2.2" fill="#000"/>
<text class="yl" transform="translate(1985.15,804.98) scale(0.94,1)">OCS-A 0546</text>
<rect x="1992.95" y="827.08" width="13" height="2.2" fill="#000"/>
<text class="yl" transform="translate(1985.15,832.28) scale(0.94,1)">OCS-A 0545</text>
<text class="tl" transform="translate(2021.25,43.5) scale(0.97,1)">1</text>
<text class="tl" transform="translate(2021.25,856.5) scale(0.97,1)">1</text>
<text class="tl" transform="translate(2051.85,43.5) scale(0.97,1)">2</text>
<text class="tl" transform="translate(2051.85,856.5) scale(0.97,1)">2</text>
<text class="tl" transform="translate(2082.45,43.5) scale(0.97,1)">3</text>
<text class="tl" transform="translate(2082.45,856.5) scale(0.97,1)">3</text>
<text class="tl" transform="translate(2113.05,43.5) scale(0.97,1)">4</text>
<text class="tl" transform="translate(2113.05,856.5) scale(0.97,1)">4</text>
<text class="tl" transform="translate(2143.65,43.5) scale(0.97,1)">5</text>
<text class="tl" transform="translate(2143.65,856.5) scale(0.97,1)">5</text>
<text class="tl" transform="translate(2174.25,43.5) scale(0.97,1)">6</text>
<text class="tl" transform="translate(2174.25,856.5) scale(0.97,1)">6</text>
<text class="tl" transform="translate(2204.85,43.5) scale(0.97,1)">7</text>
<text class="tl" transform="translate(2204.85,856.5) scale(0.97,1)">7</text>
<text class="tl" transform="translate(2235.45,43.5) scale(0.97,1)">8</text>
<text class="tl" transform="translate(2235.45,856.5) scale(0.97,1)">8</text>
<text class="tl" transform="translate(2266.05,43.5) scale(0.97,1)">9</text>
<text class="tl" transform="translate(2266.05,856.5) scale(0.97,1)">9</text>
<text class="tl" transform="translate(2296.65,43.5) scale(0.97,1)">10</text>
<text class="tl" transform="translate(2296.65,856.5) scale(0.97,1)">10</text>
<text class="tl" transform="translate(2327.25,43.5) scale(0.97,1)">11</text>
<text class="tl" transform="translate(2327.25,856.5) scale(0.97,1)">11</text>
<text class="tl" transform="translate(2357.85,43.5) scale(0.97,1)">12</text>
<text class="tl" transform="translate(2357.85,856.5) scale(0.97,1)">12</text>
<text class="ttl" x="2189.55" y="17.9">North Atlantic right whale</text>
<text class="ml" transform="translate(2189.55,880.7) scale(1,1.07)">Month</text>
<rect x="2395.00" y="129.0" width="31.1" height="632.80" fill="url(#rk)"/>
<rect x="2426.10" y="651.50" width="14" height="2.2" fill="#000"/>
<text class="cl" transform="translate(2447.80,658.40) scale(0.93,1)">0.2</text>
<rect x="2426.10" y="541.88" width="14" height="2.2" fill="#000"/>
<text class="cl" transform="translate(2447.80,548.77) scale(0.93,1)">0.4</text>
<rect x="2426.10" y="432.25" width="14" height="2.2" fill="#000"/>
<text class="cl" transform="translate(2447.80,439.15) scale(0.93,1)">0.6</text>
<rect x="2426.10" y="322.62" width="14" height="2.2" fill="#000"/>
<text class="cl" transform="translate(2447.80,329.53) scale(0.93,1)">0.8</text>
<rect x="2426.10" y="213.00" width="14" height="2.2" fill="#000"/>
<text class="cl" transform="translate(2447.80,219.90) scale(0.93,1)">1.0</text>
</g>
<text class="cl" font-size="17.77" transform="translate(2494.6,587.5) rotate(-90)" style="font-size:17.77px">Predicted Density (animals/100km<tspan dx="0.4" dy="-7" style="font-size:12.4px">2</tspan><tspan dx="1.3" dy="7">)</tspan></text>
</svg></body></html>
